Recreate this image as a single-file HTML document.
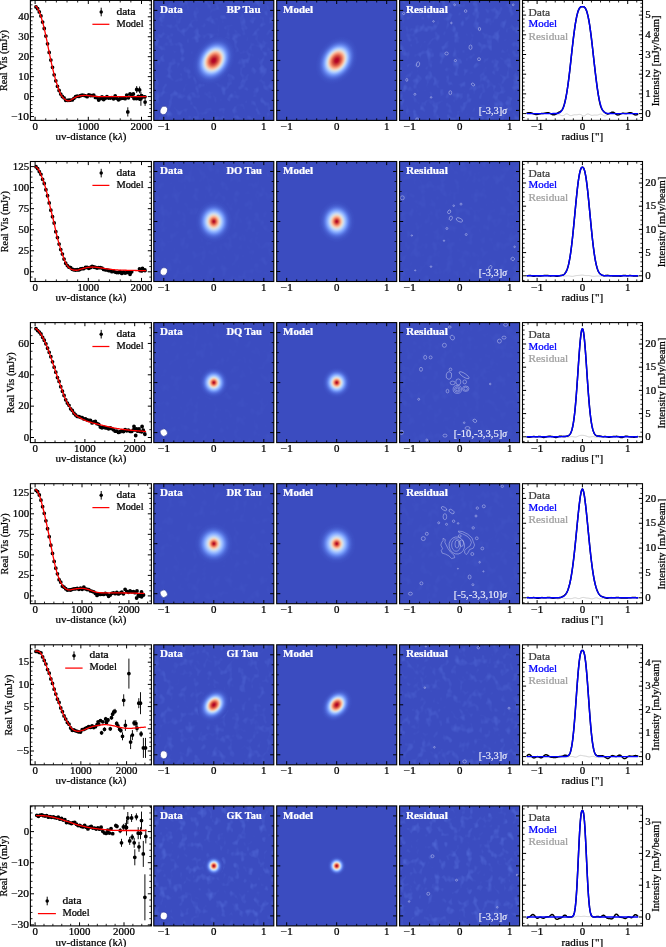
<!DOCTYPE html>
<html><head><meta charset="utf-8"><title>fig</title>
<style>html,body{margin:0;padding:0;background:#fff;overflow:hidden}svg{display:block;will-change:transform}text{font-family:"Liberation Serif",serif}</style>
</head><body>
<svg width="666" height="947" viewBox="0 0 666 947">
<defs><clipPath id="cl0"><rect x="30.4" y="0.4" width="121" height="120"/></clipPath><clipPath id="cl1"><rect x="30.4" y="161.5" width="121" height="120"/></clipPath><clipPath id="cl2"><rect x="30.4" y="322.6" width="121" height="120"/></clipPath><clipPath id="cl3"><rect x="30.4" y="483.7" width="121" height="120"/></clipPath><clipPath id="cl4"><rect x="30.4" y="644.8" width="121" height="120"/></clipPath><clipPath id="cl5"><rect x="30.4" y="805.9" width="121" height="120"/></clipPath><clipPath id="ci00"><rect x="153.8" y="0.4" width="120.0" height="120.0"/></clipPath><filter id="nz00" x="0" y="0" width="1" height="1" color-interpolation-filters="sRGB"><feTurbulence type="fractalNoise" baseFrequency="0.15 0.12" numOctaves="2" seed="7"/><feColorMatrix type="matrix" values="0 0 0 0 0.36  0 0 0 0 0.47  0 0 0 0 0.89  1.15 0 0 0 -0.62"/></filter><radialGradient id="g00" gradientUnits="userSpaceOnUse" cx="0" cy="0" r="25.75"><stop offset="0.0000" stop-color="#b40426"/><stop offset="0.0250" stop-color="#b40426"/><stop offset="0.0500" stop-color="#b40426"/><stop offset="0.0750" stop-color="#b70d28"/><stop offset="0.1000" stop-color="#ba162b"/><stop offset="0.1250" stop-color="#c0282f"/><stop offset="0.1500" stop-color="#c73635"/><stop offset="0.1750" stop-color="#cf453c"/><stop offset="0.2000" stop-color="#d75445"/><stop offset="0.2250" stop-color="#e0654f"/><stop offset="0.2500" stop-color="#e9785d"/><stop offset="0.2750" stop-color="#f08a6c"/><stop offset="0.3000" stop-color="#f59d7e"/><stop offset="0.3250" stop-color="#f7af91"/><stop offset="0.3500" stop-color="#f6bfa6"/><stop offset="0.3750" stop-color="#f1cdba"/><stop offset="0.4000" stop-color="#e7d7ce"/><stop offset="0.4250" stop-color="#d9dce1"/><stop offset="0.4500" stop-color="#cbd8ee"/><stop offset="0.4750" stop-color="#bcd2f7"/><stop offset="0.5000" stop-color="#adc9fd"/><stop offset="0.5250" stop-color="#9dbdff"/><stop offset="0.5500" stop-color="#8fb1fe"/><stop offset="0.5750" stop-color="#81a4fb"/><stop offset="0.6000" stop-color="#7597f6"/><stop offset="0.6250" stop-color="#6b8df0"/><stop offset="0.6500" stop-color="#6282ea"/><stop offset="0.6750" stop-color="#5a78e4"/><stop offset="0.7000" stop-color="#5470de"/><stop offset="0.7250" stop-color="#4e68d8"/><stop offset="0.7500" stop-color="#4a63d3"/><stop offset="0.7750" stop-color="#465ecf"/><stop offset="0.8000" stop-color="#4358cb"/><stop offset="0.8250" stop-color="#4055c8"/><stop offset="0.8500" stop-color="#3f53c6"/><stop offset="0.8750" stop-color="#3e51c5"/><stop offset="0.9000" stop-color="#3d50c3"/><stop offset="0.9250" stop-color="#3c4ec2"/><stop offset="0.9500" stop-color="#3c4ec2"/><stop offset="0.9750" stop-color="#3b4cc0"/><stop offset="1.0000" stop-color="#3b4cc0"/><stop offset="1" stop-color="#3b4cc0"/></radialGradient><clipPath id="ci01"><rect x="276.7" y="0.4" width="120.0" height="120.0"/></clipPath><radialGradient id="g01" gradientUnits="userSpaceOnUse" cx="0" cy="0" r="25.75"><stop offset="0.0000" stop-color="#b40426"/><stop offset="0.0250" stop-color="#b40426"/><stop offset="0.0500" stop-color="#b40426"/><stop offset="0.0750" stop-color="#b70d28"/><stop offset="0.1000" stop-color="#ba162b"/><stop offset="0.1250" stop-color="#c0282f"/><stop offset="0.1500" stop-color="#c73635"/><stop offset="0.1750" stop-color="#cf453c"/><stop offset="0.2000" stop-color="#d75445"/><stop offset="0.2250" stop-color="#e0654f"/><stop offset="0.2500" stop-color="#e9785d"/><stop offset="0.2750" stop-color="#f08a6c"/><stop offset="0.3000" stop-color="#f59d7e"/><stop offset="0.3250" stop-color="#f7af91"/><stop offset="0.3500" stop-color="#f6bfa6"/><stop offset="0.3750" stop-color="#f1cdba"/><stop offset="0.4000" stop-color="#e7d7ce"/><stop offset="0.4250" stop-color="#d9dce1"/><stop offset="0.4500" stop-color="#cbd8ee"/><stop offset="0.4750" stop-color="#bcd2f7"/><stop offset="0.5000" stop-color="#adc9fd"/><stop offset="0.5250" stop-color="#9dbdff"/><stop offset="0.5500" stop-color="#8fb1fe"/><stop offset="0.5750" stop-color="#81a4fb"/><stop offset="0.6000" stop-color="#7597f6"/><stop offset="0.6250" stop-color="#6b8df0"/><stop offset="0.6500" stop-color="#6282ea"/><stop offset="0.6750" stop-color="#5a78e4"/><stop offset="0.7000" stop-color="#5470de"/><stop offset="0.7250" stop-color="#4e68d8"/><stop offset="0.7500" stop-color="#4a63d3"/><stop offset="0.7750" stop-color="#465ecf"/><stop offset="0.8000" stop-color="#4358cb"/><stop offset="0.8250" stop-color="#4055c8"/><stop offset="0.8500" stop-color="#3f53c6"/><stop offset="0.8750" stop-color="#3e51c5"/><stop offset="0.9000" stop-color="#3d50c3"/><stop offset="0.9250" stop-color="#3c4ec2"/><stop offset="0.9500" stop-color="#3c4ec2"/><stop offset="0.9750" stop-color="#3b4cc0"/><stop offset="1.0000" stop-color="#3b4cc0"/><stop offset="1" stop-color="#3b4cc0"/></radialGradient><clipPath id="ci02"><rect x="399.6" y="0.4" width="120.0" height="120.0"/></clipPath><filter id="nz02" x="0" y="0" width="1" height="1" color-interpolation-filters="sRGB"><feTurbulence type="fractalNoise" baseFrequency="0.15 0.12" numOctaves="2" seed="9"/><feColorMatrix type="matrix" values="0 0 0 0 0.36  0 0 0 0 0.47  0 0 0 0 0.89  1.27 0 0 0 -0.68"/></filter><clipPath id="ci10"><rect x="153.8" y="161.5" width="120.0" height="120.0"/></clipPath><filter id="nz10" x="0" y="0" width="1" height="1" color-interpolation-filters="sRGB"><feTurbulence type="fractalNoise" baseFrequency="0.15 0.12" numOctaves="2" seed="10"/><feColorMatrix type="matrix" values="0 0 0 0 0.36  0 0 0 0 0.47  0 0 0 0 0.89  0.36 0 0 0 -0.19"/></filter><radialGradient id="g10" gradientUnits="userSpaceOnUse" cx="0" cy="0" r="21.1"><stop offset="0.0000" stop-color="#b40426"/><stop offset="0.0250" stop-color="#b50927"/><stop offset="0.0500" stop-color="#bb1b2c"/><stop offset="0.0750" stop-color="#c43032"/><stop offset="0.1000" stop-color="#d0473d"/><stop offset="0.1250" stop-color="#dc5d4a"/><stop offset="0.1500" stop-color="#e67259"/><stop offset="0.1750" stop-color="#ef886b"/><stop offset="0.2000" stop-color="#f59d7e"/><stop offset="0.2250" stop-color="#f7af91"/><stop offset="0.2500" stop-color="#f6bfa6"/><stop offset="0.2750" stop-color="#f2cbb7"/><stop offset="0.3000" stop-color="#ead5c9"/><stop offset="0.3250" stop-color="#dfdbd9"/><stop offset="0.3500" stop-color="#d5dbe5"/><stop offset="0.3750" stop-color="#cad8ef"/><stop offset="0.4000" stop-color="#bed2f6"/><stop offset="0.4250" stop-color="#b1cbfc"/><stop offset="0.4500" stop-color="#a5c3fe"/><stop offset="0.4750" stop-color="#98b9ff"/><stop offset="0.5000" stop-color="#8db0fe"/><stop offset="0.5250" stop-color="#82a6fb"/><stop offset="0.5500" stop-color="#799cf8"/><stop offset="0.5750" stop-color="#6f92f3"/><stop offset="0.6000" stop-color="#6788ee"/><stop offset="0.6250" stop-color="#5f7fe8"/><stop offset="0.6500" stop-color="#5977e3"/><stop offset="0.6750" stop-color="#536edd"/><stop offset="0.7000" stop-color="#4e68d8"/><stop offset="0.7250" stop-color="#4a63d3"/><stop offset="0.7500" stop-color="#465ecf"/><stop offset="0.7750" stop-color="#445acc"/><stop offset="0.8000" stop-color="#4257c9"/><stop offset="0.8250" stop-color="#4055c8"/><stop offset="0.8500" stop-color="#3e51c5"/><stop offset="0.8750" stop-color="#3d50c3"/><stop offset="0.9000" stop-color="#3d50c3"/><stop offset="0.9250" stop-color="#3c4ec2"/><stop offset="0.9500" stop-color="#3c4ec2"/><stop offset="0.9750" stop-color="#3b4cc0"/><stop offset="1.0000" stop-color="#3b4cc0"/><stop offset="1" stop-color="#3b4cc0"/></radialGradient><clipPath id="ci11"><rect x="276.7" y="161.5" width="120.0" height="120.0"/></clipPath><radialGradient id="g11" gradientUnits="userSpaceOnUse" cx="0" cy="0" r="21.1"><stop offset="0.0000" stop-color="#b40426"/><stop offset="0.0250" stop-color="#b50927"/><stop offset="0.0500" stop-color="#bb1b2c"/><stop offset="0.0750" stop-color="#c43032"/><stop offset="0.1000" stop-color="#d0473d"/><stop offset="0.1250" stop-color="#dc5d4a"/><stop offset="0.1500" stop-color="#e67259"/><stop offset="0.1750" stop-color="#ef886b"/><stop offset="0.2000" stop-color="#f59d7e"/><stop offset="0.2250" stop-color="#f7af91"/><stop offset="0.2500" stop-color="#f6bfa6"/><stop offset="0.2750" stop-color="#f2cbb7"/><stop offset="0.3000" stop-color="#ead5c9"/><stop offset="0.3250" stop-color="#dfdbd9"/><stop offset="0.3500" stop-color="#d5dbe5"/><stop offset="0.3750" stop-color="#cad8ef"/><stop offset="0.4000" stop-color="#bed2f6"/><stop offset="0.4250" stop-color="#b1cbfc"/><stop offset="0.4500" stop-color="#a5c3fe"/><stop offset="0.4750" stop-color="#98b9ff"/><stop offset="0.5000" stop-color="#8db0fe"/><stop offset="0.5250" stop-color="#82a6fb"/><stop offset="0.5500" stop-color="#799cf8"/><stop offset="0.5750" stop-color="#6f92f3"/><stop offset="0.6000" stop-color="#6788ee"/><stop offset="0.6250" stop-color="#5f7fe8"/><stop offset="0.6500" stop-color="#5977e3"/><stop offset="0.6750" stop-color="#536edd"/><stop offset="0.7000" stop-color="#4e68d8"/><stop offset="0.7250" stop-color="#4a63d3"/><stop offset="0.7500" stop-color="#465ecf"/><stop offset="0.7750" stop-color="#445acc"/><stop offset="0.8000" stop-color="#4257c9"/><stop offset="0.8250" stop-color="#4055c8"/><stop offset="0.8500" stop-color="#3e51c5"/><stop offset="0.8750" stop-color="#3d50c3"/><stop offset="0.9000" stop-color="#3d50c3"/><stop offset="0.9250" stop-color="#3c4ec2"/><stop offset="0.9500" stop-color="#3c4ec2"/><stop offset="0.9750" stop-color="#3b4cc0"/><stop offset="1.0000" stop-color="#3b4cc0"/><stop offset="1" stop-color="#3b4cc0"/></radialGradient><clipPath id="ci12"><rect x="399.6" y="161.5" width="120.0" height="120.0"/></clipPath><filter id="nz12" x="0" y="0" width="1" height="1" color-interpolation-filters="sRGB"><feTurbulence type="fractalNoise" baseFrequency="0.15 0.12" numOctaves="2" seed="12"/><feColorMatrix type="matrix" values="0 0 0 0 0.36  0 0 0 0 0.47  0 0 0 0 0.89  0.4 0 0 0 -0.21"/></filter><clipPath id="ci20"><rect x="153.8" y="322.6" width="120.0" height="120.0"/></clipPath><filter id="nz20" x="0" y="0" width="1" height="1" color-interpolation-filters="sRGB"><feTurbulence type="fractalNoise" baseFrequency="0.15 0.12" numOctaves="2" seed="13"/><feColorMatrix type="matrix" values="0 0 0 0 0.36  0 0 0 0 0.47  0 0 0 0 0.89  0.29 0 0 0 -0.16"/></filter><radialGradient id="g20" gradientUnits="userSpaceOnUse" cx="0" cy="0" r="15.85"><stop offset="0.0000" stop-color="#b40426"/><stop offset="0.0250" stop-color="#b50927"/><stop offset="0.0500" stop-color="#bb1b2c"/><stop offset="0.0750" stop-color="#c53334"/><stop offset="0.1000" stop-color="#d1493f"/><stop offset="0.1250" stop-color="#de614d"/><stop offset="0.1500" stop-color="#e9785d"/><stop offset="0.1750" stop-color="#f18f71"/><stop offset="0.2000" stop-color="#f6a385"/><stop offset="0.2250" stop-color="#f7b599"/><stop offset="0.2500" stop-color="#f4c5ad"/><stop offset="0.2750" stop-color="#edd1c2"/><stop offset="0.3000" stop-color="#e3d9d3"/><stop offset="0.3250" stop-color="#d8dce2"/><stop offset="0.3500" stop-color="#ccd9ed"/><stop offset="0.3750" stop-color="#c0d4f5"/><stop offset="0.4000" stop-color="#b3cdfb"/><stop offset="0.4250" stop-color="#a7c5fe"/><stop offset="0.4500" stop-color="#9bbcff"/><stop offset="0.4750" stop-color="#90b2fe"/><stop offset="0.5000" stop-color="#85a8fc"/><stop offset="0.5250" stop-color="#7b9ff9"/><stop offset="0.5500" stop-color="#7295f4"/><stop offset="0.5750" stop-color="#688aef"/><stop offset="0.6000" stop-color="#6282ea"/><stop offset="0.6250" stop-color="#5a78e4"/><stop offset="0.6500" stop-color="#5572df"/><stop offset="0.6750" stop-color="#506bda"/><stop offset="0.7000" stop-color="#4b64d5"/><stop offset="0.7250" stop-color="#485fd1"/><stop offset="0.7500" stop-color="#455cce"/><stop offset="0.7750" stop-color="#4358cb"/><stop offset="0.8000" stop-color="#4055c8"/><stop offset="0.8250" stop-color="#3f53c6"/><stop offset="0.8500" stop-color="#3e51c5"/><stop offset="0.8750" stop-color="#3d50c3"/><stop offset="0.9000" stop-color="#3c4ec2"/><stop offset="0.9250" stop-color="#3c4ec2"/><stop offset="0.9500" stop-color="#3b4cc0"/><stop offset="0.9750" stop-color="#3b4cc0"/><stop offset="1.0000" stop-color="#3b4cc0"/><stop offset="1" stop-color="#3b4cc0"/></radialGradient><clipPath id="ci21"><rect x="276.7" y="322.6" width="120.0" height="120.0"/></clipPath><radialGradient id="g21" gradientUnits="userSpaceOnUse" cx="0" cy="0" r="15.85"><stop offset="0.0000" stop-color="#b40426"/><stop offset="0.0250" stop-color="#b50927"/><stop offset="0.0500" stop-color="#bb1b2c"/><stop offset="0.0750" stop-color="#c53334"/><stop offset="0.1000" stop-color="#d1493f"/><stop offset="0.1250" stop-color="#de614d"/><stop offset="0.1500" stop-color="#e9785d"/><stop offset="0.1750" stop-color="#f18f71"/><stop offset="0.2000" stop-color="#f6a385"/><stop offset="0.2250" stop-color="#f7b599"/><stop offset="0.2500" stop-color="#f4c5ad"/><stop offset="0.2750" stop-color="#edd1c2"/><stop offset="0.3000" stop-color="#e3d9d3"/><stop offset="0.3250" stop-color="#d8dce2"/><stop offset="0.3500" stop-color="#ccd9ed"/><stop offset="0.3750" stop-color="#c0d4f5"/><stop offset="0.4000" stop-color="#b3cdfb"/><stop offset="0.4250" stop-color="#a7c5fe"/><stop offset="0.4500" stop-color="#9bbcff"/><stop offset="0.4750" stop-color="#90b2fe"/><stop offset="0.5000" stop-color="#85a8fc"/><stop offset="0.5250" stop-color="#7b9ff9"/><stop offset="0.5500" stop-color="#7295f4"/><stop offset="0.5750" stop-color="#688aef"/><stop offset="0.6000" stop-color="#6282ea"/><stop offset="0.6250" stop-color="#5a78e4"/><stop offset="0.6500" stop-color="#5572df"/><stop offset="0.6750" stop-color="#506bda"/><stop offset="0.7000" stop-color="#4b64d5"/><stop offset="0.7250" stop-color="#485fd1"/><stop offset="0.7500" stop-color="#455cce"/><stop offset="0.7750" stop-color="#4358cb"/><stop offset="0.8000" stop-color="#4055c8"/><stop offset="0.8250" stop-color="#3f53c6"/><stop offset="0.8500" stop-color="#3e51c5"/><stop offset="0.8750" stop-color="#3d50c3"/><stop offset="0.9000" stop-color="#3c4ec2"/><stop offset="0.9250" stop-color="#3c4ec2"/><stop offset="0.9500" stop-color="#3b4cc0"/><stop offset="0.9750" stop-color="#3b4cc0"/><stop offset="1.0000" stop-color="#3b4cc0"/><stop offset="1" stop-color="#3b4cc0"/></radialGradient><clipPath id="ci22"><rect x="399.6" y="322.6" width="120.0" height="120.0"/></clipPath><filter id="nz22" x="0" y="0" width="1" height="1" color-interpolation-filters="sRGB"><feTurbulence type="fractalNoise" baseFrequency="0.15 0.12" numOctaves="2" seed="15"/><feColorMatrix type="matrix" values="0 0 0 0 0.36  0 0 0 0 0.47  0 0 0 0 0.89  0.32 0 0 0 -0.17"/></filter><clipPath id="ci30"><rect x="153.8" y="483.7" width="120.0" height="120.0"/></clipPath><filter id="nz30" x="0" y="0" width="1" height="1" color-interpolation-filters="sRGB"><feTurbulence type="fractalNoise" baseFrequency="0.15 0.12" numOctaves="2" seed="16"/><feColorMatrix type="matrix" values="0 0 0 0 0.36  0 0 0 0 0.47  0 0 0 0 0.89  0.29 0 0 0 -0.16"/></filter><radialGradient id="g30" gradientUnits="userSpaceOnUse" cx="0" cy="0" r="20.35"><stop offset="0.0000" stop-color="#b40426"/><stop offset="0.0250" stop-color="#b50927"/><stop offset="0.0500" stop-color="#bd1f2d"/><stop offset="0.0750" stop-color="#ca3b37"/><stop offset="0.1000" stop-color="#d75445"/><stop offset="0.1250" stop-color="#e36c55"/><stop offset="0.1500" stop-color="#ee8669"/><stop offset="0.1750" stop-color="#f59f80"/><stop offset="0.2000" stop-color="#f7b396"/><stop offset="0.2250" stop-color="#f5c4ac"/><stop offset="0.2500" stop-color="#eed0c0"/><stop offset="0.2750" stop-color="#e4d9d2"/><stop offset="0.3000" stop-color="#d9dce1"/><stop offset="0.3250" stop-color="#cdd9ec"/><stop offset="0.3500" stop-color="#c3d5f4"/><stop offset="0.3750" stop-color="#b7cff9"/><stop offset="0.4000" stop-color="#abc8fd"/><stop offset="0.4250" stop-color="#a1c0ff"/><stop offset="0.4500" stop-color="#96b7ff"/><stop offset="0.4750" stop-color="#8caffe"/><stop offset="0.5000" stop-color="#82a6fb"/><stop offset="0.5250" stop-color="#799cf8"/><stop offset="0.5500" stop-color="#7093f3"/><stop offset="0.5750" stop-color="#688aef"/><stop offset="0.6000" stop-color="#6282ea"/><stop offset="0.6250" stop-color="#5b7ae5"/><stop offset="0.6500" stop-color="#5572df"/><stop offset="0.6750" stop-color="#506bda"/><stop offset="0.7000" stop-color="#4c66d6"/><stop offset="0.7250" stop-color="#4961d2"/><stop offset="0.7500" stop-color="#465ecf"/><stop offset="0.7750" stop-color="#4358cb"/><stop offset="0.8000" stop-color="#4257c9"/><stop offset="0.8250" stop-color="#3f53c6"/><stop offset="0.8500" stop-color="#3e51c5"/><stop offset="0.8750" stop-color="#3d50c3"/><stop offset="0.9000" stop-color="#3d50c3"/><stop offset="0.9250" stop-color="#3c4ec2"/><stop offset="0.9500" stop-color="#3c4ec2"/><stop offset="0.9750" stop-color="#3b4cc0"/><stop offset="1.0000" stop-color="#3b4cc0"/><stop offset="1" stop-color="#3b4cc0"/></radialGradient><clipPath id="ci31"><rect x="276.7" y="483.7" width="120.0" height="120.0"/></clipPath><radialGradient id="g31" gradientUnits="userSpaceOnUse" cx="0" cy="0" r="20.35"><stop offset="0.0000" stop-color="#b40426"/><stop offset="0.0250" stop-color="#b50927"/><stop offset="0.0500" stop-color="#bd1f2d"/><stop offset="0.0750" stop-color="#ca3b37"/><stop offset="0.1000" stop-color="#d75445"/><stop offset="0.1250" stop-color="#e36c55"/><stop offset="0.1500" stop-color="#ee8669"/><stop offset="0.1750" stop-color="#f59f80"/><stop offset="0.2000" stop-color="#f7b396"/><stop offset="0.2250" stop-color="#f5c4ac"/><stop offset="0.2500" stop-color="#eed0c0"/><stop offset="0.2750" stop-color="#e4d9d2"/><stop offset="0.3000" stop-color="#d9dce1"/><stop offset="0.3250" stop-color="#cdd9ec"/><stop offset="0.3500" stop-color="#c3d5f4"/><stop offset="0.3750" stop-color="#b7cff9"/><stop offset="0.4000" stop-color="#abc8fd"/><stop offset="0.4250" stop-color="#a1c0ff"/><stop offset="0.4500" stop-color="#96b7ff"/><stop offset="0.4750" stop-color="#8caffe"/><stop offset="0.5000" stop-color="#82a6fb"/><stop offset="0.5250" stop-color="#799cf8"/><stop offset="0.5500" stop-color="#7093f3"/><stop offset="0.5750" stop-color="#688aef"/><stop offset="0.6000" stop-color="#6282ea"/><stop offset="0.6250" stop-color="#5b7ae5"/><stop offset="0.6500" stop-color="#5572df"/><stop offset="0.6750" stop-color="#506bda"/><stop offset="0.7000" stop-color="#4c66d6"/><stop offset="0.7250" stop-color="#4961d2"/><stop offset="0.7500" stop-color="#465ecf"/><stop offset="0.7750" stop-color="#4358cb"/><stop offset="0.8000" stop-color="#4257c9"/><stop offset="0.8250" stop-color="#3f53c6"/><stop offset="0.8500" stop-color="#3e51c5"/><stop offset="0.8750" stop-color="#3d50c3"/><stop offset="0.9000" stop-color="#3d50c3"/><stop offset="0.9250" stop-color="#3c4ec2"/><stop offset="0.9500" stop-color="#3c4ec2"/><stop offset="0.9750" stop-color="#3b4cc0"/><stop offset="1.0000" stop-color="#3b4cc0"/><stop offset="1" stop-color="#3b4cc0"/></radialGradient><clipPath id="ci32"><rect x="399.6" y="483.7" width="120.0" height="120.0"/></clipPath><filter id="nz32" x="0" y="0" width="1" height="1" color-interpolation-filters="sRGB"><feTurbulence type="fractalNoise" baseFrequency="0.15 0.12" numOctaves="2" seed="18"/><feColorMatrix type="matrix" values="0 0 0 0 0.36  0 0 0 0 0.47  0 0 0 0 0.89  0.32 0 0 0 -0.17"/></filter><clipPath id="ci40"><rect x="153.8" y="644.8" width="120.0" height="120.0"/></clipPath><filter id="nz40" x="0" y="0" width="1" height="1" color-interpolation-filters="sRGB"><feTurbulence type="fractalNoise" baseFrequency="0.15 0.12" numOctaves="2" seed="19"/><feColorMatrix type="matrix" values="0 0 0 0 0.36  0 0 0 0 0.47  0 0 0 0 0.89  1.08 0 0 0 -0.58"/></filter><radialGradient id="g40" gradientUnits="userSpaceOnUse" cx="0" cy="0" r="18.65"><stop offset="0.0000" stop-color="#b40426"/><stop offset="0.0250" stop-color="#b40426"/><stop offset="0.0500" stop-color="#b50927"/><stop offset="0.0750" stop-color="#ba162b"/><stop offset="0.1000" stop-color="#be242e"/><stop offset="0.1250" stop-color="#c73635"/><stop offset="0.1500" stop-color="#cf453c"/><stop offset="0.1750" stop-color="#d85646"/><stop offset="0.2000" stop-color="#e26952"/><stop offset="0.2250" stop-color="#ea7b60"/><stop offset="0.2500" stop-color="#f29072"/><stop offset="0.2750" stop-color="#f6a385"/><stop offset="0.3000" stop-color="#f7b599"/><stop offset="0.3250" stop-color="#f4c5ad"/><stop offset="0.3500" stop-color="#edd1c2"/><stop offset="0.3750" stop-color="#e1dad6"/><stop offset="0.4000" stop-color="#d4dbe6"/><stop offset="0.4250" stop-color="#c5d6f2"/><stop offset="0.4500" stop-color="#b6cefa"/><stop offset="0.4750" stop-color="#a6c4fe"/><stop offset="0.5000" stop-color="#97b8ff"/><stop offset="0.5250" stop-color="#89acfd"/><stop offset="0.5500" stop-color="#7da0f9"/><stop offset="0.5750" stop-color="#7295f4"/><stop offset="0.6000" stop-color="#688aef"/><stop offset="0.6250" stop-color="#5f7fe8"/><stop offset="0.6500" stop-color="#5977e3"/><stop offset="0.6750" stop-color="#536edd"/><stop offset="0.7000" stop-color="#4e68d8"/><stop offset="0.7250" stop-color="#4961d2"/><stop offset="0.7500" stop-color="#465ecf"/><stop offset="0.7750" stop-color="#4358cb"/><stop offset="0.8000" stop-color="#4257c9"/><stop offset="0.8250" stop-color="#3f53c6"/><stop offset="0.8500" stop-color="#3e51c5"/><stop offset="0.8750" stop-color="#3d50c3"/><stop offset="0.9000" stop-color="#3c4ec2"/><stop offset="0.9250" stop-color="#3c4ec2"/><stop offset="0.9500" stop-color="#3b4cc0"/><stop offset="0.9750" stop-color="#3b4cc0"/><stop offset="1.0000" stop-color="#3b4cc0"/><stop offset="1" stop-color="#3b4cc0"/></radialGradient><clipPath id="ci41"><rect x="276.7" y="644.8" width="120.0" height="120.0"/></clipPath><radialGradient id="g41" gradientUnits="userSpaceOnUse" cx="0" cy="0" r="18.65"><stop offset="0.0000" stop-color="#b40426"/><stop offset="0.0250" stop-color="#b40426"/><stop offset="0.0500" stop-color="#b50927"/><stop offset="0.0750" stop-color="#ba162b"/><stop offset="0.1000" stop-color="#be242e"/><stop offset="0.1250" stop-color="#c73635"/><stop offset="0.1500" stop-color="#cf453c"/><stop offset="0.1750" stop-color="#d85646"/><stop offset="0.2000" stop-color="#e26952"/><stop offset="0.2250" stop-color="#ea7b60"/><stop offset="0.2500" stop-color="#f29072"/><stop offset="0.2750" stop-color="#f6a385"/><stop offset="0.3000" stop-color="#f7b599"/><stop offset="0.3250" stop-color="#f4c5ad"/><stop offset="0.3500" stop-color="#edd1c2"/><stop offset="0.3750" stop-color="#e1dad6"/><stop offset="0.4000" stop-color="#d4dbe6"/><stop offset="0.4250" stop-color="#c5d6f2"/><stop offset="0.4500" stop-color="#b6cefa"/><stop offset="0.4750" stop-color="#a6c4fe"/><stop offset="0.5000" stop-color="#97b8ff"/><stop offset="0.5250" stop-color="#89acfd"/><stop offset="0.5500" stop-color="#7da0f9"/><stop offset="0.5750" stop-color="#7295f4"/><stop offset="0.6000" stop-color="#688aef"/><stop offset="0.6250" stop-color="#5f7fe8"/><stop offset="0.6500" stop-color="#5977e3"/><stop offset="0.6750" stop-color="#536edd"/><stop offset="0.7000" stop-color="#4e68d8"/><stop offset="0.7250" stop-color="#4961d2"/><stop offset="0.7500" stop-color="#465ecf"/><stop offset="0.7750" stop-color="#4358cb"/><stop offset="0.8000" stop-color="#4257c9"/><stop offset="0.8250" stop-color="#3f53c6"/><stop offset="0.8500" stop-color="#3e51c5"/><stop offset="0.8750" stop-color="#3d50c3"/><stop offset="0.9000" stop-color="#3c4ec2"/><stop offset="0.9250" stop-color="#3c4ec2"/><stop offset="0.9500" stop-color="#3b4cc0"/><stop offset="0.9750" stop-color="#3b4cc0"/><stop offset="1.0000" stop-color="#3b4cc0"/><stop offset="1" stop-color="#3b4cc0"/></radialGradient><clipPath id="ci42"><rect x="399.6" y="644.8" width="120.0" height="120.0"/></clipPath><filter id="nz42" x="0" y="0" width="1" height="1" color-interpolation-filters="sRGB"><feTurbulence type="fractalNoise" baseFrequency="0.15 0.12" numOctaves="2" seed="21"/><feColorMatrix type="matrix" values="0 0 0 0 0.36  0 0 0 0 0.47  0 0 0 0 0.89  1.19 0 0 0 -0.64"/></filter><clipPath id="ci50"><rect x="153.8" y="805.9" width="120.0" height="120.0"/></clipPath><filter id="nz50" x="0" y="0" width="1" height="1" color-interpolation-filters="sRGB"><feTurbulence type="fractalNoise" baseFrequency="0.15 0.12" numOctaves="2" seed="22"/><feColorMatrix type="matrix" values="0 0 0 0 0.36  0 0 0 0 0.47  0 0 0 0 0.89  1.44 0 0 0 -0.78"/></filter><radialGradient id="g50" gradientUnits="userSpaceOnUse" cx="0" cy="0" r="10.4"><stop offset="0.0000" stop-color="#b40426"/><stop offset="0.0250" stop-color="#b40426"/><stop offset="0.0500" stop-color="#b8122a"/><stop offset="0.0750" stop-color="#be242e"/><stop offset="0.1000" stop-color="#c73635"/><stop offset="0.1250" stop-color="#d0473d"/><stop offset="0.1500" stop-color="#da5a49"/><stop offset="0.1750" stop-color="#e46e56"/><stop offset="0.2000" stop-color="#ed8366"/><stop offset="0.2250" stop-color="#f39778"/><stop offset="0.2500" stop-color="#f7aa8c"/><stop offset="0.2750" stop-color="#f7bca1"/><stop offset="0.3000" stop-color="#f2cab5"/><stop offset="0.3250" stop-color="#ead5c9"/><stop offset="0.3500" stop-color="#dddcdc"/><stop offset="0.3750" stop-color="#d1dae9"/><stop offset="0.4000" stop-color="#c3d5f4"/><stop offset="0.4250" stop-color="#b3cdfb"/><stop offset="0.4500" stop-color="#a5c3fe"/><stop offset="0.4750" stop-color="#97b8ff"/><stop offset="0.5000" stop-color="#89acfd"/><stop offset="0.5250" stop-color="#7da0f9"/><stop offset="0.5500" stop-color="#7295f4"/><stop offset="0.5750" stop-color="#688aef"/><stop offset="0.6000" stop-color="#5f7fe8"/><stop offset="0.6250" stop-color="#5977e3"/><stop offset="0.6500" stop-color="#536edd"/><stop offset="0.6750" stop-color="#4e68d8"/><stop offset="0.7000" stop-color="#4961d2"/><stop offset="0.7250" stop-color="#455cce"/><stop offset="0.7500" stop-color="#4358cb"/><stop offset="0.7750" stop-color="#4055c8"/><stop offset="0.8000" stop-color="#3f53c6"/><stop offset="0.8250" stop-color="#3e51c5"/><stop offset="0.8500" stop-color="#3d50c3"/><stop offset="0.8750" stop-color="#3c4ec2"/><stop offset="0.9000" stop-color="#3c4ec2"/><stop offset="0.9250" stop-color="#3b4cc0"/><stop offset="0.9500" stop-color="#3b4cc0"/><stop offset="0.9750" stop-color="#3b4cc0"/><stop offset="1.0000" stop-color="#3b4cc0"/><stop offset="1" stop-color="#3b4cc0"/></radialGradient><clipPath id="ci51"><rect x="276.7" y="805.9" width="120.0" height="120.0"/></clipPath><radialGradient id="g51" gradientUnits="userSpaceOnUse" cx="0" cy="0" r="10.4"><stop offset="0.0000" stop-color="#b40426"/><stop offset="0.0250" stop-color="#b40426"/><stop offset="0.0500" stop-color="#b8122a"/><stop offset="0.0750" stop-color="#be242e"/><stop offset="0.1000" stop-color="#c73635"/><stop offset="0.1250" stop-color="#d0473d"/><stop offset="0.1500" stop-color="#da5a49"/><stop offset="0.1750" stop-color="#e46e56"/><stop offset="0.2000" stop-color="#ed8366"/><stop offset="0.2250" stop-color="#f39778"/><stop offset="0.2500" stop-color="#f7aa8c"/><stop offset="0.2750" stop-color="#f7bca1"/><stop offset="0.3000" stop-color="#f2cab5"/><stop offset="0.3250" stop-color="#ead5c9"/><stop offset="0.3500" stop-color="#dddcdc"/><stop offset="0.3750" stop-color="#d1dae9"/><stop offset="0.4000" stop-color="#c3d5f4"/><stop offset="0.4250" stop-color="#b3cdfb"/><stop offset="0.4500" stop-color="#a5c3fe"/><stop offset="0.4750" stop-color="#97b8ff"/><stop offset="0.5000" stop-color="#89acfd"/><stop offset="0.5250" stop-color="#7da0f9"/><stop offset="0.5500" stop-color="#7295f4"/><stop offset="0.5750" stop-color="#688aef"/><stop offset="0.6000" stop-color="#5f7fe8"/><stop offset="0.6250" stop-color="#5977e3"/><stop offset="0.6500" stop-color="#536edd"/><stop offset="0.6750" stop-color="#4e68d8"/><stop offset="0.7000" stop-color="#4961d2"/><stop offset="0.7250" stop-color="#455cce"/><stop offset="0.7500" stop-color="#4358cb"/><stop offset="0.7750" stop-color="#4055c8"/><stop offset="0.8000" stop-color="#3f53c6"/><stop offset="0.8250" stop-color="#3e51c5"/><stop offset="0.8500" stop-color="#3d50c3"/><stop offset="0.8750" stop-color="#3c4ec2"/><stop offset="0.9000" stop-color="#3c4ec2"/><stop offset="0.9250" stop-color="#3b4cc0"/><stop offset="0.9500" stop-color="#3b4cc0"/><stop offset="0.9750" stop-color="#3b4cc0"/><stop offset="1.0000" stop-color="#3b4cc0"/><stop offset="1" stop-color="#3b4cc0"/></radialGradient><clipPath id="ci52"><rect x="399.6" y="805.9" width="120.0" height="120.0"/></clipPath><filter id="nz52" x="0" y="0" width="1" height="1" color-interpolation-filters="sRGB"><feTurbulence type="fractalNoise" baseFrequency="0.15 0.12" numOctaves="2" seed="24"/><feColorMatrix type="matrix" values="0 0 0 0 0.36  0 0 0 0 0.47  0 0 0 0 0.89  1.58 0 0 0 -0.86"/></filter><clipPath id="cp0"><rect x="522.5" y="0.4" width="120.0" height="120.0"/></clipPath><clipPath id="cp1"><rect x="522.5" y="161.5" width="120.0" height="120.0"/></clipPath><clipPath id="cp2"><rect x="522.5" y="322.6" width="120.0" height="120.0"/></clipPath><clipPath id="cp3"><rect x="522.5" y="483.7" width="120.0" height="120.0"/></clipPath><clipPath id="cp4"><rect x="522.5" y="644.8" width="120.0" height="120.0"/></clipPath><clipPath id="cp5"><rect x="522.5" y="805.9" width="120.0" height="120.0"/></clipPath></defs>
<rect width="666" height="947" fill="#fff"/>
<rect x="30.4" y="0.4" width="121" height="120" fill="#fff" stroke="#000" stroke-width="1.1"/>
<g clip-path="url(#cl0)">
<path d="M136.7 86.1V92.9M139.6 86.5V93.3M127.8 107.3V116.5M145.1 98.3V105.9M140.9 91.8V105.8" stroke="#111" stroke-width="1.0" fill="none"/>
<path d="M34.1 6.9a1.9 1.9 0 1 0 3.8 0a1.9 1.9 0 1 0 -3.8 0M35.75 8.68a1.9 1.9 0 1 0 3.8 0a1.9 1.9 0 1 0 -3.8 0M37.4 11.93a1.9 1.9 0 1 0 3.8 0a1.9 1.9 0 1 0 -3.8 0M39.05 15.92a1.9 1.9 0 1 0 3.8 0a1.9 1.9 0 1 0 -3.8 0M40.7 22.09a1.9 1.9 0 1 0 3.8 0a1.9 1.9 0 1 0 -3.8 0M42.35 28.48a1.9 1.9 0 1 0 3.8 0a1.9 1.9 0 1 0 -3.8 0M44 36.04a1.9 1.9 0 1 0 3.8 0a1.9 1.9 0 1 0 -3.8 0M45.65 43.78a1.9 1.9 0 1 0 3.8 0a1.9 1.9 0 1 0 -3.8 0M47.3 52.41a1.9 1.9 0 1 0 3.8 0a1.9 1.9 0 1 0 -3.8 0M48.95 60.12a1.9 1.9 0 1 0 3.8 0a1.9 1.9 0 1 0 -3.8 0M50.6 67.35a1.9 1.9 0 1 0 3.8 0a1.9 1.9 0 1 0 -3.8 0M52.25 74.86a1.9 1.9 0 1 0 3.8 0a1.9 1.9 0 1 0 -3.8 0M53.9 80.8a1.9 1.9 0 1 0 3.8 0a1.9 1.9 0 1 0 -3.8 0M55.55 86.36a1.9 1.9 0 1 0 3.8 0a1.9 1.9 0 1 0 -3.8 0M57.2 90.48a1.9 1.9 0 1 0 3.8 0a1.9 1.9 0 1 0 -3.8 0M58.85 94.03a1.9 1.9 0 1 0 3.8 0a1.9 1.9 0 1 0 -3.8 0M60.5 96.51a1.9 1.9 0 1 0 3.8 0a1.9 1.9 0 1 0 -3.8 0M62.15 97.84a1.9 1.9 0 1 0 3.8 0a1.9 1.9 0 1 0 -3.8 0M63.8 100.36a1.9 1.9 0 1 0 3.8 0a1.9 1.9 0 1 0 -3.8 0M65.45 100.29a1.9 1.9 0 1 0 3.8 0a1.9 1.9 0 1 0 -3.8 0M67.1 100.25a1.9 1.9 0 1 0 3.8 0a1.9 1.9 0 1 0 -3.8 0M68.75 100.06a1.9 1.9 0 1 0 3.8 0a1.9 1.9 0 1 0 -3.8 0M70.4 99.92a1.9 1.9 0 1 0 3.8 0a1.9 1.9 0 1 0 -3.8 0M72.05 98.28a1.9 1.9 0 1 0 3.8 0a1.9 1.9 0 1 0 -3.8 0M73.7 96.71a1.9 1.9 0 1 0 3.8 0a1.9 1.9 0 1 0 -3.8 0M75.35 96.13a1.9 1.9 0 1 0 3.8 0a1.9 1.9 0 1 0 -3.8 0M77 96.39a1.9 1.9 0 1 0 3.8 0a1.9 1.9 0 1 0 -3.8 0M78.65 95.7a1.9 1.9 0 1 0 3.8 0a1.9 1.9 0 1 0 -3.8 0M80.3 95.17a1.9 1.9 0 1 0 3.8 0a1.9 1.9 0 1 0 -3.8 0M81.95 95.34a1.9 1.9 0 1 0 3.8 0a1.9 1.9 0 1 0 -3.8 0M83.6 95.85a1.9 1.9 0 1 0 3.8 0a1.9 1.9 0 1 0 -3.8 0M85.25 96.67a1.9 1.9 0 1 0 3.8 0a1.9 1.9 0 1 0 -3.8 0M86.9 94.96a1.9 1.9 0 1 0 3.8 0a1.9 1.9 0 1 0 -3.8 0M88.55 95.5a1.9 1.9 0 1 0 3.8 0a1.9 1.9 0 1 0 -3.8 0M90.2 95.54a1.9 1.9 0 1 0 3.8 0a1.9 1.9 0 1 0 -3.8 0M91.85 95.21a1.9 1.9 0 1 0 3.8 0a1.9 1.9 0 1 0 -3.8 0M93.5 97.42a1.9 1.9 0 1 0 3.8 0a1.9 1.9 0 1 0 -3.8 0M95.15 97.68a1.9 1.9 0 1 0 3.8 0a1.9 1.9 0 1 0 -3.8 0M96.8 100.05a1.9 1.9 0 1 0 3.8 0a1.9 1.9 0 1 0 -3.8 0M98.45 98.64a1.9 1.9 0 1 0 3.8 0a1.9 1.9 0 1 0 -3.8 0M100.1 96.83a1.9 1.9 0 1 0 3.8 0a1.9 1.9 0 1 0 -3.8 0M101.75 99.59a1.9 1.9 0 1 0 3.8 0a1.9 1.9 0 1 0 -3.8 0M103.4 98.36a1.9 1.9 0 1 0 3.8 0a1.9 1.9 0 1 0 -3.8 0M105.05 96.63a1.9 1.9 0 1 0 3.8 0a1.9 1.9 0 1 0 -3.8 0M106.7 98.05a1.9 1.9 0 1 0 3.8 0a1.9 1.9 0 1 0 -3.8 0M108.35 98.05a1.9 1.9 0 1 0 3.8 0a1.9 1.9 0 1 0 -3.8 0M110 97.68a1.9 1.9 0 1 0 3.8 0a1.9 1.9 0 1 0 -3.8 0M111.65 98.84a1.9 1.9 0 1 0 3.8 0a1.9 1.9 0 1 0 -3.8 0M113.3 95.88a1.9 1.9 0 1 0 3.8 0a1.9 1.9 0 1 0 -3.8 0M114.95 98.45a1.9 1.9 0 1 0 3.8 0a1.9 1.9 0 1 0 -3.8 0M116.6 99.86a1.9 1.9 0 1 0 3.8 0a1.9 1.9 0 1 0 -3.8 0M118.25 98.75a1.9 1.9 0 1 0 3.8 0a1.9 1.9 0 1 0 -3.8 0M119.9 98.2a1.9 1.9 0 1 0 3.8 0a1.9 1.9 0 1 0 -3.8 0M121.55 98.11a1.9 1.9 0 1 0 3.8 0a1.9 1.9 0 1 0 -3.8 0M123.2 98.63a1.9 1.9 0 1 0 3.8 0a1.9 1.9 0 1 0 -3.8 0M124.85 95.06a1.9 1.9 0 1 0 3.8 0a1.9 1.9 0 1 0 -3.8 0M126.5 97.77a1.9 1.9 0 1 0 3.8 0a1.9 1.9 0 1 0 -3.8 0M128.15 94a1.9 1.9 0 1 0 3.8 0a1.9 1.9 0 1 0 -3.8 0M129.8 95.75a1.9 1.9 0 1 0 3.8 0a1.9 1.9 0 1 0 -3.8 0M131.45 93.89a1.9 1.9 0 1 0 3.8 0a1.9 1.9 0 1 0 -3.8 0M133.1 98.1a1.9 1.9 0 1 0 3.8 0a1.9 1.9 0 1 0 -3.8 0M134.75 98.52a1.9 1.9 0 1 0 3.8 0a1.9 1.9 0 1 0 -3.8 0M136.4 96.31a1.9 1.9 0 1 0 3.8 0a1.9 1.9 0 1 0 -3.8 0M138.05 99.19a1.9 1.9 0 1 0 3.8 0a1.9 1.9 0 1 0 -3.8 0M139.7 95.61a1.9 1.9 0 1 0 3.8 0a1.9 1.9 0 1 0 -3.8 0M141.35 96.82a1.9 1.9 0 1 0 3.8 0a1.9 1.9 0 1 0 -3.8 0M143 96.83a1.9 1.9 0 1 0 3.8 0a1.9 1.9 0 1 0 -3.8 0M134.8 89.5a1.9 1.9 0 1 0 3.8 0a1.9 1.9 0 1 0 -3.8 0M137.7 89.9a1.9 1.9 0 1 0 3.8 0a1.9 1.9 0 1 0 -3.8 0M125.9 111.9a1.9 1.9 0 1 0 3.8 0a1.9 1.9 0 1 0 -3.8 0M143.2 102.1a1.9 1.9 0 1 0 3.8 0a1.9 1.9 0 1 0 -3.8 0M139 98.8a1.9 1.9 0 1 0 3.8 0a1.9 1.9 0 1 0 -3.8 0M129.9 96a1.9 1.9 0 1 0 3.8 0a1.9 1.9 0 1 0 -3.8 0M132.1 98.5a1.9 1.9 0 1 0 3.8 0a1.9 1.9 0 1 0 -3.8 0" fill="#000"/>
<path d="M35.7 6.14L36.39 6.74L37.09 7.64L37.78 8.77L38.47 10.09L39.17 11.59L39.86 13.32L40.56 15.3L41.25 17.51L41.94 19.87L42.64 22.32L43.33 24.88L44.02 27.65L44.72 30.66L45.41 33.82L46.11 37.02L46.8 40.28L47.49 43.72L48.19 47.31L48.88 50.85L49.57 54.23L50.27 57.52L50.96 60.84L51.66 64.12L52.35 67.22L53.04 70.11L53.74 72.89L54.43 75.58L55.12 78.14L55.82 80.5L56.51 82.72L57.21 84.89L57.9 87.02L58.59 89.06L59.29 90.94L59.98 92.61L60.67 94.06L61.37 95.28L62.06 96.31L62.75 97.19L63.45 97.96L64.14 98.63L64.84 99.24L65.53 99.78L66.22 100.26L66.92 100.64L67.61 100.88L68.3 100.93L69 100.83L69.69 100.6L70.39 100.3L71.08 99.93L71.77 99.51L72.47 99.06L73.16 98.63L73.85 98.21L74.55 97.81L75.24 97.43L75.94 97.07L76.63 96.75L77.32 96.48L78.02 96.26L78.71 96.09L79.4 95.96L80.1 95.85L80.79 95.76L81.48 95.68L82.18 95.6L82.87 95.54L83.57 95.49L84.26 95.45L84.95 95.43L85.65 95.43L86.34 95.45L87.03 95.5L87.73 95.57L88.42 95.66L89.12 95.74L89.81 95.82L90.5 95.9L91.2 95.97L91.89 96.04L92.58 96.12L93.28 96.19L93.97 96.27L94.67 96.34L95.36 96.4L96.05 96.46L96.75 96.51L97.44 96.55L98.13 96.58L98.83 96.59L99.52 96.6L100.22 96.6L100.91 96.6L101.6 96.6L102.3 96.6L102.99 96.6L103.68 96.6L104.38 96.6L105.07 96.6L105.76 96.6L106.46 96.6L107.15 96.6L107.85 96.6L108.54 96.6L109.23 96.6L109.93 96.6L110.62 96.6L111.31 96.6L112.01 96.6L112.7 96.6L113.4 96.6L114.09 96.6L114.78 96.6L115.48 96.6L116.17 96.6L116.86 96.6L117.56 96.6L118.25 96.6L118.95 96.6L119.64 96.6L120.33 96.6L121.03 96.6L121.72 96.6L122.41 96.6L123.11 96.6L123.8 96.6L124.49 96.6L125.19 96.6L125.88 96.6L126.58 96.6L127.27 96.6L127.96 96.6L128.66 96.6L129.35 96.6L130.04 96.6L130.74 96.6L131.43 96.6L132.13 96.6L132.82 96.6L133.51 96.6L134.21 96.6L134.9 96.6L135.59 96.6L136.29 96.6L136.98 96.6L137.68 96.6L138.37 96.6L139.06 96.6L139.76 96.6L140.45 96.6L141.14 96.6L141.84 96.6L142.53 96.6L143.23 96.6L143.92 96.6L144.61 96.6L145.31 96.6L146 96.6" stroke="#ff0000" stroke-width="1.3" fill="none" stroke-linejoin="round" stroke-linecap="round" />
</g>
<path d="M35.1 120.4v-3.6M35.1 0.4v3.6M88.3 120.4v-3.6M88.3 0.4v3.6M141.5 120.4v-3.6M141.5 0.4v3.6M30.4 116.55h3.6M151.4 116.55h-3.6M30.4 96.6h3.6M151.4 96.6h-3.6M30.4 76.65h3.6M151.4 76.65h-3.6M30.4 56.7h3.6M151.4 56.7h-3.6M30.4 36.75h3.6M151.4 36.75h-3.6M30.4 16.8h3.6M151.4 16.8h-3.6" stroke="#000" stroke-width="1.0" fill="none"/>
<path d="M45.74 120.4v-2.1M45.74 0.4v2.1M56.38 120.4v-2.1M56.38 0.4v2.1M67.02 120.4v-2.1M67.02 0.4v2.1M77.66 120.4v-2.1M77.66 0.4v2.1M98.94 120.4v-2.1M98.94 0.4v2.1M109.58 120.4v-2.1M109.58 0.4v2.1M120.22 120.4v-2.1M120.22 0.4v2.1M130.86 120.4v-2.1M130.86 0.4v2.1M30.4 112.56h2.1M151.4 112.56h-2.1M30.4 108.57h2.1M151.4 108.57h-2.1M30.4 104.58h2.1M151.4 104.58h-2.1M30.4 100.59h2.1M151.4 100.59h-2.1M30.4 92.61h2.1M151.4 92.61h-2.1M30.4 88.62h2.1M151.4 88.62h-2.1M30.4 84.63h2.1M151.4 84.63h-2.1M30.4 80.64h2.1M151.4 80.64h-2.1M30.4 72.66h2.1M151.4 72.66h-2.1M30.4 68.67h2.1M151.4 68.67h-2.1M30.4 64.68h2.1M151.4 64.68h-2.1M30.4 60.69h2.1M151.4 60.69h-2.1M30.4 52.71h2.1M151.4 52.71h-2.1M30.4 48.72h2.1M151.4 48.72h-2.1M30.4 44.73h2.1M151.4 44.73h-2.1M30.4 40.74h2.1M151.4 40.74h-2.1M30.4 32.76h2.1M151.4 32.76h-2.1M30.4 28.77h2.1M151.4 28.77h-2.1M30.4 24.78h2.1M151.4 24.78h-2.1M30.4 20.79h2.1M151.4 20.79h-2.1M30.4 12.81h2.1M151.4 12.81h-2.1M30.4 8.82h2.1M151.4 8.82h-2.1M30.4 4.83h2.1M151.4 4.83h-2.1M30.4 0.84h2.1M151.4 0.84h-2.1" stroke="#000" stroke-width="0.85" fill="none"/>
<text x="35.1" y="129.6" font-size="9.3" stroke="#000" stroke-width="0.22" text-anchor="middle" textLength="5.45" lengthAdjust="spacingAndGlyphs" >0</text>
<text x="88.3" y="129.6" font-size="9.3" stroke="#000" stroke-width="0.22" text-anchor="middle" textLength="21.78" lengthAdjust="spacingAndGlyphs" >1000</text>
<text x="141.5" y="129.6" font-size="9.3" stroke="#000" stroke-width="0.22" text-anchor="middle" textLength="21.78" lengthAdjust="spacingAndGlyphs" >2000</text>
<text x="29.1" y="119.65" font-size="9.3" stroke="#000" stroke-width="0.22" text-anchor="end" textLength="18.06" lengthAdjust="spacingAndGlyphs" >−10</text>
<text x="29.1" y="99.7" font-size="9.3" stroke="#000" stroke-width="0.22" text-anchor="end" textLength="5.45" lengthAdjust="spacingAndGlyphs" >0</text>
<text x="29.1" y="79.75" font-size="9.3" stroke="#000" stroke-width="0.22" text-anchor="end" textLength="10.89" lengthAdjust="spacingAndGlyphs" >10</text>
<text x="29.1" y="59.8" font-size="9.3" stroke="#000" stroke-width="0.22" text-anchor="end" textLength="10.89" lengthAdjust="spacingAndGlyphs" >20</text>
<text x="29.1" y="39.85" font-size="9.3" stroke="#000" stroke-width="0.22" text-anchor="end" textLength="10.89" lengthAdjust="spacingAndGlyphs" >30</text>
<text x="29.1" y="19.9" font-size="9.3" stroke="#000" stroke-width="0.22" text-anchor="end" textLength="10.89" lengthAdjust="spacingAndGlyphs" >40</text>
<text x="0" y="0" font-size="9.3" stroke="#000" stroke-width="0.22" text-anchor="middle" textLength="61.01" lengthAdjust="spacingAndGlyphs" transform="translate(6.54 60.6) rotate(-90)">Real Vis (mJy)</text>
<text x="91" y="140" font-size="9.3" stroke="#000" stroke-width="0.22" text-anchor="middle" textLength="70.77" lengthAdjust="spacingAndGlyphs" >uv-distance (k<tspan font-style="italic">λ</tspan>)</text>
<path d="M101.2 7.7V16.3" stroke="#000" stroke-width="1.0"/>
<circle cx="101.2" cy="12" r="1.75"/>
<text x="116.4" y="14.6" font-size="9.3" stroke="#000" stroke-width="0.22" textLength="19.12" lengthAdjust="spacingAndGlyphs" >data</text>
<path d="M92.4 24.3H109.4" stroke="#ff0000" stroke-width="1.25"/>
<text x="116.4" y="26.6" font-size="9.3" stroke="#000" stroke-width="0.22" textLength="27.2" lengthAdjust="spacingAndGlyphs" >Model</text>
<rect x="30.4" y="161.5" width="121" height="120" fill="#fff" stroke="#000" stroke-width="1.1"/>
<g clip-path="url(#cl1)">
<path d="" stroke="#111" stroke-width="1.0" fill="none"/>
<path d="M34.1 166.73a1.9 1.9 0 1 0 3.8 0a1.9 1.9 0 1 0 -3.8 0M35.75 168.61a1.9 1.9 0 1 0 3.8 0a1.9 1.9 0 1 0 -3.8 0M37.4 171.56a1.9 1.9 0 1 0 3.8 0a1.9 1.9 0 1 0 -3.8 0M39.05 174.33a1.9 1.9 0 1 0 3.8 0a1.9 1.9 0 1 0 -3.8 0M40.7 179.3a1.9 1.9 0 1 0 3.8 0a1.9 1.9 0 1 0 -3.8 0M42.35 183.51a1.9 1.9 0 1 0 3.8 0a1.9 1.9 0 1 0 -3.8 0M44 189.75a1.9 1.9 0 1 0 3.8 0a1.9 1.9 0 1 0 -3.8 0M45.65 195.76a1.9 1.9 0 1 0 3.8 0a1.9 1.9 0 1 0 -3.8 0M47.3 202.95a1.9 1.9 0 1 0 3.8 0a1.9 1.9 0 1 0 -3.8 0M48.95 210.17a1.9 1.9 0 1 0 3.8 0a1.9 1.9 0 1 0 -3.8 0M50.6 216.67a1.9 1.9 0 1 0 3.8 0a1.9 1.9 0 1 0 -3.8 0M52.25 223.01a1.9 1.9 0 1 0 3.8 0a1.9 1.9 0 1 0 -3.8 0M53.9 231.69a1.9 1.9 0 1 0 3.8 0a1.9 1.9 0 1 0 -3.8 0M55.55 237.56a1.9 1.9 0 1 0 3.8 0a1.9 1.9 0 1 0 -3.8 0M57.2 244.07a1.9 1.9 0 1 0 3.8 0a1.9 1.9 0 1 0 -3.8 0M58.85 249.61a1.9 1.9 0 1 0 3.8 0a1.9 1.9 0 1 0 -3.8 0M60.5 254.08a1.9 1.9 0 1 0 3.8 0a1.9 1.9 0 1 0 -3.8 0M62.15 259.03a1.9 1.9 0 1 0 3.8 0a1.9 1.9 0 1 0 -3.8 0M63.8 263.22a1.9 1.9 0 1 0 3.8 0a1.9 1.9 0 1 0 -3.8 0M65.45 265.62a1.9 1.9 0 1 0 3.8 0a1.9 1.9 0 1 0 -3.8 0M67.1 267.21a1.9 1.9 0 1 0 3.8 0a1.9 1.9 0 1 0 -3.8 0M68.75 267.64a1.9 1.9 0 1 0 3.8 0a1.9 1.9 0 1 0 -3.8 0M70.4 269.24a1.9 1.9 0 1 0 3.8 0a1.9 1.9 0 1 0 -3.8 0M72.05 269.8a1.9 1.9 0 1 0 3.8 0a1.9 1.9 0 1 0 -3.8 0M73.7 270.01a1.9 1.9 0 1 0 3.8 0a1.9 1.9 0 1 0 -3.8 0M75.35 269.76a1.9 1.9 0 1 0 3.8 0a1.9 1.9 0 1 0 -3.8 0M77 269.92a1.9 1.9 0 1 0 3.8 0a1.9 1.9 0 1 0 -3.8 0M78.65 268.98a1.9 1.9 0 1 0 3.8 0a1.9 1.9 0 1 0 -3.8 0M80.3 268.68a1.9 1.9 0 1 0 3.8 0a1.9 1.9 0 1 0 -3.8 0M81.95 268.56a1.9 1.9 0 1 0 3.8 0a1.9 1.9 0 1 0 -3.8 0M83.6 267.45a1.9 1.9 0 1 0 3.8 0a1.9 1.9 0 1 0 -3.8 0M85.25 267.36a1.9 1.9 0 1 0 3.8 0a1.9 1.9 0 1 0 -3.8 0M86.9 268.27a1.9 1.9 0 1 0 3.8 0a1.9 1.9 0 1 0 -3.8 0M88.55 267.52a1.9 1.9 0 1 0 3.8 0a1.9 1.9 0 1 0 -3.8 0M90.2 266.41a1.9 1.9 0 1 0 3.8 0a1.9 1.9 0 1 0 -3.8 0M91.85 267.02a1.9 1.9 0 1 0 3.8 0a1.9 1.9 0 1 0 -3.8 0M93.5 267.47a1.9 1.9 0 1 0 3.8 0a1.9 1.9 0 1 0 -3.8 0M95.15 268a1.9 1.9 0 1 0 3.8 0a1.9 1.9 0 1 0 -3.8 0M96.8 267.68a1.9 1.9 0 1 0 3.8 0a1.9 1.9 0 1 0 -3.8 0M98.45 267.63a1.9 1.9 0 1 0 3.8 0a1.9 1.9 0 1 0 -3.8 0M100.1 268.09a1.9 1.9 0 1 0 3.8 0a1.9 1.9 0 1 0 -3.8 0M101.75 269.41a1.9 1.9 0 1 0 3.8 0a1.9 1.9 0 1 0 -3.8 0M103.4 269.82a1.9 1.9 0 1 0 3.8 0a1.9 1.9 0 1 0 -3.8 0M105.05 269.89a1.9 1.9 0 1 0 3.8 0a1.9 1.9 0 1 0 -3.8 0M106.7 270.52a1.9 1.9 0 1 0 3.8 0a1.9 1.9 0 1 0 -3.8 0M108.35 270.68a1.9 1.9 0 1 0 3.8 0a1.9 1.9 0 1 0 -3.8 0M110 271.67a1.9 1.9 0 1 0 3.8 0a1.9 1.9 0 1 0 -3.8 0M111.65 271.04a1.9 1.9 0 1 0 3.8 0a1.9 1.9 0 1 0 -3.8 0M113.3 272.06a1.9 1.9 0 1 0 3.8 0a1.9 1.9 0 1 0 -3.8 0M114.95 272.53a1.9 1.9 0 1 0 3.8 0a1.9 1.9 0 1 0 -3.8 0M116.6 272.48a1.9 1.9 0 1 0 3.8 0a1.9 1.9 0 1 0 -3.8 0M118.25 271.7a1.9 1.9 0 1 0 3.8 0a1.9 1.9 0 1 0 -3.8 0M119.9 273.45a1.9 1.9 0 1 0 3.8 0a1.9 1.9 0 1 0 -3.8 0M121.55 272.09a1.9 1.9 0 1 0 3.8 0a1.9 1.9 0 1 0 -3.8 0M123.2 273.1a1.9 1.9 0 1 0 3.8 0a1.9 1.9 0 1 0 -3.8 0M124.85 272.62a1.9 1.9 0 1 0 3.8 0a1.9 1.9 0 1 0 -3.8 0M126.5 272.26a1.9 1.9 0 1 0 3.8 0a1.9 1.9 0 1 0 -3.8 0M128.15 274.31a1.9 1.9 0 1 0 3.8 0a1.9 1.9 0 1 0 -3.8 0M129.8 271.84a1.9 1.9 0 1 0 3.8 0a1.9 1.9 0 1 0 -3.8 0M138.05 270.52a1.9 1.9 0 1 0 3.8 0a1.9 1.9 0 1 0 -3.8 0M139.7 270.89a1.9 1.9 0 1 0 3.8 0a1.9 1.9 0 1 0 -3.8 0M141.35 270.03a1.9 1.9 0 1 0 3.8 0a1.9 1.9 0 1 0 -3.8 0M143 269.96a1.9 1.9 0 1 0 3.8 0a1.9 1.9 0 1 0 -3.8 0M128.3 273.5a1.9 1.9 0 1 0 3.8 0a1.9 1.9 0 1 0 -3.8 0M137.6 269a1.9 1.9 0 1 0 3.8 0a1.9 1.9 0 1 0 -3.8 0M140.6 268.5a1.9 1.9 0 1 0 3.8 0a1.9 1.9 0 1 0 -3.8 0M143.1 270.5a1.9 1.9 0 1 0 3.8 0a1.9 1.9 0 1 0 -3.8 0" fill="#000"/>
<path d="M35.7 166.93L36.39 167.28L37.08 167.85L37.77 168.63L38.46 169.58L39.16 170.7L39.85 172.04L40.54 173.62L41.23 175.38L41.92 177.22L42.61 179.04L43.3 180.87L43.99 182.8L44.69 184.92L45.38 187.26L46.07 189.79L46.76 192.44L47.45 195.19L48.14 198.07L48.83 201.08L49.52 204.18L50.22 207.24L50.91 210.18L51.6 212.99L52.29 215.75L52.98 218.51L53.67 221.4L54.36 224.47L55.05 227.71L55.74 230.93L56.44 233.98L57.13 236.81L57.82 239.45L58.51 241.94L59.2 244.32L59.89 246.62L60.58 248.84L61.27 251.01L61.97 253.12L62.66 255.15L63.35 257.09L64.04 258.94L64.73 260.65L65.42 262.19L66.11 263.56L66.8 264.78L67.49 265.84L68.19 266.72L68.88 267.45L69.57 268.05L70.26 268.57L70.95 269.01L71.64 269.37L72.33 269.65L73.02 269.86L73.72 270L74.41 270.11L75.1 270.19L75.79 270.24L76.48 270.24L77.17 270.18L77.86 270.05L78.55 269.86L79.25 269.65L79.94 269.43L80.63 269.21L81.32 269L82.01 268.78L82.7 268.57L83.39 268.37L84.08 268.19L84.77 268.01L85.47 267.85L86.16 267.7L86.85 267.56L87.54 267.44L88.23 267.34L88.92 267.25L89.61 267.18L90.3 267.12L91 267.07L91.69 267.03L92.38 267.02L93.07 267.03L93.76 267.06L94.45 267.1L95.14 267.17L95.83 267.24L96.53 267.33L97.22 267.41L97.91 267.5L98.6 267.59L99.29 267.68L99.98 267.78L100.67 267.88L101.36 267.99L102.05 268.11L102.75 268.23L103.44 268.35L104.13 268.46L104.82 268.58L105.51 268.69L106.2 268.79L106.89 268.88L107.58 268.97L108.28 269.06L108.97 269.14L109.66 269.23L110.35 269.31L111.04 269.39L111.73 269.47L112.42 269.55L113.11 269.62L113.81 269.69L114.5 269.75L115.19 269.81L115.88 269.87L116.57 269.91L117.26 269.96L117.95 269.99L118.64 270.03L119.33 270.06L120.03 270.08L120.72 270.11L121.41 270.13L122.1 270.16L122.79 270.18L123.48 270.2L124.17 270.22L124.86 270.23L125.56 270.25L126.25 270.27L126.94 270.29L127.63 270.3L128.32 270.32L129.01 270.33L129.7 270.35L130.39 270.37L131.08 270.38L131.78 270.4L132.47 270.42L133.16 270.43L133.85 270.45L134.54 270.47L135.23 270.48L135.92 270.5L136.61 270.51L137.31 270.53L138 270.55L138.69 270.56L139.38 270.58L140.07 270.59L140.76 270.61L141.45 270.62L142.14 270.63L142.84 270.65L143.53 270.66L144.22 270.67L144.91 270.69L145.6 270.69" stroke="#ff0000" stroke-width="1.3" fill="none" stroke-linejoin="round" stroke-linecap="round" />
</g>
<path d="M35.1 281.5v-3.6M35.1 161.5v3.6M88.3 281.5v-3.6M88.3 161.5v3.6M141.5 281.5v-3.6M141.5 161.5v3.6M30.4 271.8h3.6M151.4 271.8h-3.6M30.4 250.76h3.6M151.4 250.76h-3.6M30.4 229.72h3.6M151.4 229.72h-3.6M30.4 208.68h3.6M151.4 208.68h-3.6M30.4 187.64h3.6M151.4 187.64h-3.6M30.4 166.6h3.6M151.4 166.6h-3.6" stroke="#000" stroke-width="1.0" fill="none"/>
<path d="M45.74 281.5v-2.1M45.74 161.5v2.1M56.38 281.5v-2.1M56.38 161.5v2.1M67.02 281.5v-2.1M67.02 161.5v2.1M77.66 281.5v-2.1M77.66 161.5v2.1M98.94 281.5v-2.1M98.94 161.5v2.1M109.58 281.5v-2.1M109.58 161.5v2.1M120.22 281.5v-2.1M120.22 161.5v2.1M130.86 281.5v-2.1M130.86 161.5v2.1M30.4 277.06h2.1M151.4 277.06h-2.1M30.4 266.54h2.1M151.4 266.54h-2.1M30.4 261.28h2.1M151.4 261.28h-2.1M30.4 256.02h2.1M151.4 256.02h-2.1M30.4 245.5h2.1M151.4 245.5h-2.1M30.4 240.24h2.1M151.4 240.24h-2.1M30.4 234.98h2.1M151.4 234.98h-2.1M30.4 224.46h2.1M151.4 224.46h-2.1M30.4 219.2h2.1M151.4 219.2h-2.1M30.4 213.94h2.1M151.4 213.94h-2.1M30.4 203.42h2.1M151.4 203.42h-2.1M30.4 198.16h2.1M151.4 198.16h-2.1M30.4 192.9h2.1M151.4 192.9h-2.1M30.4 182.38h2.1M151.4 182.38h-2.1M30.4 177.12h2.1M151.4 177.12h-2.1M30.4 171.86h2.1M151.4 171.86h-2.1" stroke="#000" stroke-width="0.85" fill="none"/>
<text x="35.1" y="290.7" font-size="9.3" stroke="#000" stroke-width="0.22" text-anchor="middle" textLength="5.45" lengthAdjust="spacingAndGlyphs" >0</text>
<text x="88.3" y="290.7" font-size="9.3" stroke="#000" stroke-width="0.22" text-anchor="middle" textLength="21.78" lengthAdjust="spacingAndGlyphs" >1000</text>
<text x="141.5" y="290.7" font-size="9.3" stroke="#000" stroke-width="0.22" text-anchor="middle" textLength="21.78" lengthAdjust="spacingAndGlyphs" >2000</text>
<text x="29.1" y="274.9" font-size="9.3" stroke="#000" stroke-width="0.22" text-anchor="end" textLength="5.45" lengthAdjust="spacingAndGlyphs" >0</text>
<text x="29.1" y="253.86" font-size="9.3" stroke="#000" stroke-width="0.22" text-anchor="end" textLength="10.89" lengthAdjust="spacingAndGlyphs" >25</text>
<text x="29.1" y="232.82" font-size="9.3" stroke="#000" stroke-width="0.22" text-anchor="end" textLength="10.89" lengthAdjust="spacingAndGlyphs" >50</text>
<text x="29.1" y="211.78" font-size="9.3" stroke="#000" stroke-width="0.22" text-anchor="end" textLength="10.89" lengthAdjust="spacingAndGlyphs" >75</text>
<text x="29.1" y="190.74" font-size="9.3" stroke="#000" stroke-width="0.22" text-anchor="end" textLength="16.34" lengthAdjust="spacingAndGlyphs" >100</text>
<text x="29.1" y="169.7" font-size="9.3" stroke="#000" stroke-width="0.22" text-anchor="end" textLength="16.34" lengthAdjust="spacingAndGlyphs" >125</text>
<text x="0" y="0" font-size="9.3" stroke="#000" stroke-width="0.22" text-anchor="middle" textLength="61.01" lengthAdjust="spacingAndGlyphs" transform="translate(8.26 221.7) rotate(-90)">Real Vis (mJy)</text>
<text x="91" y="301.1" font-size="9.3" stroke="#000" stroke-width="0.22" text-anchor="middle" textLength="70.77" lengthAdjust="spacingAndGlyphs" >uv-distance (k<tspan font-style="italic">λ</tspan>)</text>
<path d="M101.2 168.8V177.4" stroke="#000" stroke-width="1.0"/>
<circle cx="101.2" cy="173.1" r="1.75"/>
<text x="116.4" y="175.7" font-size="9.3" stroke="#000" stroke-width="0.22" textLength="19.12" lengthAdjust="spacingAndGlyphs" >data</text>
<path d="M92.4 185.4H109.4" stroke="#ff0000" stroke-width="1.25"/>
<text x="116.4" y="187.7" font-size="9.3" stroke="#000" stroke-width="0.22" textLength="27.2" lengthAdjust="spacingAndGlyphs" >Model</text>
<rect x="30.4" y="322.6" width="121" height="120" fill="#fff" stroke="#000" stroke-width="1.1"/>
<g clip-path="url(#cl2)">
<path d="" stroke="#111" stroke-width="1.0" fill="none"/>
<path d="M34.1 328.64a1.9 1.9 0 1 0 3.8 0a1.9 1.9 0 1 0 -3.8 0M35.75 330.55a1.9 1.9 0 1 0 3.8 0a1.9 1.9 0 1 0 -3.8 0M37.4 332.08a1.9 1.9 0 1 0 3.8 0a1.9 1.9 0 1 0 -3.8 0M39.05 334.01a1.9 1.9 0 1 0 3.8 0a1.9 1.9 0 1 0 -3.8 0M40.7 337.32a1.9 1.9 0 1 0 3.8 0a1.9 1.9 0 1 0 -3.8 0M42.35 340.27a1.9 1.9 0 1 0 3.8 0a1.9 1.9 0 1 0 -3.8 0M44 343.81a1.9 1.9 0 1 0 3.8 0a1.9 1.9 0 1 0 -3.8 0M45.65 348.24a1.9 1.9 0 1 0 3.8 0a1.9 1.9 0 1 0 -3.8 0M47.3 352.29a1.9 1.9 0 1 0 3.8 0a1.9 1.9 0 1 0 -3.8 0M48.95 356.63a1.9 1.9 0 1 0 3.8 0a1.9 1.9 0 1 0 -3.8 0M50.6 361.79a1.9 1.9 0 1 0 3.8 0a1.9 1.9 0 1 0 -3.8 0M52.25 367.16a1.9 1.9 0 1 0 3.8 0a1.9 1.9 0 1 0 -3.8 0M53.9 372.21a1.9 1.9 0 1 0 3.8 0a1.9 1.9 0 1 0 -3.8 0M55.55 377.54a1.9 1.9 0 1 0 3.8 0a1.9 1.9 0 1 0 -3.8 0M57.2 381.43a1.9 1.9 0 1 0 3.8 0a1.9 1.9 0 1 0 -3.8 0M58.85 386.63a1.9 1.9 0 1 0 3.8 0a1.9 1.9 0 1 0 -3.8 0M60.5 391.27a1.9 1.9 0 1 0 3.8 0a1.9 1.9 0 1 0 -3.8 0M62.15 395.48a1.9 1.9 0 1 0 3.8 0a1.9 1.9 0 1 0 -3.8 0M63.8 399.83a1.9 1.9 0 1 0 3.8 0a1.9 1.9 0 1 0 -3.8 0M65.45 403.06a1.9 1.9 0 1 0 3.8 0a1.9 1.9 0 1 0 -3.8 0M67.1 405.35a1.9 1.9 0 1 0 3.8 0a1.9 1.9 0 1 0 -3.8 0M68.75 408.81a1.9 1.9 0 1 0 3.8 0a1.9 1.9 0 1 0 -3.8 0M70.4 410.4a1.9 1.9 0 1 0 3.8 0a1.9 1.9 0 1 0 -3.8 0M72.05 413.27a1.9 1.9 0 1 0 3.8 0a1.9 1.9 0 1 0 -3.8 0M73.7 414.96a1.9 1.9 0 1 0 3.8 0a1.9 1.9 0 1 0 -3.8 0M75.35 416.41a1.9 1.9 0 1 0 3.8 0a1.9 1.9 0 1 0 -3.8 0M77 416.63a1.9 1.9 0 1 0 3.8 0a1.9 1.9 0 1 0 -3.8 0M78.65 417.32a1.9 1.9 0 1 0 3.8 0a1.9 1.9 0 1 0 -3.8 0M80.3 417.64a1.9 1.9 0 1 0 3.8 0a1.9 1.9 0 1 0 -3.8 0M81.95 418.96a1.9 1.9 0 1 0 3.8 0a1.9 1.9 0 1 0 -3.8 0M83.6 418.82a1.9 1.9 0 1 0 3.8 0a1.9 1.9 0 1 0 -3.8 0M85.25 419.9a1.9 1.9 0 1 0 3.8 0a1.9 1.9 0 1 0 -3.8 0M86.9 420.33a1.9 1.9 0 1 0 3.8 0a1.9 1.9 0 1 0 -3.8 0M88.55 420.34a1.9 1.9 0 1 0 3.8 0a1.9 1.9 0 1 0 -3.8 0M90.2 422.89a1.9 1.9 0 1 0 3.8 0a1.9 1.9 0 1 0 -3.8 0M91.85 421.89a1.9 1.9 0 1 0 3.8 0a1.9 1.9 0 1 0 -3.8 0M93.5 421.5a1.9 1.9 0 1 0 3.8 0a1.9 1.9 0 1 0 -3.8 0M95.15 423.64a1.9 1.9 0 1 0 3.8 0a1.9 1.9 0 1 0 -3.8 0M96.8 424.35a1.9 1.9 0 1 0 3.8 0a1.9 1.9 0 1 0 -3.8 0M98.45 427.06a1.9 1.9 0 1 0 3.8 0a1.9 1.9 0 1 0 -3.8 0M100.1 427.79a1.9 1.9 0 1 0 3.8 0a1.9 1.9 0 1 0 -3.8 0M101.75 427.19a1.9 1.9 0 1 0 3.8 0a1.9 1.9 0 1 0 -3.8 0M103.4 427.74a1.9 1.9 0 1 0 3.8 0a1.9 1.9 0 1 0 -3.8 0M105.05 428.06a1.9 1.9 0 1 0 3.8 0a1.9 1.9 0 1 0 -3.8 0M106.7 428.76a1.9 1.9 0 1 0 3.8 0a1.9 1.9 0 1 0 -3.8 0M108.35 428a1.9 1.9 0 1 0 3.8 0a1.9 1.9 0 1 0 -3.8 0M110 428.65a1.9 1.9 0 1 0 3.8 0a1.9 1.9 0 1 0 -3.8 0M111.65 429.87a1.9 1.9 0 1 0 3.8 0a1.9 1.9 0 1 0 -3.8 0M113.3 431.17a1.9 1.9 0 1 0 3.8 0a1.9 1.9 0 1 0 -3.8 0M114.95 431.14a1.9 1.9 0 1 0 3.8 0a1.9 1.9 0 1 0 -3.8 0M116.6 432.39a1.9 1.9 0 1 0 3.8 0a1.9 1.9 0 1 0 -3.8 0M118.25 431.76a1.9 1.9 0 1 0 3.8 0a1.9 1.9 0 1 0 -3.8 0M119.9 430.89a1.9 1.9 0 1 0 3.8 0a1.9 1.9 0 1 0 -3.8 0M121.55 431.48a1.9 1.9 0 1 0 3.8 0a1.9 1.9 0 1 0 -3.8 0M123.2 429.76a1.9 1.9 0 1 0 3.8 0a1.9 1.9 0 1 0 -3.8 0M124.85 430.75a1.9 1.9 0 1 0 3.8 0a1.9 1.9 0 1 0 -3.8 0M126.5 430.27a1.9 1.9 0 1 0 3.8 0a1.9 1.9 0 1 0 -3.8 0M128.15 431.3a1.9 1.9 0 1 0 3.8 0a1.9 1.9 0 1 0 -3.8 0M129.8 431.42a1.9 1.9 0 1 0 3.8 0a1.9 1.9 0 1 0 -3.8 0M131.45 429.81a1.9 1.9 0 1 0 3.8 0a1.9 1.9 0 1 0 -3.8 0M133.1 429.91a1.9 1.9 0 1 0 3.8 0a1.9 1.9 0 1 0 -3.8 0M134.75 428.8a1.9 1.9 0 1 0 3.8 0a1.9 1.9 0 1 0 -3.8 0M136.4 430.75a1.9 1.9 0 1 0 3.8 0a1.9 1.9 0 1 0 -3.8 0M138.05 431.38a1.9 1.9 0 1 0 3.8 0a1.9 1.9 0 1 0 -3.8 0M139.7 431.79a1.9 1.9 0 1 0 3.8 0a1.9 1.9 0 1 0 -3.8 0M141.35 430.14a1.9 1.9 0 1 0 3.8 0a1.9 1.9 0 1 0 -3.8 0M143 434.29a1.9 1.9 0 1 0 3.8 0a1.9 1.9 0 1 0 -3.8 0M132.1 426.5a1.9 1.9 0 1 0 3.8 0a1.9 1.9 0 1 0 -3.8 0M133.8 435.5a1.9 1.9 0 1 0 3.8 0a1.9 1.9 0 1 0 -3.8 0M140.2 426.5a1.9 1.9 0 1 0 3.8 0a1.9 1.9 0 1 0 -3.8 0M142.9 433.9a1.9 1.9 0 1 0 3.8 0a1.9 1.9 0 1 0 -3.8 0M137.1 429a1.9 1.9 0 1 0 3.8 0a1.9 1.9 0 1 0 -3.8 0M135.6 431a1.9 1.9 0 1 0 3.8 0a1.9 1.9 0 1 0 -3.8 0" fill="#000"/>
<path d="M35.7 328.56L36.39 328.92L37.08 329.44L37.77 330.09L38.46 330.83L39.15 331.65L39.84 332.54L40.53 333.53L41.22 334.63L41.92 335.85L42.61 337.15L43.3 338.5L43.99 339.89L44.68 341.32L45.37 342.79L46.06 344.32L46.75 345.94L47.44 347.66L48.13 349.49L48.82 351.4L49.51 353.36L50.2 355.34L50.89 357.35L51.58 359.39L52.27 361.44L52.96 363.52L53.65 365.61L54.35 367.72L55.04 369.83L55.73 371.94L56.42 374.03L57.11 376.07L57.8 378.06L58.49 380.01L59.18 381.93L59.87 383.85L60.56 385.8L61.25 387.79L61.94 389.79L62.63 391.75L63.32 393.65L64.01 395.45L64.7 397.17L65.39 398.8L66.08 400.33L66.78 401.75L67.47 403.07L68.16 404.3L68.85 405.46L69.54 406.58L70.23 407.68L70.92 408.77L71.61 409.86L72.3 410.93L72.99 411.96L73.68 412.91L74.37 413.74L75.06 414.46L75.75 415.09L76.44 415.64L77.13 416.14L77.82 416.6L78.52 417.03L79.21 417.43L79.9 417.81L80.59 418.18L81.28 418.54L81.97 418.89L82.66 419.23L83.35 419.56L84.04 419.87L84.73 420.18L85.42 420.47L86.11 420.76L86.8 421.03L87.49 421.29L88.18 421.54L88.87 421.78L89.56 422.01L90.25 422.23L90.95 422.44L91.64 422.65L92.33 422.85L93.02 423.04L93.71 423.22L94.4 423.4L95.09 423.58L95.78 423.75L96.47 423.91L97.16 424.08L97.85 424.24L98.54 424.4L99.23 424.56L99.92 424.72L100.61 424.88L101.3 425.04L101.99 425.21L102.68 425.37L103.38 425.53L104.07 425.7L104.76 425.87L105.45 426.03L106.14 426.2L106.83 426.37L107.52 426.53L108.21 426.7L108.9 426.86L109.59 427.02L110.28 427.18L110.97 427.33L111.66 427.49L112.35 427.63L113.04 427.78L113.73 427.91L114.42 428.05L115.12 428.17L115.81 428.3L116.5 428.41L117.19 428.52L117.88 428.63L118.57 428.74L119.26 428.84L119.95 428.95L120.64 429.04L121.33 429.14L122.02 429.24L122.71 429.33L123.4 429.42L124.09 429.51L124.78 429.59L125.47 429.67L126.16 429.76L126.85 429.83L127.55 429.91L128.24 429.99L128.93 430.06L129.62 430.13L130.31 430.2L131 430.27L131.69 430.33L132.38 430.4L133.07 430.46L133.76 430.53L134.45 430.59L135.14 430.65L135.83 430.71L136.52 430.77L137.21 430.83L137.9 430.89L138.59 430.94L139.28 430.99L139.98 431.05L140.67 431.1L141.36 431.15L142.05 431.19L142.74 431.24L143.43 431.28L144.12 431.32L144.81 431.36L145.5 431.38" stroke="#ff0000" stroke-width="1.3" fill="none" stroke-linejoin="round" stroke-linecap="round" />
</g>
<path d="M35.1 442.6v-3.6M35.1 322.6v3.6M84.9 442.6v-3.6M84.9 322.6v3.6M134.7 442.6v-3.6M134.7 322.6v3.6M30.4 437.5h3.6M151.4 437.5h-3.6M30.4 406.15h3.6M151.4 406.15h-3.6M30.4 374.8h3.6M151.4 374.8h-3.6M30.4 343.45h3.6M151.4 343.45h-3.6" stroke="#000" stroke-width="1.0" fill="none"/>
<path d="M45.06 442.6v-2.1M45.06 322.6v2.1M55.02 442.6v-2.1M55.02 322.6v2.1M64.98 442.6v-2.1M64.98 322.6v2.1M74.94 442.6v-2.1M74.94 322.6v2.1M94.86 442.6v-2.1M94.86 322.6v2.1M104.82 442.6v-2.1M104.82 322.6v2.1M114.78 442.6v-2.1M114.78 322.6v2.1M124.74 442.6v-2.1M124.74 322.6v2.1M144.66 442.6v-2.1M144.66 322.6v2.1M30.4 429.66h2.1M151.4 429.66h-2.1M30.4 421.82h2.1M151.4 421.82h-2.1M30.4 413.99h2.1M151.4 413.99h-2.1M30.4 398.31h2.1M151.4 398.31h-2.1M30.4 390.48h2.1M151.4 390.48h-2.1M30.4 382.64h2.1M151.4 382.64h-2.1M30.4 366.96h2.1M151.4 366.96h-2.1M30.4 359.12h2.1M151.4 359.12h-2.1M30.4 351.29h2.1M151.4 351.29h-2.1M30.4 335.61h2.1M151.4 335.61h-2.1M30.4 327.77h2.1M151.4 327.77h-2.1" stroke="#000" stroke-width="0.85" fill="none"/>
<text x="35.1" y="451.8" font-size="9.3" stroke="#000" stroke-width="0.22" text-anchor="middle" textLength="5.45" lengthAdjust="spacingAndGlyphs" >0</text>
<text x="84.9" y="451.8" font-size="9.3" stroke="#000" stroke-width="0.22" text-anchor="middle" textLength="21.78" lengthAdjust="spacingAndGlyphs" >1000</text>
<text x="134.7" y="451.8" font-size="9.3" stroke="#000" stroke-width="0.22" text-anchor="middle" textLength="21.78" lengthAdjust="spacingAndGlyphs" >2000</text>
<text x="29.1" y="440.6" font-size="9.3" stroke="#000" stroke-width="0.22" text-anchor="end" textLength="5.45" lengthAdjust="spacingAndGlyphs" >0</text>
<text x="29.1" y="409.25" font-size="9.3" stroke="#000" stroke-width="0.22" text-anchor="end" textLength="10.89" lengthAdjust="spacingAndGlyphs" >20</text>
<text x="29.1" y="377.9" font-size="9.3" stroke="#000" stroke-width="0.22" text-anchor="end" textLength="10.89" lengthAdjust="spacingAndGlyphs" >40</text>
<text x="29.1" y="346.55" font-size="9.3" stroke="#000" stroke-width="0.22" text-anchor="end" textLength="10.89" lengthAdjust="spacingAndGlyphs" >60</text>
<text x="0" y="0" font-size="9.3" stroke="#000" stroke-width="0.22" text-anchor="middle" textLength="61.01" lengthAdjust="spacingAndGlyphs" transform="translate(13.71 382.8) rotate(-90)">Real Vis (mJy)</text>
<text x="91" y="462.2" font-size="9.3" stroke="#000" stroke-width="0.22" text-anchor="middle" textLength="70.77" lengthAdjust="spacingAndGlyphs" >uv-distance (k<tspan font-style="italic">λ</tspan>)</text>
<path d="M101.2 329.9V338.5" stroke="#000" stroke-width="1.0"/>
<circle cx="101.2" cy="334.2" r="1.75"/>
<text x="116.4" y="336.8" font-size="9.3" stroke="#000" stroke-width="0.22" textLength="19.12" lengthAdjust="spacingAndGlyphs" >data</text>
<path d="M92.4 346.5H109.4" stroke="#ff0000" stroke-width="1.25"/>
<text x="116.4" y="348.8" font-size="9.3" stroke="#000" stroke-width="0.22" textLength="27.2" lengthAdjust="spacingAndGlyphs" >Model</text>
<rect x="30.4" y="483.7" width="121" height="120" fill="#fff" stroke="#000" stroke-width="1.1"/>
<g clip-path="url(#cl3)">
<path d="" stroke="#111" stroke-width="1.0" fill="none"/>
<path d="M34.1 490.3a1.9 1.9 0 1 0 3.8 0a1.9 1.9 0 1 0 -3.8 0M35.75 491.72a1.9 1.9 0 1 0 3.8 0a1.9 1.9 0 1 0 -3.8 0M37.4 495a1.9 1.9 0 1 0 3.8 0a1.9 1.9 0 1 0 -3.8 0M39.05 500.15a1.9 1.9 0 1 0 3.8 0a1.9 1.9 0 1 0 -3.8 0M40.7 506.69a1.9 1.9 0 1 0 3.8 0a1.9 1.9 0 1 0 -3.8 0M42.35 513.3a1.9 1.9 0 1 0 3.8 0a1.9 1.9 0 1 0 -3.8 0M44 520.87a1.9 1.9 0 1 0 3.8 0a1.9 1.9 0 1 0 -3.8 0M45.65 528.74a1.9 1.9 0 1 0 3.8 0a1.9 1.9 0 1 0 -3.8 0M47.3 536.69a1.9 1.9 0 1 0 3.8 0a1.9 1.9 0 1 0 -3.8 0M48.95 545.24a1.9 1.9 0 1 0 3.8 0a1.9 1.9 0 1 0 -3.8 0M50.6 553.44a1.9 1.9 0 1 0 3.8 0a1.9 1.9 0 1 0 -3.8 0M52.25 561.4a1.9 1.9 0 1 0 3.8 0a1.9 1.9 0 1 0 -3.8 0M53.9 568.13a1.9 1.9 0 1 0 3.8 0a1.9 1.9 0 1 0 -3.8 0M55.55 573.87a1.9 1.9 0 1 0 3.8 0a1.9 1.9 0 1 0 -3.8 0M57.2 579.68a1.9 1.9 0 1 0 3.8 0a1.9 1.9 0 1 0 -3.8 0M58.85 582.2a1.9 1.9 0 1 0 3.8 0a1.9 1.9 0 1 0 -3.8 0M60.5 586.18a1.9 1.9 0 1 0 3.8 0a1.9 1.9 0 1 0 -3.8 0M62.15 587.15a1.9 1.9 0 1 0 3.8 0a1.9 1.9 0 1 0 -3.8 0M63.8 588.76a1.9 1.9 0 1 0 3.8 0a1.9 1.9 0 1 0 -3.8 0M65.45 590.05a1.9 1.9 0 1 0 3.8 0a1.9 1.9 0 1 0 -3.8 0M67.1 589.92a1.9 1.9 0 1 0 3.8 0a1.9 1.9 0 1 0 -3.8 0M68.75 590a1.9 1.9 0 1 0 3.8 0a1.9 1.9 0 1 0 -3.8 0M70.4 589.33a1.9 1.9 0 1 0 3.8 0a1.9 1.9 0 1 0 -3.8 0M72.05 588.9a1.9 1.9 0 1 0 3.8 0a1.9 1.9 0 1 0 -3.8 0M73.7 588.8a1.9 1.9 0 1 0 3.8 0a1.9 1.9 0 1 0 -3.8 0M75.35 588.33a1.9 1.9 0 1 0 3.8 0a1.9 1.9 0 1 0 -3.8 0M77 589.35a1.9 1.9 0 1 0 3.8 0a1.9 1.9 0 1 0 -3.8 0M78.65 588.26a1.9 1.9 0 1 0 3.8 0a1.9 1.9 0 1 0 -3.8 0M80.3 589.28a1.9 1.9 0 1 0 3.8 0a1.9 1.9 0 1 0 -3.8 0M81.95 587.04a1.9 1.9 0 1 0 3.8 0a1.9 1.9 0 1 0 -3.8 0M83.6 588.83a1.9 1.9 0 1 0 3.8 0a1.9 1.9 0 1 0 -3.8 0M85.25 589.52a1.9 1.9 0 1 0 3.8 0a1.9 1.9 0 1 0 -3.8 0M86.9 589.55a1.9 1.9 0 1 0 3.8 0a1.9 1.9 0 1 0 -3.8 0M88.55 590.97a1.9 1.9 0 1 0 3.8 0a1.9 1.9 0 1 0 -3.8 0M90.2 591.36a1.9 1.9 0 1 0 3.8 0a1.9 1.9 0 1 0 -3.8 0M91.85 591.97a1.9 1.9 0 1 0 3.8 0a1.9 1.9 0 1 0 -3.8 0M93.5 593.46a1.9 1.9 0 1 0 3.8 0a1.9 1.9 0 1 0 -3.8 0M95.15 595.44a1.9 1.9 0 1 0 3.8 0a1.9 1.9 0 1 0 -3.8 0M96.8 594.17a1.9 1.9 0 1 0 3.8 0a1.9 1.9 0 1 0 -3.8 0M98.45 594.38a1.9 1.9 0 1 0 3.8 0a1.9 1.9 0 1 0 -3.8 0M100.1 594.01a1.9 1.9 0 1 0 3.8 0a1.9 1.9 0 1 0 -3.8 0M101.75 594.42a1.9 1.9 0 1 0 3.8 0a1.9 1.9 0 1 0 -3.8 0M103.4 593.43a1.9 1.9 0 1 0 3.8 0a1.9 1.9 0 1 0 -3.8 0M105.05 594.21a1.9 1.9 0 1 0 3.8 0a1.9 1.9 0 1 0 -3.8 0M106.7 596.28a1.9 1.9 0 1 0 3.8 0a1.9 1.9 0 1 0 -3.8 0M108.35 595.04a1.9 1.9 0 1 0 3.8 0a1.9 1.9 0 1 0 -3.8 0M110 593.35a1.9 1.9 0 1 0 3.8 0a1.9 1.9 0 1 0 -3.8 0M111.65 592.87a1.9 1.9 0 1 0 3.8 0a1.9 1.9 0 1 0 -3.8 0M113.3 593.63a1.9 1.9 0 1 0 3.8 0a1.9 1.9 0 1 0 -3.8 0M114.95 592.49a1.9 1.9 0 1 0 3.8 0a1.9 1.9 0 1 0 -3.8 0M116.6 593.97a1.9 1.9 0 1 0 3.8 0a1.9 1.9 0 1 0 -3.8 0M118.25 593.03a1.9 1.9 0 1 0 3.8 0a1.9 1.9 0 1 0 -3.8 0M119.9 592.14a1.9 1.9 0 1 0 3.8 0a1.9 1.9 0 1 0 -3.8 0M121.55 593.84a1.9 1.9 0 1 0 3.8 0a1.9 1.9 0 1 0 -3.8 0M123.2 589.37a1.9 1.9 0 1 0 3.8 0a1.9 1.9 0 1 0 -3.8 0M124.85 591.36a1.9 1.9 0 1 0 3.8 0a1.9 1.9 0 1 0 -3.8 0M126.5 592.36a1.9 1.9 0 1 0 3.8 0a1.9 1.9 0 1 0 -3.8 0M128.15 590.97a1.9 1.9 0 1 0 3.8 0a1.9 1.9 0 1 0 -3.8 0M129.8 591.92a1.9 1.9 0 1 0 3.8 0a1.9 1.9 0 1 0 -3.8 0M131.45 591.57a1.9 1.9 0 1 0 3.8 0a1.9 1.9 0 1 0 -3.8 0M133.1 592.67a1.9 1.9 0 1 0 3.8 0a1.9 1.9 0 1 0 -3.8 0M134.75 597.99a1.9 1.9 0 1 0 3.8 0a1.9 1.9 0 1 0 -3.8 0M136.4 595.46a1.9 1.9 0 1 0 3.8 0a1.9 1.9 0 1 0 -3.8 0M138.05 594.77a1.9 1.9 0 1 0 3.8 0a1.9 1.9 0 1 0 -3.8 0M139.7 596.82a1.9 1.9 0 1 0 3.8 0a1.9 1.9 0 1 0 -3.8 0M141.35 594.62a1.9 1.9 0 1 0 3.8 0a1.9 1.9 0 1 0 -3.8 0M135.1 591a1.9 1.9 0 1 0 3.8 0a1.9 1.9 0 1 0 -3.8 0M137.6 596a1.9 1.9 0 1 0 3.8 0a1.9 1.9 0 1 0 -3.8 0M139.6 592a1.9 1.9 0 1 0 3.8 0a1.9 1.9 0 1 0 -3.8 0M141.6 595a1.9 1.9 0 1 0 3.8 0a1.9 1.9 0 1 0 -3.8 0" fill="#000"/>
<path d="M35.7 489.64L36.38 490.13L37.06 490.89L37.74 491.91L38.42 493.18L39.1 494.72L39.78 496.54L40.46 498.63L41.14 500.98L41.82 503.55L42.51 506.25L43.19 508.97L43.87 511.72L44.55 514.57L45.23 517.57L45.91 520.7L46.59 523.89L47.27 527.09L47.95 530.26L48.63 533.41L49.31 536.62L49.99 540.03L50.67 543.73L51.35 547.52L52.03 551.15L52.71 554.52L53.39 557.72L54.07 560.87L54.75 563.94L55.43 566.84L56.12 569.52L56.8 571.99L57.48 574.23L58.16 576.26L58.84 578.11L59.52 579.79L60.2 581.31L60.88 582.66L61.56 583.88L62.24 584.98L62.92 585.97L63.6 586.83L64.28 587.55L64.96 588.13L65.64 588.6L66.32 589.01L67 589.35L67.68 589.63L68.36 589.81L69.04 589.91L69.73 589.91L70.41 589.84L71.09 589.71L71.77 589.57L72.45 589.43L73.13 589.29L73.81 589.17L74.49 589.05L75.17 588.95L75.85 588.85L76.53 588.76L77.21 588.68L77.89 588.6L78.57 588.52L79.25 588.45L79.93 588.39L80.61 588.35L81.29 588.33L81.97 588.33L82.65 588.37L83.34 588.44L84.02 588.54L84.7 588.66L85.38 588.79L86.06 588.94L86.74 589.1L87.42 589.28L88.1 589.48L88.78 589.71L89.46 589.96L90.14 590.23L90.82 590.49L91.5 590.74L92.18 590.98L92.86 591.2L93.54 591.41L94.22 591.61L94.9 591.8L95.58 591.98L96.26 592.13L96.95 592.26L97.63 592.37L98.31 592.47L98.99 592.55L99.67 592.63L100.35 592.7L101.03 592.74L101.71 592.78L102.39 592.8L103.07 592.82L103.75 592.83L104.43 592.84L105.11 592.84L105.79 592.85L106.47 592.86L107.15 592.86L107.83 592.87L108.51 592.87L109.19 592.87L109.87 592.88L110.56 592.88L111.24 592.89L111.92 592.89L112.6 592.9L113.28 592.9L113.96 592.91L114.64 592.91L115.32 592.92L116 592.92L116.68 592.93L117.36 592.93L118.04 592.94L118.72 592.94L119.4 592.95L120.08 592.95L120.76 592.96L121.44 592.96L122.12 592.97L122.8 592.97L123.48 592.98L124.17 592.99L124.85 592.99L125.53 593L126.21 593.01L126.89 593.02L127.57 593.03L128.25 593.04L128.93 593.06L129.61 593.07L130.29 593.08L130.97 593.1L131.65 593.11L132.33 593.13L133.01 593.15L133.69 593.16L134.37 593.18L135.05 593.2L135.73 593.22L136.41 593.24L137.09 593.26L137.78 593.28L138.46 593.31L139.14 593.33L139.82 593.35L140.5 593.38L141.18 593.4L141.86 593.42L142.54 593.45L143.22 593.47L143.9 593.49" stroke="#ff0000" stroke-width="1.3" fill="none" stroke-linejoin="round" stroke-linecap="round" />
</g>
<path d="M35.1 603.7v-3.6M35.1 483.7v3.6M82 603.7v-3.6M82 483.7v3.6M128.9 603.7v-3.6M128.9 483.7v3.6M30.4 595.9h3.6M151.4 595.9h-3.6M30.4 575.38h3.6M151.4 575.38h-3.6M30.4 554.86h3.6M151.4 554.86h-3.6M30.4 534.34h3.6M151.4 534.34h-3.6M30.4 513.82h3.6M151.4 513.82h-3.6M30.4 493.3h3.6M151.4 493.3h-3.6" stroke="#000" stroke-width="1.0" fill="none"/>
<path d="M44.48 603.7v-2.1M44.48 483.7v2.1M53.86 603.7v-2.1M53.86 483.7v2.1M63.24 603.7v-2.1M63.24 483.7v2.1M72.62 603.7v-2.1M72.62 483.7v2.1M91.38 603.7v-2.1M91.38 483.7v2.1M100.76 603.7v-2.1M100.76 483.7v2.1M110.14 603.7v-2.1M110.14 483.7v2.1M119.52 603.7v-2.1M119.52 483.7v2.1M138.28 603.7v-2.1M138.28 483.7v2.1M147.66 603.7v-2.1M147.66 483.7v2.1M30.4 601.03h2.1M151.4 601.03h-2.1M30.4 590.77h2.1M151.4 590.77h-2.1M30.4 585.64h2.1M151.4 585.64h-2.1M30.4 580.51h2.1M151.4 580.51h-2.1M30.4 570.25h2.1M151.4 570.25h-2.1M30.4 565.12h2.1M151.4 565.12h-2.1M30.4 559.99h2.1M151.4 559.99h-2.1M30.4 549.73h2.1M151.4 549.73h-2.1M30.4 544.6h2.1M151.4 544.6h-2.1M30.4 539.47h2.1M151.4 539.47h-2.1M30.4 529.21h2.1M151.4 529.21h-2.1M30.4 524.08h2.1M151.4 524.08h-2.1M30.4 518.95h2.1M151.4 518.95h-2.1M30.4 508.69h2.1M151.4 508.69h-2.1M30.4 503.56h2.1M151.4 503.56h-2.1M30.4 498.43h2.1M151.4 498.43h-2.1M30.4 488.17h2.1M151.4 488.17h-2.1" stroke="#000" stroke-width="0.85" fill="none"/>
<text x="35.1" y="612.9" font-size="9.3" stroke="#000" stroke-width="0.22" text-anchor="middle" textLength="5.45" lengthAdjust="spacingAndGlyphs" >0</text>
<text x="82" y="612.9" font-size="9.3" stroke="#000" stroke-width="0.22" text-anchor="middle" textLength="21.78" lengthAdjust="spacingAndGlyphs" >1000</text>
<text x="128.9" y="612.9" font-size="9.3" stroke="#000" stroke-width="0.22" text-anchor="middle" textLength="21.78" lengthAdjust="spacingAndGlyphs" >2000</text>
<text x="29.1" y="599" font-size="9.3" stroke="#000" stroke-width="0.22" text-anchor="end" textLength="5.45" lengthAdjust="spacingAndGlyphs" >0</text>
<text x="29.1" y="578.48" font-size="9.3" stroke="#000" stroke-width="0.22" text-anchor="end" textLength="10.89" lengthAdjust="spacingAndGlyphs" >25</text>
<text x="29.1" y="557.96" font-size="9.3" stroke="#000" stroke-width="0.22" text-anchor="end" textLength="10.89" lengthAdjust="spacingAndGlyphs" >50</text>
<text x="29.1" y="537.44" font-size="9.3" stroke="#000" stroke-width="0.22" text-anchor="end" textLength="10.89" lengthAdjust="spacingAndGlyphs" >75</text>
<text x="29.1" y="516.92" font-size="9.3" stroke="#000" stroke-width="0.22" text-anchor="end" textLength="16.34" lengthAdjust="spacingAndGlyphs" >100</text>
<text x="29.1" y="496.4" font-size="9.3" stroke="#000" stroke-width="0.22" text-anchor="end" textLength="16.34" lengthAdjust="spacingAndGlyphs" >125</text>
<text x="0" y="0" font-size="9.3" stroke="#000" stroke-width="0.22" text-anchor="middle" textLength="61.01" lengthAdjust="spacingAndGlyphs" transform="translate(8.26 543.9) rotate(-90)">Real Vis (mJy)</text>
<text x="91" y="623.3" font-size="9.3" stroke="#000" stroke-width="0.22" text-anchor="middle" textLength="70.77" lengthAdjust="spacingAndGlyphs" >uv-distance (k<tspan font-style="italic">λ</tspan>)</text>
<path d="M101.2 491V499.6" stroke="#000" stroke-width="1.0"/>
<circle cx="101.2" cy="495.3" r="1.75"/>
<text x="116.4" y="497.9" font-size="9.3" stroke="#000" stroke-width="0.22" textLength="19.12" lengthAdjust="spacingAndGlyphs" >data</text>
<path d="M92.4 507.6H109.4" stroke="#ff0000" stroke-width="1.25"/>
<text x="116.4" y="509.9" font-size="9.3" stroke="#000" stroke-width="0.22" textLength="27.2" lengthAdjust="spacingAndGlyphs" >Model</text>
<rect x="30.4" y="644.8" width="121" height="120" fill="#fff" stroke="#000" stroke-width="1.1"/>
<g clip-path="url(#cl4)">
<path d="M101.6 730.8V734.8M104.5 727.3V731.3M110.3 726.8V730.8M105.7 716.9V720.9M108 718V722M111.5 715.7V719.7M112.6 712.2V716.2M113.8 709.4V714.4M115 708.8V713.8M116.7 721.5V725.5M117.9 723.8V727.8M119.6 727.3V731.3M120.8 728.5V732.5M122.5 732.3V740.3M123.7 694.3V706.3M125.4 719.8V730.8M128.9 658.6V688.6M130.6 735.1V749.1M132.4 730.1V740.1M134.1 720V726M135.9 720V727M137 724.7V731.7M138.8 698.2V708.2M140.5 692.2V714.2M141.1 731V737M143.4 737.9V757.9M145.5 737.9V757.9" stroke="#111" stroke-width="1.0" fill="none"/>
<path d="M34.1 651.38a1.9 1.9 0 1 0 3.8 0a1.9 1.9 0 1 0 -3.8 0M35.75 651.34a1.9 1.9 0 1 0 3.8 0a1.9 1.9 0 1 0 -3.8 0M37.4 652.4a1.9 1.9 0 1 0 3.8 0a1.9 1.9 0 1 0 -3.8 0M39.05 652.86a1.9 1.9 0 1 0 3.8 0a1.9 1.9 0 1 0 -3.8 0M40.7 656.89a1.9 1.9 0 1 0 3.8 0a1.9 1.9 0 1 0 -3.8 0M42.35 660.38a1.9 1.9 0 1 0 3.8 0a1.9 1.9 0 1 0 -3.8 0M44 664.07a1.9 1.9 0 1 0 3.8 0a1.9 1.9 0 1 0 -3.8 0M45.65 669.55a1.9 1.9 0 1 0 3.8 0a1.9 1.9 0 1 0 -3.8 0M47.3 673.22a1.9 1.9 0 1 0 3.8 0a1.9 1.9 0 1 0 -3.8 0M48.95 678.91a1.9 1.9 0 1 0 3.8 0a1.9 1.9 0 1 0 -3.8 0M50.6 683.4a1.9 1.9 0 1 0 3.8 0a1.9 1.9 0 1 0 -3.8 0M52.25 689.14a1.9 1.9 0 1 0 3.8 0a1.9 1.9 0 1 0 -3.8 0M53.9 694.07a1.9 1.9 0 1 0 3.8 0a1.9 1.9 0 1 0 -3.8 0M55.55 699.18a1.9 1.9 0 1 0 3.8 0a1.9 1.9 0 1 0 -3.8 0M57.2 702.45a1.9 1.9 0 1 0 3.8 0a1.9 1.9 0 1 0 -3.8 0M58.85 707.93a1.9 1.9 0 1 0 3.8 0a1.9 1.9 0 1 0 -3.8 0M60.5 711.69a1.9 1.9 0 1 0 3.8 0a1.9 1.9 0 1 0 -3.8 0M62.15 715.92a1.9 1.9 0 1 0 3.8 0a1.9 1.9 0 1 0 -3.8 0M63.8 719.08a1.9 1.9 0 1 0 3.8 0a1.9 1.9 0 1 0 -3.8 0M65.45 722.42a1.9 1.9 0 1 0 3.8 0a1.9 1.9 0 1 0 -3.8 0M67.1 724.22a1.9 1.9 0 1 0 3.8 0a1.9 1.9 0 1 0 -3.8 0M68.75 728a1.9 1.9 0 1 0 3.8 0a1.9 1.9 0 1 0 -3.8 0M70.4 730.23a1.9 1.9 0 1 0 3.8 0a1.9 1.9 0 1 0 -3.8 0M72.05 730.02a1.9 1.9 0 1 0 3.8 0a1.9 1.9 0 1 0 -3.8 0M73.7 730.8a1.9 1.9 0 1 0 3.8 0a1.9 1.9 0 1 0 -3.8 0M75.35 731.35a1.9 1.9 0 1 0 3.8 0a1.9 1.9 0 1 0 -3.8 0M77 731.95a1.9 1.9 0 1 0 3.8 0a1.9 1.9 0 1 0 -3.8 0M78.65 732.05a1.9 1.9 0 1 0 3.8 0a1.9 1.9 0 1 0 -3.8 0M80.3 729.65a1.9 1.9 0 1 0 3.8 0a1.9 1.9 0 1 0 -3.8 0M81.95 729.46a1.9 1.9 0 1 0 3.8 0a1.9 1.9 0 1 0 -3.8 0M83.6 728.48a1.9 1.9 0 1 0 3.8 0a1.9 1.9 0 1 0 -3.8 0M85.25 727.68a1.9 1.9 0 1 0 3.8 0a1.9 1.9 0 1 0 -3.8 0M86.9 726.58a1.9 1.9 0 1 0 3.8 0a1.9 1.9 0 1 0 -3.8 0M88.55 727.47a1.9 1.9 0 1 0 3.8 0a1.9 1.9 0 1 0 -3.8 0M90.2 725.79a1.9 1.9 0 1 0 3.8 0a1.9 1.9 0 1 0 -3.8 0M91.85 727.48a1.9 1.9 0 1 0 3.8 0a1.9 1.9 0 1 0 -3.8 0M93.5 726.66a1.9 1.9 0 1 0 3.8 0a1.9 1.9 0 1 0 -3.8 0M95.15 724.7a1.9 1.9 0 1 0 3.8 0a1.9 1.9 0 1 0 -3.8 0M96.8 724.4a1.9 1.9 0 1 0 3.8 0a1.9 1.9 0 1 0 -3.8 0M99.7 732.8a1.9 1.9 0 1 0 3.8 0a1.9 1.9 0 1 0 -3.8 0M102.6 729.3a1.9 1.9 0 1 0 3.8 0a1.9 1.9 0 1 0 -3.8 0M108.4 728.8a1.9 1.9 0 1 0 3.8 0a1.9 1.9 0 1 0 -3.8 0M103.8 718.9a1.9 1.9 0 1 0 3.8 0a1.9 1.9 0 1 0 -3.8 0M106.1 720a1.9 1.9 0 1 0 3.8 0a1.9 1.9 0 1 0 -3.8 0M109.6 717.7a1.9 1.9 0 1 0 3.8 0a1.9 1.9 0 1 0 -3.8 0M110.7 714.2a1.9 1.9 0 1 0 3.8 0a1.9 1.9 0 1 0 -3.8 0M111.9 711.9a1.9 1.9 0 1 0 3.8 0a1.9 1.9 0 1 0 -3.8 0M113.1 711.3a1.9 1.9 0 1 0 3.8 0a1.9 1.9 0 1 0 -3.8 0M96.2 721.8a1.9 1.9 0 1 0 3.8 0a1.9 1.9 0 1 0 -3.8 0M98.6 720.6a1.9 1.9 0 1 0 3.8 0a1.9 1.9 0 1 0 -3.8 0M100.9 721.8a1.9 1.9 0 1 0 3.8 0a1.9 1.9 0 1 0 -3.8 0M104.6 722.5a1.9 1.9 0 1 0 3.8 0a1.9 1.9 0 1 0 -3.8 0M114.8 723.5a1.9 1.9 0 1 0 3.8 0a1.9 1.9 0 1 0 -3.8 0M116 725.8a1.9 1.9 0 1 0 3.8 0a1.9 1.9 0 1 0 -3.8 0M117.7 729.3a1.9 1.9 0 1 0 3.8 0a1.9 1.9 0 1 0 -3.8 0M118.9 730.5a1.9 1.9 0 1 0 3.8 0a1.9 1.9 0 1 0 -3.8 0M120.6 736.3a1.9 1.9 0 1 0 3.8 0a1.9 1.9 0 1 0 -3.8 0M121.8 700.3a1.9 1.9 0 1 0 3.8 0a1.9 1.9 0 1 0 -3.8 0M123.5 725.3a1.9 1.9 0 1 0 3.8 0a1.9 1.9 0 1 0 -3.8 0M127 673.6a1.9 1.9 0 1 0 3.8 0a1.9 1.9 0 1 0 -3.8 0M128.7 742.1a1.9 1.9 0 1 0 3.8 0a1.9 1.9 0 1 0 -3.8 0M130.5 735.1a1.9 1.9 0 1 0 3.8 0a1.9 1.9 0 1 0 -3.8 0M132.2 723a1.9 1.9 0 1 0 3.8 0a1.9 1.9 0 1 0 -3.8 0M134 723.5a1.9 1.9 0 1 0 3.8 0a1.9 1.9 0 1 0 -3.8 0M135.1 728.2a1.9 1.9 0 1 0 3.8 0a1.9 1.9 0 1 0 -3.8 0M136.9 703.2a1.9 1.9 0 1 0 3.8 0a1.9 1.9 0 1 0 -3.8 0M138.6 703.2a1.9 1.9 0 1 0 3.8 0a1.9 1.9 0 1 0 -3.8 0M139.2 734a1.9 1.9 0 1 0 3.8 0a1.9 1.9 0 1 0 -3.8 0M141.5 747.9a1.9 1.9 0 1 0 3.8 0a1.9 1.9 0 1 0 -3.8 0M143.6 747.9a1.9 1.9 0 1 0 3.8 0a1.9 1.9 0 1 0 -3.8 0" fill="#000"/>
<path d="M35.7 651.02L36.39 651.05L37.08 651.12L37.77 651.22L38.46 651.38L39.15 651.64L39.84 652.11L40.53 652.86L41.22 653.91L41.92 655.17L42.61 656.57L43.3 658.07L43.99 659.69L44.68 661.4L45.37 663.18L46.06 665.01L46.75 666.87L47.44 668.76L48.13 670.67L48.82 672.58L49.51 674.47L50.2 676.36L50.89 678.27L51.58 680.27L52.27 682.42L52.96 684.72L53.65 687.1L54.35 689.47L55.04 691.71L55.73 693.81L56.42 695.82L57.11 697.77L57.8 699.72L58.49 701.67L59.18 703.61L59.87 705.53L60.56 707.39L61.25 709.18L61.94 710.91L62.63 712.57L63.32 714.17L64.01 715.7L64.7 717.14L65.39 718.52L66.08 719.83L66.78 721.09L67.47 722.28L68.16 723.4L68.85 724.45L69.54 725.45L70.23 726.41L70.92 727.33L71.61 728.18L72.3 728.92L72.99 729.52L73.68 729.99L74.37 730.34L75.06 730.63L75.75 730.86L76.44 731.04L77.13 731.17L77.82 731.23L78.52 731.23L79.21 731.16L79.9 731.04L80.59 730.88L81.28 730.69L81.97 730.48L82.66 730.26L83.35 730.04L84.04 729.79L84.73 729.53L85.42 729.24L86.11 728.94L86.8 728.63L87.49 728.32L88.18 728.02L88.87 727.75L89.56 727.49L90.25 727.26L90.95 727.04L91.64 726.83L92.33 726.63L93.02 726.45L93.71 726.28L94.4 726.12L95.09 725.97L95.78 725.83L96.47 725.69L97.16 725.56L97.85 725.44L98.54 725.33L99.23 725.23L99.92 725.13L100.61 725.03L101.3 724.94L101.99 724.85L102.68 724.77L103.38 724.7L104.07 724.65L104.76 724.63L105.45 724.63L106.14 724.66L106.83 724.71L107.52 724.79L108.21 724.88L108.9 724.98L109.59 725.08L110.28 725.19L110.97 725.3L111.66 725.41L112.35 725.54L113.04 725.67L113.73 725.81L114.42 725.96L115.12 726.11L115.81 726.27L116.5 726.43L117.19 726.61L117.88 726.8L118.57 726.99L119.26 727.18L119.95 727.36L120.64 727.51L121.33 727.64L122.02 727.76L122.71 727.86L123.4 727.96L124.09 728.04L124.78 728.11L125.47 728.18L126.16 728.23L126.85 728.27L127.55 728.31L128.24 728.35L128.93 728.37L129.62 728.38L130.31 728.38L131 728.35L131.69 728.31L132.38 728.26L133.07 728.19L133.76 728.12L134.45 728.05L135.14 727.99L135.83 727.93L136.52 727.87L137.21 727.82L137.9 727.76L138.59 727.7L139.28 727.64L139.98 727.58L140.67 727.52L141.36 727.46L142.05 727.4L142.74 727.34L143.43 727.28L144.12 727.22L144.81 727.17L145.5 727.13" stroke="#ff0000" stroke-width="1.3" fill="none" stroke-linejoin="round" stroke-linecap="round" />
</g>
<path d="M35.1 764.8v-3.6M35.1 644.8v3.6M80.85 764.8v-3.6M80.85 644.8v3.6M126.6 764.8v-3.6M126.6 644.8v3.6M30.4 751h3.6M151.4 751h-3.6M30.4 728.8h3.6M151.4 728.8h-3.6M30.4 706.6h3.6M151.4 706.6h-3.6M30.4 684.4h3.6M151.4 684.4h-3.6M30.4 662.2h3.6M151.4 662.2h-3.6" stroke="#000" stroke-width="1.0" fill="none"/>
<path d="M44.25 764.8v-2.1M44.25 644.8v2.1M53.4 764.8v-2.1M53.4 644.8v2.1M62.55 764.8v-2.1M62.55 644.8v2.1M71.7 764.8v-2.1M71.7 644.8v2.1M90 764.8v-2.1M90 644.8v2.1M99.15 764.8v-2.1M99.15 644.8v2.1M108.3 764.8v-2.1M108.3 644.8v2.1M117.45 764.8v-2.1M117.45 644.8v2.1M135.75 764.8v-2.1M135.75 644.8v2.1M144.9 764.8v-2.1M144.9 644.8v2.1M30.4 764.32h2.1M151.4 764.32h-2.1M30.4 759.88h2.1M151.4 759.88h-2.1M30.4 755.44h2.1M151.4 755.44h-2.1M30.4 746.56h2.1M151.4 746.56h-2.1M30.4 742.12h2.1M151.4 742.12h-2.1M30.4 737.68h2.1M151.4 737.68h-2.1M30.4 733.24h2.1M151.4 733.24h-2.1M30.4 724.36h2.1M151.4 724.36h-2.1M30.4 719.92h2.1M151.4 719.92h-2.1M30.4 715.48h2.1M151.4 715.48h-2.1M30.4 711.04h2.1M151.4 711.04h-2.1M30.4 702.16h2.1M151.4 702.16h-2.1M30.4 697.72h2.1M151.4 697.72h-2.1M30.4 693.28h2.1M151.4 693.28h-2.1M30.4 688.84h2.1M151.4 688.84h-2.1M30.4 679.96h2.1M151.4 679.96h-2.1M30.4 675.52h2.1M151.4 675.52h-2.1M30.4 671.08h2.1M151.4 671.08h-2.1M30.4 666.64h2.1M151.4 666.64h-2.1M30.4 657.76h2.1M151.4 657.76h-2.1M30.4 653.32h2.1M151.4 653.32h-2.1M30.4 648.88h2.1M151.4 648.88h-2.1" stroke="#000" stroke-width="0.85" fill="none"/>
<text x="35.1" y="774" font-size="9.3" stroke="#000" stroke-width="0.22" text-anchor="middle" textLength="5.45" lengthAdjust="spacingAndGlyphs" >0</text>
<text x="80.85" y="774" font-size="9.3" stroke="#000" stroke-width="0.22" text-anchor="middle" textLength="21.78" lengthAdjust="spacingAndGlyphs" >1000</text>
<text x="126.6" y="774" font-size="9.3" stroke="#000" stroke-width="0.22" text-anchor="middle" textLength="21.78" lengthAdjust="spacingAndGlyphs" >2000</text>
<text x="29.1" y="754.1" font-size="9.3" stroke="#000" stroke-width="0.22" text-anchor="end" textLength="12.62" lengthAdjust="spacingAndGlyphs" >−5</text>
<text x="29.1" y="731.9" font-size="9.3" stroke="#000" stroke-width="0.22" text-anchor="end" textLength="5.45" lengthAdjust="spacingAndGlyphs" >0</text>
<text x="29.1" y="709.7" font-size="9.3" stroke="#000" stroke-width="0.22" text-anchor="end" textLength="5.45" lengthAdjust="spacingAndGlyphs" >5</text>
<text x="29.1" y="687.5" font-size="9.3" stroke="#000" stroke-width="0.22" text-anchor="end" textLength="10.89" lengthAdjust="spacingAndGlyphs" >10</text>
<text x="29.1" y="665.3" font-size="9.3" stroke="#000" stroke-width="0.22" text-anchor="end" textLength="10.89" lengthAdjust="spacingAndGlyphs" >15</text>
<text x="0" y="0" font-size="9.3" stroke="#000" stroke-width="0.22" text-anchor="middle" textLength="61.01" lengthAdjust="spacingAndGlyphs" transform="translate(11.98 705) rotate(-90)">Real Vis (mJy)</text>
<text x="91" y="784.4" font-size="9.3" stroke="#000" stroke-width="0.22" text-anchor="middle" textLength="70.77" lengthAdjust="spacingAndGlyphs" >uv-distance (k<tspan font-style="italic">λ</tspan>)</text>
<path d="M74 651.4V660" stroke="#000" stroke-width="1.0"/>
<circle cx="74" cy="655.7" r="1.75"/>
<text x="89.6" y="658.3" font-size="9.3" stroke="#000" stroke-width="0.22" textLength="19.12" lengthAdjust="spacingAndGlyphs" >data</text>
<path d="M65.2 668.1H82.6" stroke="#ff0000" stroke-width="1.25"/>
<text x="89.6" y="670.4" font-size="9.3" stroke="#000" stroke-width="0.22" textLength="27.2" lengthAdjust="spacingAndGlyphs" >Model</text>
<rect x="30.4" y="805.9" width="121" height="120" fill="#fff" stroke="#000" stroke-width="1.1"/>
<g clip-path="url(#cl5)">
<path d="M115.8 823.6V827.6M117 824.3V828.3M120.2 828.2V833.2M121.5 838.8V846.8M123.4 823.9V829.9M125.3 822.9V830.9M126.5 819.5V835.5M127.8 812V824M129.7 836.9V844.9M131.6 814V822M132.2 834.1V840.1M134.2 837.8V847.8M134.8 849.3V865.3M136.4 813.3V820.3M138.2 827.2V839.2M139 841.8V851.8M140.5 827.2V839.2M141.5 811.6V829.6M143.3 840.9V866.9M144.9 874.3V920.3M145.8 829.4V843.4" stroke="#111" stroke-width="1.0" fill="none"/>
<path d="M34.9 815.29a1.9 1.9 0 1 0 3.8 0a1.9 1.9 0 1 0 -3.8 0M36.55 816.33a1.9 1.9 0 1 0 3.8 0a1.9 1.9 0 1 0 -3.8 0M38.2 815.2a1.9 1.9 0 1 0 3.8 0a1.9 1.9 0 1 0 -3.8 0M39.85 814.89a1.9 1.9 0 1 0 3.8 0a1.9 1.9 0 1 0 -3.8 0M41.5 815.72a1.9 1.9 0 1 0 3.8 0a1.9 1.9 0 1 0 -3.8 0M43.15 816.03a1.9 1.9 0 1 0 3.8 0a1.9 1.9 0 1 0 -3.8 0M44.8 815.62a1.9 1.9 0 1 0 3.8 0a1.9 1.9 0 1 0 -3.8 0M46.45 817.18a1.9 1.9 0 1 0 3.8 0a1.9 1.9 0 1 0 -3.8 0M48.1 816.74a1.9 1.9 0 1 0 3.8 0a1.9 1.9 0 1 0 -3.8 0M49.75 817.23a1.9 1.9 0 1 0 3.8 0a1.9 1.9 0 1 0 -3.8 0M51.4 816.81a1.9 1.9 0 1 0 3.8 0a1.9 1.9 0 1 0 -3.8 0M53.05 817.68a1.9 1.9 0 1 0 3.8 0a1.9 1.9 0 1 0 -3.8 0M54.7 818.03a1.9 1.9 0 1 0 3.8 0a1.9 1.9 0 1 0 -3.8 0M56.35 817.15a1.9 1.9 0 1 0 3.8 0a1.9 1.9 0 1 0 -3.8 0M58 819.22a1.9 1.9 0 1 0 3.8 0a1.9 1.9 0 1 0 -3.8 0M59.65 818.38a1.9 1.9 0 1 0 3.8 0a1.9 1.9 0 1 0 -3.8 0M61.3 820.04a1.9 1.9 0 1 0 3.8 0a1.9 1.9 0 1 0 -3.8 0M62.95 819.63a1.9 1.9 0 1 0 3.8 0a1.9 1.9 0 1 0 -3.8 0M64.6 822.52a1.9 1.9 0 1 0 3.8 0a1.9 1.9 0 1 0 -3.8 0M66.25 821.95a1.9 1.9 0 1 0 3.8 0a1.9 1.9 0 1 0 -3.8 0M67.9 822.91a1.9 1.9 0 1 0 3.8 0a1.9 1.9 0 1 0 -3.8 0M69.55 823.55a1.9 1.9 0 1 0 3.8 0a1.9 1.9 0 1 0 -3.8 0M71.2 822.54a1.9 1.9 0 1 0 3.8 0a1.9 1.9 0 1 0 -3.8 0M72.85 822.38a1.9 1.9 0 1 0 3.8 0a1.9 1.9 0 1 0 -3.8 0M74.5 824.26a1.9 1.9 0 1 0 3.8 0a1.9 1.9 0 1 0 -3.8 0M76.15 825.61a1.9 1.9 0 1 0 3.8 0a1.9 1.9 0 1 0 -3.8 0M77.8 825.46a1.9 1.9 0 1 0 3.8 0a1.9 1.9 0 1 0 -3.8 0M79.45 826.4a1.9 1.9 0 1 0 3.8 0a1.9 1.9 0 1 0 -3.8 0M81.1 826.93a1.9 1.9 0 1 0 3.8 0a1.9 1.9 0 1 0 -3.8 0M82.75 825.48a1.9 1.9 0 1 0 3.8 0a1.9 1.9 0 1 0 -3.8 0M84.4 827.24a1.9 1.9 0 1 0 3.8 0a1.9 1.9 0 1 0 -3.8 0M86.05 828.92a1.9 1.9 0 1 0 3.8 0a1.9 1.9 0 1 0 -3.8 0M87.7 827.24a1.9 1.9 0 1 0 3.8 0a1.9 1.9 0 1 0 -3.8 0M89.35 826.29a1.9 1.9 0 1 0 3.8 0a1.9 1.9 0 1 0 -3.8 0M91 828.04a1.9 1.9 0 1 0 3.8 0a1.9 1.9 0 1 0 -3.8 0M92.65 828.05a1.9 1.9 0 1 0 3.8 0a1.9 1.9 0 1 0 -3.8 0M94.3 829.1a1.9 1.9 0 1 0 3.8 0a1.9 1.9 0 1 0 -3.8 0M95.95 828a1.9 1.9 0 1 0 3.8 0a1.9 1.9 0 1 0 -3.8 0M97.6 829.18a1.9 1.9 0 1 0 3.8 0a1.9 1.9 0 1 0 -3.8 0M99.25 827.21a1.9 1.9 0 1 0 3.8 0a1.9 1.9 0 1 0 -3.8 0M100.9 831.34a1.9 1.9 0 1 0 3.8 0a1.9 1.9 0 1 0 -3.8 0M102.55 832.96a1.9 1.9 0 1 0 3.8 0a1.9 1.9 0 1 0 -3.8 0M104.2 833.4a1.9 1.9 0 1 0 3.8 0a1.9 1.9 0 1 0 -3.8 0M105.85 830.24a1.9 1.9 0 1 0 3.8 0a1.9 1.9 0 1 0 -3.8 0M107.5 833.05a1.9 1.9 0 1 0 3.8 0a1.9 1.9 0 1 0 -3.8 0M109.15 828.72a1.9 1.9 0 1 0 3.8 0a1.9 1.9 0 1 0 -3.8 0M110.8 833.7a1.9 1.9 0 1 0 3.8 0a1.9 1.9 0 1 0 -3.8 0M113.9 825.6a1.9 1.9 0 1 0 3.8 0a1.9 1.9 0 1 0 -3.8 0M115.1 826.3a1.9 1.9 0 1 0 3.8 0a1.9 1.9 0 1 0 -3.8 0M118.3 830.7a1.9 1.9 0 1 0 3.8 0a1.9 1.9 0 1 0 -3.8 0M119.6 842.8a1.9 1.9 0 1 0 3.8 0a1.9 1.9 0 1 0 -3.8 0M121.5 826.9a1.9 1.9 0 1 0 3.8 0a1.9 1.9 0 1 0 -3.8 0M123.4 826.9a1.9 1.9 0 1 0 3.8 0a1.9 1.9 0 1 0 -3.8 0M124.6 827.5a1.9 1.9 0 1 0 3.8 0a1.9 1.9 0 1 0 -3.8 0M125.9 818a1.9 1.9 0 1 0 3.8 0a1.9 1.9 0 1 0 -3.8 0M127.8 840.9a1.9 1.9 0 1 0 3.8 0a1.9 1.9 0 1 0 -3.8 0M129.7 818a1.9 1.9 0 1 0 3.8 0a1.9 1.9 0 1 0 -3.8 0M130.3 837.1a1.9 1.9 0 1 0 3.8 0a1.9 1.9 0 1 0 -3.8 0M132.3 842.8a1.9 1.9 0 1 0 3.8 0a1.9 1.9 0 1 0 -3.8 0M132.9 857.3a1.9 1.9 0 1 0 3.8 0a1.9 1.9 0 1 0 -3.8 0M134.5 816.8a1.9 1.9 0 1 0 3.8 0a1.9 1.9 0 1 0 -3.8 0M136.3 833.2a1.9 1.9 0 1 0 3.8 0a1.9 1.9 0 1 0 -3.8 0M137.1 846.8a1.9 1.9 0 1 0 3.8 0a1.9 1.9 0 1 0 -3.8 0M138.6 833.2a1.9 1.9 0 1 0 3.8 0a1.9 1.9 0 1 0 -3.8 0M139.6 820.6a1.9 1.9 0 1 0 3.8 0a1.9 1.9 0 1 0 -3.8 0M141.4 853.9a1.9 1.9 0 1 0 3.8 0a1.9 1.9 0 1 0 -3.8 0M143 897.3a1.9 1.9 0 1 0 3.8 0a1.9 1.9 0 1 0 -3.8 0M143.9 836.4a1.9 1.9 0 1 0 3.8 0a1.9 1.9 0 1 0 -3.8 0" fill="#000"/>
<path d="M36.5 815.6L37.19 815.6L37.88 815.61L38.57 815.62L39.25 815.63L39.94 815.64L40.63 815.66L41.32 815.67L42.01 815.69L42.7 815.72L43.39 815.74L44.08 815.77L44.76 815.8L45.45 815.85L46.14 815.92L46.83 816L47.52 816.11L48.21 816.23L48.9 816.37L49.58 816.51L50.27 816.66L50.96 816.81L51.65 816.96L52.34 817.11L53.03 817.26L53.72 817.41L54.41 817.58L55.09 817.74L55.78 817.91L56.47 818.09L57.16 818.27L57.85 818.46L58.54 818.65L59.23 818.84L59.92 819.04L60.6 819.24L61.29 819.45L61.98 819.66L62.67 819.88L63.36 820.11L64.05 820.34L64.74 820.57L65.42 820.8L66.11 821.03L66.8 821.27L67.49 821.5L68.18 821.74L68.87 821.98L69.56 822.23L70.25 822.47L70.93 822.72L71.62 822.97L72.31 823.21L73 823.44L73.69 823.67L74.38 823.89L75.07 824.1L75.75 824.31L76.44 824.51L77.13 824.7L77.82 824.89L78.51 825.08L79.2 825.26L79.89 825.44L80.58 825.62L81.26 825.79L81.95 825.96L82.64 826.13L83.33 826.3L84.02 826.47L84.71 826.64L85.4 826.8L86.08 826.96L86.77 827.12L87.46 827.27L88.15 827.41L88.84 827.55L89.53 827.68L90.22 827.8L90.91 827.92L91.59 828.04L92.28 828.14L92.97 828.25L93.66 828.35L94.35 828.45L95.04 828.54L95.73 828.64L96.42 828.72L97.1 828.81L97.79 828.89L98.48 828.97L99.17 829.05L99.86 829.13L100.55 829.2L101.24 829.27L101.92 829.34L102.61 829.41L103.3 829.48L103.99 829.55L104.68 829.62L105.37 829.69L106.06 829.77L106.75 829.85L107.43 829.93L108.12 830L108.81 830.07L109.5 830.14L110.19 830.19L110.88 830.24L111.57 830.28L112.25 830.31L112.94 830.33L113.63 830.35L114.32 830.37L115.01 830.39L115.7 830.4L116.39 830.42L117.08 830.43L117.76 830.45L118.45 830.46L119.14 830.47L119.83 830.48L120.52 830.49L121.21 830.49L121.9 830.5L122.58 830.5L123.27 830.5L123.96 830.5L124.65 830.5L125.34 830.5L126.03 830.5L126.72 830.5L127.41 830.5L128.09 830.5L128.78 830.5L129.47 830.5L130.16 830.5L130.85 830.5L131.54 830.5L132.23 830.5L132.92 830.5L133.6 830.5L134.29 830.5L134.98 830.5L135.67 830.5L136.36 830.5L137.05 830.5L137.74 830.5L138.42 830.5L139.11 830.5L139.8 830.5L140.49 830.5L141.18 830.5L141.87 830.5L142.56 830.5L143.25 830.5L143.93 830.5L144.62 830.5L145.31 830.5L146 830.5" stroke="#ff0000" stroke-width="1.3" fill="none" stroke-linejoin="round" stroke-linecap="round" />
</g>
<path d="M35.1 925.9v-3.6M35.1 805.9v3.6M79.55 925.9v-3.6M79.55 805.9v3.6M124 925.9v-3.6M124 805.9v3.6M30.4 924.9h3.6M151.4 924.9h-3.6M30.4 893.8h3.6M151.4 893.8h-3.6M30.4 862.7h3.6M151.4 862.7h-3.6M30.4 831.6h3.6M151.4 831.6h-3.6" stroke="#000" stroke-width="1.0" fill="none"/>
<path d="M43.99 925.9v-2.1M43.99 805.9v2.1M52.88 925.9v-2.1M52.88 805.9v2.1M61.77 925.9v-2.1M61.77 805.9v2.1M70.66 925.9v-2.1M70.66 805.9v2.1M88.44 925.9v-2.1M88.44 805.9v2.1M97.33 925.9v-2.1M97.33 805.9v2.1M106.22 925.9v-2.1M106.22 805.9v2.1M115.11 925.9v-2.1M115.11 805.9v2.1M132.89 925.9v-2.1M132.89 805.9v2.1M141.78 925.9v-2.1M141.78 805.9v2.1M150.67 925.9v-2.1M150.67 805.9v2.1M30.4 918.68h2.1M151.4 918.68h-2.1M30.4 912.46h2.1M151.4 912.46h-2.1M30.4 906.24h2.1M151.4 906.24h-2.1M30.4 900.02h2.1M151.4 900.02h-2.1M30.4 887.58h2.1M151.4 887.58h-2.1M30.4 881.36h2.1M151.4 881.36h-2.1M30.4 875.14h2.1M151.4 875.14h-2.1M30.4 868.92h2.1M151.4 868.92h-2.1M30.4 856.48h2.1M151.4 856.48h-2.1M30.4 850.26h2.1M151.4 850.26h-2.1M30.4 844.04h2.1M151.4 844.04h-2.1M30.4 837.82h2.1M151.4 837.82h-2.1M30.4 825.38h2.1M151.4 825.38h-2.1M30.4 819.16h2.1M151.4 819.16h-2.1M30.4 812.94h2.1M151.4 812.94h-2.1M30.4 806.72h2.1M151.4 806.72h-2.1" stroke="#000" stroke-width="0.85" fill="none"/>
<text x="35.1" y="935.1" font-size="9.3" stroke="#000" stroke-width="0.22" text-anchor="middle" textLength="5.45" lengthAdjust="spacingAndGlyphs" >0</text>
<text x="79.55" y="935.1" font-size="9.3" stroke="#000" stroke-width="0.22" text-anchor="middle" textLength="21.78" lengthAdjust="spacingAndGlyphs" >1000</text>
<text x="124" y="935.1" font-size="9.3" stroke="#000" stroke-width="0.22" text-anchor="middle" textLength="21.78" lengthAdjust="spacingAndGlyphs" >2000</text>
<text x="29.1" y="928" font-size="9.3" stroke="#000" stroke-width="0.22" text-anchor="end" textLength="18.06" lengthAdjust="spacingAndGlyphs" >−30</text>
<text x="29.1" y="896.9" font-size="9.3" stroke="#000" stroke-width="0.22" text-anchor="end" textLength="18.06" lengthAdjust="spacingAndGlyphs" >−20</text>
<text x="29.1" y="865.8" font-size="9.3" stroke="#000" stroke-width="0.22" text-anchor="end" textLength="18.06" lengthAdjust="spacingAndGlyphs" >−10</text>
<text x="29.1" y="834.7" font-size="9.3" stroke="#000" stroke-width="0.22" text-anchor="end" textLength="5.45" lengthAdjust="spacingAndGlyphs" >0</text>
<text x="0" y="0" font-size="9.3" stroke="#000" stroke-width="0.22" text-anchor="middle" textLength="61.01" lengthAdjust="spacingAndGlyphs" transform="translate(6.54 866.1) rotate(-90)">Real Vis (mJy)</text>
<text x="91" y="945.5" font-size="9.3" stroke="#000" stroke-width="0.22" text-anchor="middle" textLength="70.77" lengthAdjust="spacingAndGlyphs" >uv-distance (k<tspan font-style="italic">λ</tspan>)</text>
<path d="M47.2 896.7V905.3" stroke="#000" stroke-width="1.0"/>
<circle cx="47.2" cy="901" r="1.75"/>
<text x="62.4" y="903.6" font-size="9.3" stroke="#000" stroke-width="0.22" textLength="19.12" lengthAdjust="spacingAndGlyphs" >data</text>
<path d="M37.9 913.6H55.9" stroke="#ff0000" stroke-width="1.25"/>
<text x="62.4" y="915.9" font-size="9.3" stroke="#000" stroke-width="0.22" textLength="27.2" lengthAdjust="spacingAndGlyphs" >Model</text>
<rect x="153.8" y="0.4" width="120.0" height="120.0" fill="#3b4cc0"/>
<g clip-path="url(#ci00)">
<rect x="153.8" y="0.4" width="120.0" height="120.0" filter="url(#nz00)"/>
<ellipse cx="0" cy="0" rx="25.75" ry="25.75" fill="url(#g00)" transform="translate(213.8 60.4) rotate(32) scale(0.76 1)"/>
</g>
<ellipse cx="0" cy="0" rx="3.55" ry="4.35" fill="#fff" stroke="#25339a" stroke-width="0.6" transform="translate(163.8 110.4) rotate(22)"/>
<rect x="153.8" y="0.4" width="120" height="120" fill="none" stroke="#000" stroke-width="1.1"/>
<path d="M163.8 120.4v-3.6M163.8 0.4v3.6M213.8 120.4v-3.6M213.8 0.4v3.6M263.8 120.4v-3.6M263.8 0.4v3.6M153.8 10.4h3.6M273.8 10.4h-3.6M153.8 60.4h3.6M273.8 60.4h-3.6M153.8 110.4h3.6M273.8 110.4h-3.6" stroke="#000" stroke-width="1.0" fill="none"/>
<path d="M173.8 120.4v-2.1M173.8 0.4v2.1M183.8 120.4v-2.1M183.8 0.4v2.1M193.8 120.4v-2.1M193.8 0.4v2.1M203.8 120.4v-2.1M203.8 0.4v2.1M223.8 120.4v-2.1M223.8 0.4v2.1M233.8 120.4v-2.1M233.8 0.4v2.1M243.8 120.4v-2.1M243.8 0.4v2.1M253.8 120.4v-2.1M253.8 0.4v2.1M153.8 20.4h2.1M273.8 20.4h-2.1M153.8 30.4h2.1M273.8 30.4h-2.1M153.8 40.4h2.1M273.8 40.4h-2.1M153.8 50.4h2.1M273.8 50.4h-2.1M153.8 70.4h2.1M273.8 70.4h-2.1M153.8 80.4h2.1M273.8 80.4h-2.1M153.8 90.4h2.1M273.8 90.4h-2.1M153.8 100.4h2.1M273.8 100.4h-2.1" stroke="#000" stroke-width="0.85" fill="none"/>
<text x="163.8" y="129.6" font-size="9.3" stroke="#000" stroke-width="0.22" text-anchor="middle" textLength="12.62" lengthAdjust="spacingAndGlyphs" >−1</text>
<text x="213.8" y="129.6" font-size="9.3" stroke="#000" stroke-width="0.22" text-anchor="middle" textLength="5.45" lengthAdjust="spacingAndGlyphs" >0</text>
<text x="263.8" y="129.6" font-size="9.3" stroke="#000" stroke-width="0.22" text-anchor="middle" textLength="5.45" lengthAdjust="spacingAndGlyphs" >1</text>
<text x="160.1" y="13" font-size="9.3" fill="#fff" stroke="#fff" stroke-width="0.22" font-weight="bold" textLength="22.6" lengthAdjust="spacingAndGlyphs" >Data</text>
<text x="226.4" y="13" font-size="9.3" fill="#fff" stroke="#fff" stroke-width="0.22" font-weight="bold" textLength="34.17" lengthAdjust="spacingAndGlyphs" >BP Tau</text>
<rect x="276.7" y="0.4" width="120.0" height="120.0" fill="#3b4cc0"/>
<g clip-path="url(#ci01)">
<ellipse cx="0" cy="0" rx="25.75" ry="25.75" fill="url(#g01)" transform="translate(336.7 60.4) rotate(32) scale(0.76 1)"/>
</g>
<rect x="276.7" y="0.4" width="120" height="120" fill="none" stroke="#000" stroke-width="1.1"/>
<path d="M286.7 120.4v-3.6M286.7 0.4v3.6M336.7 120.4v-3.6M336.7 0.4v3.6M386.7 120.4v-3.6M386.7 0.4v3.6M276.7 10.4h3.6M396.7 10.4h-3.6M276.7 60.4h3.6M396.7 60.4h-3.6M276.7 110.4h3.6M396.7 110.4h-3.6" stroke="#000" stroke-width="1.0" fill="none"/>
<path d="M296.7 120.4v-2.1M296.7 0.4v2.1M306.7 120.4v-2.1M306.7 0.4v2.1M316.7 120.4v-2.1M316.7 0.4v2.1M326.7 120.4v-2.1M326.7 0.4v2.1M346.7 120.4v-2.1M346.7 0.4v2.1M356.7 120.4v-2.1M356.7 0.4v2.1M366.7 120.4v-2.1M366.7 0.4v2.1M376.7 120.4v-2.1M376.7 0.4v2.1M276.7 20.4h2.1M396.7 20.4h-2.1M276.7 30.4h2.1M396.7 30.4h-2.1M276.7 40.4h2.1M396.7 40.4h-2.1M276.7 50.4h2.1M396.7 50.4h-2.1M276.7 70.4h2.1M396.7 70.4h-2.1M276.7 80.4h2.1M396.7 80.4h-2.1M276.7 90.4h2.1M396.7 90.4h-2.1M276.7 100.4h2.1M396.7 100.4h-2.1" stroke="#000" stroke-width="0.85" fill="none"/>
<text x="286.7" y="129.6" font-size="9.3" stroke="#000" stroke-width="0.22" text-anchor="middle" textLength="12.62" lengthAdjust="spacingAndGlyphs" >−1</text>
<text x="336.7" y="129.6" font-size="9.3" stroke="#000" stroke-width="0.22" text-anchor="middle" textLength="5.45" lengthAdjust="spacingAndGlyphs" >0</text>
<text x="386.7" y="129.6" font-size="9.3" stroke="#000" stroke-width="0.22" text-anchor="middle" textLength="5.45" lengthAdjust="spacingAndGlyphs" >1</text>
<text x="283" y="13" font-size="9.3" fill="#fff" stroke="#fff" stroke-width="0.22" font-weight="bold" textLength="30.04" lengthAdjust="spacingAndGlyphs" >Model</text>
<rect x="399.6" y="0.4" width="120.0" height="120.0" fill="#3b4cc0"/>
<g clip-path="url(#ci02)">
<rect x="399.6" y="0.4" width="120.0" height="120.0" filter="url(#nz02)"/>
<g fill="none" stroke="#cfd4f4" stroke-opacity="0.85" stroke-width="0.55" stroke-linejoin="round"><ellipse cx="470.5" cy="47.3" rx="1.5" ry="2.3"/><ellipse cx="446.6" cy="53.5" rx="1.7" ry="1.5"/><ellipse cx="418" cy="64.3" rx="1.6" ry="2.5" transform="rotate(15 418 64.3)"/><ellipse cx="455.4" cy="60.5" rx="1.1" ry="1.1"/><ellipse cx="479" cy="59.2" rx="1.5" ry="1.5"/><ellipse cx="479.5" cy="29" rx="1.2" ry="1.6"/><ellipse cx="451.4" cy="23" rx="0.8" ry="0.8"/><ellipse cx="433.5" cy="21.4" rx="0.8" ry="0.8"/><ellipse cx="406.8" cy="79.9" rx="1.0" ry="1.5"/><ellipse cx="473" cy="84.5" rx="1.8" ry="1.2" transform="rotate(30 473 84.5)"/><ellipse cx="450.3" cy="92.7" rx="1.4" ry="2.0"/><ellipse cx="414.9" cy="94.3" rx="1.0" ry="1.0"/><ellipse cx="431.1" cy="97.4" rx="0.8" ry="0.8"/><ellipse cx="465.6" cy="11.1" rx="1.3" ry="1.3"/><ellipse cx="454.6" cy="4.8" rx="0.9" ry="0.9"/><ellipse cx="513.2" cy="4.8" rx="0.9" ry="0.9"/><ellipse cx="417.1" cy="119.2" rx="1.5" ry="1.2"/><ellipse cx="403.7" cy="13.5" rx="1.1" ry="1.1"/></g>
</g>
<rect x="399.6" y="0.4" width="120" height="120" fill="none" stroke="#000" stroke-width="1.1"/>
<path d="M409.6 120.4v-3.6M409.6 0.4v3.6M459.6 120.4v-3.6M459.6 0.4v3.6M509.6 120.4v-3.6M509.6 0.4v3.6M399.6 10.4h3.6M519.6 10.4h-3.6M399.6 60.4h3.6M519.6 60.4h-3.6M399.6 110.4h3.6M519.6 110.4h-3.6" stroke="#000" stroke-width="1.0" fill="none"/>
<path d="M419.6 120.4v-2.1M419.6 0.4v2.1M429.6 120.4v-2.1M429.6 0.4v2.1M439.6 120.4v-2.1M439.6 0.4v2.1M449.6 120.4v-2.1M449.6 0.4v2.1M469.6 120.4v-2.1M469.6 0.4v2.1M479.6 120.4v-2.1M479.6 0.4v2.1M489.6 120.4v-2.1M489.6 0.4v2.1M499.6 120.4v-2.1M499.6 0.4v2.1M399.6 20.4h2.1M519.6 20.4h-2.1M399.6 30.4h2.1M519.6 30.4h-2.1M399.6 40.4h2.1M519.6 40.4h-2.1M399.6 50.4h2.1M519.6 50.4h-2.1M399.6 70.4h2.1M519.6 70.4h-2.1M399.6 80.4h2.1M519.6 80.4h-2.1M399.6 90.4h2.1M519.6 90.4h-2.1M399.6 100.4h2.1M519.6 100.4h-2.1" stroke="#000" stroke-width="0.85" fill="none"/>
<text x="409.6" y="129.6" font-size="9.3" stroke="#000" stroke-width="0.22" text-anchor="middle" textLength="12.62" lengthAdjust="spacingAndGlyphs" >−1</text>
<text x="459.6" y="129.6" font-size="9.3" stroke="#000" stroke-width="0.22" text-anchor="middle" textLength="5.45" lengthAdjust="spacingAndGlyphs" >0</text>
<text x="509.6" y="129.6" font-size="9.3" stroke="#000" stroke-width="0.22" text-anchor="middle" textLength="5.45" lengthAdjust="spacingAndGlyphs" >1</text>
<text x="405.9" y="13" font-size="9.3" fill="#fff" stroke="#fff" stroke-width="0.22" font-weight="bold" textLength="41.88" lengthAdjust="spacingAndGlyphs" >Residual</text>
<text x="478.76" y="114.4" font-size="9.5" font-family="Liberation Sans" fill="#eceefa" stroke="#eceefa" stroke-width="0.15" textLength="23.52" lengthAdjust="spacingAndGlyphs">[-3,3]</text>
<text x="502.27" y="114.4" font-size="9.5" font-family="Liberation Sans" font-style="italic" fill="#eceefa" stroke="#eceefa" stroke-width="0.15">σ</text>
<rect x="153.8" y="161.5" width="120.0" height="120.0" fill="#3b4cc0"/>
<g clip-path="url(#ci10)">
<rect x="153.8" y="161.5" width="120.0" height="120.0" filter="url(#nz10)"/>
<ellipse cx="0" cy="0" rx="21.1" ry="21.1" fill="url(#g10)" transform="translate(213.8 221.5) rotate(0) scale(0.88 1)"/>
</g>
<ellipse cx="0" cy="0" rx="3.5" ry="4.0" fill="#fff" stroke="#25339a" stroke-width="0.6" transform="translate(163.8 271.5) rotate(20)"/>
<rect x="153.8" y="161.5" width="120" height="120" fill="none" stroke="#000" stroke-width="1.1"/>
<path d="M163.8 281.5v-3.6M163.8 161.5v3.6M213.8 281.5v-3.6M213.8 161.5v3.6M263.8 281.5v-3.6M263.8 161.5v3.6M153.8 171.5h3.6M273.8 171.5h-3.6M153.8 221.5h3.6M273.8 221.5h-3.6M153.8 271.5h3.6M273.8 271.5h-3.6" stroke="#000" stroke-width="1.0" fill="none"/>
<path d="M173.8 281.5v-2.1M173.8 161.5v2.1M183.8 281.5v-2.1M183.8 161.5v2.1M193.8 281.5v-2.1M193.8 161.5v2.1M203.8 281.5v-2.1M203.8 161.5v2.1M223.8 281.5v-2.1M223.8 161.5v2.1M233.8 281.5v-2.1M233.8 161.5v2.1M243.8 281.5v-2.1M243.8 161.5v2.1M253.8 281.5v-2.1M253.8 161.5v2.1M153.8 181.5h2.1M273.8 181.5h-2.1M153.8 191.5h2.1M273.8 191.5h-2.1M153.8 201.5h2.1M273.8 201.5h-2.1M153.8 211.5h2.1M273.8 211.5h-2.1M153.8 231.5h2.1M273.8 231.5h-2.1M153.8 241.5h2.1M273.8 241.5h-2.1M153.8 251.5h2.1M273.8 251.5h-2.1M153.8 261.5h2.1M273.8 261.5h-2.1" stroke="#000" stroke-width="0.85" fill="none"/>
<text x="163.8" y="290.7" font-size="9.3" stroke="#000" stroke-width="0.22" text-anchor="middle" textLength="12.62" lengthAdjust="spacingAndGlyphs" >−1</text>
<text x="213.8" y="290.7" font-size="9.3" stroke="#000" stroke-width="0.22" text-anchor="middle" textLength="5.45" lengthAdjust="spacingAndGlyphs" >0</text>
<text x="263.8" y="290.7" font-size="9.3" stroke="#000" stroke-width="0.22" text-anchor="middle" textLength="5.45" lengthAdjust="spacingAndGlyphs" >1</text>
<text x="160.1" y="174.1" font-size="9.3" fill="#fff" stroke="#fff" stroke-width="0.22" font-weight="bold" textLength="22.6" lengthAdjust="spacingAndGlyphs" >Data</text>
<text x="226.4" y="174.1" font-size="9.3" fill="#fff" stroke="#fff" stroke-width="0.22" font-weight="bold" textLength="35.39" lengthAdjust="spacingAndGlyphs" >DO Tau</text>
<rect x="276.7" y="161.5" width="120.0" height="120.0" fill="#3b4cc0"/>
<g clip-path="url(#ci11)">
<ellipse cx="0" cy="0" rx="21.1" ry="21.1" fill="url(#g11)" transform="translate(336.7 221.5) rotate(0) scale(0.88 1)"/>
</g>
<rect x="276.7" y="161.5" width="120" height="120" fill="none" stroke="#000" stroke-width="1.1"/>
<path d="M286.7 281.5v-3.6M286.7 161.5v3.6M336.7 281.5v-3.6M336.7 161.5v3.6M386.7 281.5v-3.6M386.7 161.5v3.6M276.7 171.5h3.6M396.7 171.5h-3.6M276.7 221.5h3.6M396.7 221.5h-3.6M276.7 271.5h3.6M396.7 271.5h-3.6" stroke="#000" stroke-width="1.0" fill="none"/>
<path d="M296.7 281.5v-2.1M296.7 161.5v2.1M306.7 281.5v-2.1M306.7 161.5v2.1M316.7 281.5v-2.1M316.7 161.5v2.1M326.7 281.5v-2.1M326.7 161.5v2.1M346.7 281.5v-2.1M346.7 161.5v2.1M356.7 281.5v-2.1M356.7 161.5v2.1M366.7 281.5v-2.1M366.7 161.5v2.1M376.7 281.5v-2.1M376.7 161.5v2.1M276.7 181.5h2.1M396.7 181.5h-2.1M276.7 191.5h2.1M396.7 191.5h-2.1M276.7 201.5h2.1M396.7 201.5h-2.1M276.7 211.5h2.1M396.7 211.5h-2.1M276.7 231.5h2.1M396.7 231.5h-2.1M276.7 241.5h2.1M396.7 241.5h-2.1M276.7 251.5h2.1M396.7 251.5h-2.1M276.7 261.5h2.1M396.7 261.5h-2.1" stroke="#000" stroke-width="0.85" fill="none"/>
<text x="286.7" y="290.7" font-size="9.3" stroke="#000" stroke-width="0.22" text-anchor="middle" textLength="12.62" lengthAdjust="spacingAndGlyphs" >−1</text>
<text x="336.7" y="290.7" font-size="9.3" stroke="#000" stroke-width="0.22" text-anchor="middle" textLength="5.45" lengthAdjust="spacingAndGlyphs" >0</text>
<text x="386.7" y="290.7" font-size="9.3" stroke="#000" stroke-width="0.22" text-anchor="middle" textLength="5.45" lengthAdjust="spacingAndGlyphs" >1</text>
<text x="283" y="174.1" font-size="9.3" fill="#fff" stroke="#fff" stroke-width="0.22" font-weight="bold" textLength="30.04" lengthAdjust="spacingAndGlyphs" >Model</text>
<rect x="399.6" y="161.5" width="120.0" height="120.0" fill="#3b4cc0"/>
<g clip-path="url(#ci12)">
<rect x="399.6" y="161.5" width="120.0" height="120.0" filter="url(#nz12)"/>
<g fill="none" stroke="#cfd4f4" stroke-opacity="0.85" stroke-width="0.55" stroke-linejoin="round"><ellipse cx="402.3" cy="197.8" rx="2" ry="2"/><ellipse cx="453.7" cy="205.7" rx="0.8" ry="0.8"/><ellipse cx="461" cy="204.1" rx="1" ry="1"/><ellipse cx="449.2" cy="211.8" rx="1.4" ry="2" transform="rotate(30 449.2 211.8)"/><ellipse cx="450.8" cy="218.2" rx="1.5" ry="2.2" transform="rotate(20 450.8 218.2)"/><ellipse cx="459.4" cy="219.9" rx="3.4" ry="1.8" transform="rotate(25 459.4 219.9)"/><ellipse cx="446.9" cy="228.5" rx="1" ry="1"/><ellipse cx="466.2" cy="234.5" rx="1" ry="1"/><ellipse cx="411.8" cy="235.5" rx="0.7" ry="0.7"/><ellipse cx="444" cy="240.7" rx="0.7" ry="0.7"/><ellipse cx="514.6" cy="246.8" rx="0.8" ry="0.8"/><ellipse cx="512.7" cy="258.9" rx="1.8" ry="1.6" transform="rotate(30 512.7 258.9)"/><ellipse cx="490.2" cy="267.5" rx="1.4" ry="2.2" transform="rotate(30 490.2 267.5)"/><ellipse cx="431" cy="266.6" rx="0.8" ry="0.8"/><ellipse cx="415.2" cy="270.4" rx="0.6" ry="0.6"/></g>
</g>
<rect x="399.6" y="161.5" width="120" height="120" fill="none" stroke="#000" stroke-width="1.1"/>
<path d="M409.6 281.5v-3.6M409.6 161.5v3.6M459.6 281.5v-3.6M459.6 161.5v3.6M509.6 281.5v-3.6M509.6 161.5v3.6M399.6 171.5h3.6M519.6 171.5h-3.6M399.6 221.5h3.6M519.6 221.5h-3.6M399.6 271.5h3.6M519.6 271.5h-3.6" stroke="#000" stroke-width="1.0" fill="none"/>
<path d="M419.6 281.5v-2.1M419.6 161.5v2.1M429.6 281.5v-2.1M429.6 161.5v2.1M439.6 281.5v-2.1M439.6 161.5v2.1M449.6 281.5v-2.1M449.6 161.5v2.1M469.6 281.5v-2.1M469.6 161.5v2.1M479.6 281.5v-2.1M479.6 161.5v2.1M489.6 281.5v-2.1M489.6 161.5v2.1M499.6 281.5v-2.1M499.6 161.5v2.1M399.6 181.5h2.1M519.6 181.5h-2.1M399.6 191.5h2.1M519.6 191.5h-2.1M399.6 201.5h2.1M519.6 201.5h-2.1M399.6 211.5h2.1M519.6 211.5h-2.1M399.6 231.5h2.1M519.6 231.5h-2.1M399.6 241.5h2.1M519.6 241.5h-2.1M399.6 251.5h2.1M519.6 251.5h-2.1M399.6 261.5h2.1M519.6 261.5h-2.1" stroke="#000" stroke-width="0.85" fill="none"/>
<text x="409.6" y="290.7" font-size="9.3" stroke="#000" stroke-width="0.22" text-anchor="middle" textLength="12.62" lengthAdjust="spacingAndGlyphs" >−1</text>
<text x="459.6" y="290.7" font-size="9.3" stroke="#000" stroke-width="0.22" text-anchor="middle" textLength="5.45" lengthAdjust="spacingAndGlyphs" >0</text>
<text x="509.6" y="290.7" font-size="9.3" stroke="#000" stroke-width="0.22" text-anchor="middle" textLength="5.45" lengthAdjust="spacingAndGlyphs" >1</text>
<text x="405.9" y="174.1" font-size="9.3" fill="#fff" stroke="#fff" stroke-width="0.22" font-weight="bold" textLength="41.88" lengthAdjust="spacingAndGlyphs" >Residual</text>
<text x="478.76" y="275.5" font-size="9.5" font-family="Liberation Sans" fill="#eceefa" stroke="#eceefa" stroke-width="0.15" textLength="23.52" lengthAdjust="spacingAndGlyphs">[-3,3]</text>
<text x="502.27" y="275.5" font-size="9.5" font-family="Liberation Sans" font-style="italic" fill="#eceefa" stroke="#eceefa" stroke-width="0.15">σ</text>
<rect x="153.8" y="322.6" width="120.0" height="120.0" fill="#3b4cc0"/>
<g clip-path="url(#ci20)">
<rect x="153.8" y="322.6" width="120.0" height="120.0" filter="url(#nz20)"/>
<ellipse cx="0" cy="0" rx="15.85" ry="15.85" fill="url(#g20)" transform="translate(213.8 382.6) rotate(0) scale(0.95 1)"/>
</g>
<ellipse cx="0" cy="0" rx="3.5" ry="3.8" fill="#fff" stroke="#25339a" stroke-width="0.6" transform="translate(163.8 432.6) rotate(-35)"/>
<rect x="153.8" y="322.6" width="120" height="120" fill="none" stroke="#000" stroke-width="1.1"/>
<path d="M163.8 442.6v-3.6M163.8 322.6v3.6M213.8 442.6v-3.6M213.8 322.6v3.6M263.8 442.6v-3.6M263.8 322.6v3.6M153.8 332.6h3.6M273.8 332.6h-3.6M153.8 382.6h3.6M273.8 382.6h-3.6M153.8 432.6h3.6M273.8 432.6h-3.6" stroke="#000" stroke-width="1.0" fill="none"/>
<path d="M173.8 442.6v-2.1M173.8 322.6v2.1M183.8 442.6v-2.1M183.8 322.6v2.1M193.8 442.6v-2.1M193.8 322.6v2.1M203.8 442.6v-2.1M203.8 322.6v2.1M223.8 442.6v-2.1M223.8 322.6v2.1M233.8 442.6v-2.1M233.8 322.6v2.1M243.8 442.6v-2.1M243.8 322.6v2.1M253.8 442.6v-2.1M253.8 322.6v2.1M153.8 342.6h2.1M273.8 342.6h-2.1M153.8 352.6h2.1M273.8 352.6h-2.1M153.8 362.6h2.1M273.8 362.6h-2.1M153.8 372.6h2.1M273.8 372.6h-2.1M153.8 392.6h2.1M273.8 392.6h-2.1M153.8 402.6h2.1M273.8 402.6h-2.1M153.8 412.6h2.1M273.8 412.6h-2.1M153.8 422.6h2.1M273.8 422.6h-2.1" stroke="#000" stroke-width="0.85" fill="none"/>
<text x="163.8" y="451.8" font-size="9.3" stroke="#000" stroke-width="0.22" text-anchor="middle" textLength="12.62" lengthAdjust="spacingAndGlyphs" >−1</text>
<text x="213.8" y="451.8" font-size="9.3" stroke="#000" stroke-width="0.22" text-anchor="middle" textLength="5.45" lengthAdjust="spacingAndGlyphs" >0</text>
<text x="263.8" y="451.8" font-size="9.3" stroke="#000" stroke-width="0.22" text-anchor="middle" textLength="5.45" lengthAdjust="spacingAndGlyphs" >1</text>
<text x="160.1" y="335.2" font-size="9.3" fill="#fff" stroke="#fff" stroke-width="0.22" font-weight="bold" textLength="22.6" lengthAdjust="spacingAndGlyphs" >Data</text>
<text x="226.4" y="335.2" font-size="9.3" fill="#fff" stroke="#fff" stroke-width="0.22" font-weight="bold" textLength="35.39" lengthAdjust="spacingAndGlyphs" >DQ Tau</text>
<rect x="276.7" y="322.6" width="120.0" height="120.0" fill="#3b4cc0"/>
<g clip-path="url(#ci21)">
<ellipse cx="0" cy="0" rx="15.85" ry="15.85" fill="url(#g21)" transform="translate(336.7 382.6) rotate(0) scale(0.95 1)"/>
</g>
<rect x="276.7" y="322.6" width="120" height="120" fill="none" stroke="#000" stroke-width="1.1"/>
<path d="M286.7 442.6v-3.6M286.7 322.6v3.6M336.7 442.6v-3.6M336.7 322.6v3.6M386.7 442.6v-3.6M386.7 322.6v3.6M276.7 332.6h3.6M396.7 332.6h-3.6M276.7 382.6h3.6M396.7 382.6h-3.6M276.7 432.6h3.6M396.7 432.6h-3.6" stroke="#000" stroke-width="1.0" fill="none"/>
<path d="M296.7 442.6v-2.1M296.7 322.6v2.1M306.7 442.6v-2.1M306.7 322.6v2.1M316.7 442.6v-2.1M316.7 322.6v2.1M326.7 442.6v-2.1M326.7 322.6v2.1M346.7 442.6v-2.1M346.7 322.6v2.1M356.7 442.6v-2.1M356.7 322.6v2.1M366.7 442.6v-2.1M366.7 322.6v2.1M376.7 442.6v-2.1M376.7 322.6v2.1M276.7 342.6h2.1M396.7 342.6h-2.1M276.7 352.6h2.1M396.7 352.6h-2.1M276.7 362.6h2.1M396.7 362.6h-2.1M276.7 372.6h2.1M396.7 372.6h-2.1M276.7 392.6h2.1M396.7 392.6h-2.1M276.7 402.6h2.1M396.7 402.6h-2.1M276.7 412.6h2.1M396.7 412.6h-2.1M276.7 422.6h2.1M396.7 422.6h-2.1" stroke="#000" stroke-width="0.85" fill="none"/>
<text x="286.7" y="451.8" font-size="9.3" stroke="#000" stroke-width="0.22" text-anchor="middle" textLength="12.62" lengthAdjust="spacingAndGlyphs" >−1</text>
<text x="336.7" y="451.8" font-size="9.3" stroke="#000" stroke-width="0.22" text-anchor="middle" textLength="5.45" lengthAdjust="spacingAndGlyphs" >0</text>
<text x="386.7" y="451.8" font-size="9.3" stroke="#000" stroke-width="0.22" text-anchor="middle" textLength="5.45" lengthAdjust="spacingAndGlyphs" >1</text>
<text x="283" y="335.2" font-size="9.3" fill="#fff" stroke="#fff" stroke-width="0.22" font-weight="bold" textLength="30.04" lengthAdjust="spacingAndGlyphs" >Model</text>
<rect x="399.6" y="322.6" width="120.0" height="120.0" fill="#3b4cc0"/>
<g clip-path="url(#ci22)">
<rect x="399.6" y="322.6" width="120.0" height="120.0" filter="url(#nz22)"/>
<g fill="none" stroke="#cfd4f4" stroke-opacity="0.85" stroke-width="0.55" stroke-linejoin="round"><ellipse cx="449.8" cy="327.1" rx="1.5" ry="1.0"/><ellipse cx="452.3" cy="337.6" rx="2" ry="2.5" transform="rotate(-30 452.3 337.6)"/><ellipse cx="444.4" cy="345.3" rx="2" ry="2"/><ellipse cx="425.2" cy="357.4" rx="1.5" ry="2"/><ellipse cx="430.6" cy="357.4" rx="1.5" ry="1.5"/><ellipse cx="421" cy="369.3" rx="1.5" ry="2"/><ellipse cx="450.5" cy="369.4" rx="1.35" ry="1.35"/><ellipse cx="448.9" cy="375.5" rx="2.7" ry="3.7" transform="rotate(10 448.9 375.5)"/><ellipse cx="464.1" cy="375.2" rx="5.8" ry="1.8" transform="rotate(33 464.1 375.2)"/><ellipse cx="452.6" cy="382.9" rx="2.5" ry="1.8"/><ellipse cx="458.3" cy="381.9" rx="2.5" ry="3.0"/><ellipse cx="464.7" cy="381.9" rx="1.8" ry="2.0"/><ellipse cx="457.3" cy="389.4" rx="4.2" ry="4.0"/><ellipse cx="457.3" cy="389.4" rx="2.8" ry="2.7"/><ellipse cx="457.3" cy="389.4" rx="1.5" ry="1.4"/><ellipse cx="465.7" cy="388.7" rx="3.2" ry="2.7"/><ellipse cx="465.7" cy="388.7" rx="1.8" ry="1.6"/><ellipse cx="447.5" cy="391.1" rx="1.4" ry="1.8"/><ellipse cx="418.7" cy="399.3" rx="1" ry="1"/><ellipse cx="490.2" cy="384" rx="0.8" ry="0.8"/><ellipse cx="474.8" cy="420.8" rx="2" ry="1.5" transform="rotate(30 474.8 420.8)"/><ellipse cx="464.2" cy="422.7" rx="0.8" ry="0.8"/><ellipse cx="467.5" cy="428.1" rx="2.5" ry="1.5"/><ellipse cx="445" cy="435.6" rx="2" ry="1.5"/><ellipse cx="401.4" cy="432.4" rx="2" ry="2"/><ellipse cx="426.8" cy="440" rx="1" ry="1"/><ellipse cx="499.4" cy="341.1" rx="2" ry="2"/><ellipse cx="504" cy="337.6" rx="2" ry="1.5"/><ellipse cx="505.6" cy="324.8" rx="2" ry="1.5"/></g>
</g>
<rect x="399.6" y="322.6" width="120" height="120" fill="none" stroke="#000" stroke-width="1.1"/>
<path d="M409.6 442.6v-3.6M409.6 322.6v3.6M459.6 442.6v-3.6M459.6 322.6v3.6M509.6 442.6v-3.6M509.6 322.6v3.6M399.6 332.6h3.6M519.6 332.6h-3.6M399.6 382.6h3.6M519.6 382.6h-3.6M399.6 432.6h3.6M519.6 432.6h-3.6" stroke="#000" stroke-width="1.0" fill="none"/>
<path d="M419.6 442.6v-2.1M419.6 322.6v2.1M429.6 442.6v-2.1M429.6 322.6v2.1M439.6 442.6v-2.1M439.6 322.6v2.1M449.6 442.6v-2.1M449.6 322.6v2.1M469.6 442.6v-2.1M469.6 322.6v2.1M479.6 442.6v-2.1M479.6 322.6v2.1M489.6 442.6v-2.1M489.6 322.6v2.1M499.6 442.6v-2.1M499.6 322.6v2.1M399.6 342.6h2.1M519.6 342.6h-2.1M399.6 352.6h2.1M519.6 352.6h-2.1M399.6 362.6h2.1M519.6 362.6h-2.1M399.6 372.6h2.1M519.6 372.6h-2.1M399.6 392.6h2.1M519.6 392.6h-2.1M399.6 402.6h2.1M519.6 402.6h-2.1M399.6 412.6h2.1M519.6 412.6h-2.1M399.6 422.6h2.1M519.6 422.6h-2.1" stroke="#000" stroke-width="0.85" fill="none"/>
<text x="409.6" y="451.8" font-size="9.3" stroke="#000" stroke-width="0.22" text-anchor="middle" textLength="12.62" lengthAdjust="spacingAndGlyphs" >−1</text>
<text x="459.6" y="451.8" font-size="9.3" stroke="#000" stroke-width="0.22" text-anchor="middle" textLength="5.45" lengthAdjust="spacingAndGlyphs" >0</text>
<text x="509.6" y="451.8" font-size="9.3" stroke="#000" stroke-width="0.22" text-anchor="middle" textLength="5.45" lengthAdjust="spacingAndGlyphs" >1</text>
<text x="405.9" y="335.2" font-size="9.3" fill="#fff" stroke="#fff" stroke-width="0.22" font-weight="bold" textLength="41.88" lengthAdjust="spacingAndGlyphs" >Residual</text>
<text x="453.74" y="436.6" font-size="9.5" font-family="Liberation Sans" fill="#eceefa" stroke="#eceefa" stroke-width="0.15" textLength="48.53" lengthAdjust="spacingAndGlyphs">[-10,-3,3,5]</text>
<text x="502.27" y="436.6" font-size="9.5" font-family="Liberation Sans" font-style="italic" fill="#eceefa" stroke="#eceefa" stroke-width="0.15">σ</text>
<rect x="153.8" y="483.7" width="120.0" height="120.0" fill="#3b4cc0"/>
<g clip-path="url(#ci30)">
<rect x="153.8" y="483.7" width="120.0" height="120.0" filter="url(#nz30)"/>
<ellipse cx="0" cy="0" rx="20.35" ry="20.35" fill="url(#g30)" transform="translate(213.8 543.7) rotate(0) scale(0.95 1)"/>
</g>
<ellipse cx="0" cy="0" rx="3.5" ry="3.85" fill="#fff" stroke="#25339a" stroke-width="0.6" transform="translate(163.8 593.7) rotate(-35)"/>
<rect x="153.8" y="483.7" width="120" height="120" fill="none" stroke="#000" stroke-width="1.1"/>
<path d="M163.8 603.7v-3.6M163.8 483.7v3.6M213.8 603.7v-3.6M213.8 483.7v3.6M263.8 603.7v-3.6M263.8 483.7v3.6M153.8 493.7h3.6M273.8 493.7h-3.6M153.8 543.7h3.6M273.8 543.7h-3.6M153.8 593.7h3.6M273.8 593.7h-3.6" stroke="#000" stroke-width="1.0" fill="none"/>
<path d="M173.8 603.7v-2.1M173.8 483.7v2.1M183.8 603.7v-2.1M183.8 483.7v2.1M193.8 603.7v-2.1M193.8 483.7v2.1M203.8 603.7v-2.1M203.8 483.7v2.1M223.8 603.7v-2.1M223.8 483.7v2.1M233.8 603.7v-2.1M233.8 483.7v2.1M243.8 603.7v-2.1M243.8 483.7v2.1M253.8 603.7v-2.1M253.8 483.7v2.1M153.8 503.7h2.1M273.8 503.7h-2.1M153.8 513.7h2.1M273.8 513.7h-2.1M153.8 523.7h2.1M273.8 523.7h-2.1M153.8 533.7h2.1M273.8 533.7h-2.1M153.8 553.7h2.1M273.8 553.7h-2.1M153.8 563.7h2.1M273.8 563.7h-2.1M153.8 573.7h2.1M273.8 573.7h-2.1M153.8 583.7h2.1M273.8 583.7h-2.1" stroke="#000" stroke-width="0.85" fill="none"/>
<text x="163.8" y="612.9" font-size="9.3" stroke="#000" stroke-width="0.22" text-anchor="middle" textLength="12.62" lengthAdjust="spacingAndGlyphs" >−1</text>
<text x="213.8" y="612.9" font-size="9.3" stroke="#000" stroke-width="0.22" text-anchor="middle" textLength="5.45" lengthAdjust="spacingAndGlyphs" >0</text>
<text x="263.8" y="612.9" font-size="9.3" stroke="#000" stroke-width="0.22" text-anchor="middle" textLength="5.45" lengthAdjust="spacingAndGlyphs" >1</text>
<text x="160.1" y="496.3" font-size="9.3" fill="#fff" stroke="#fff" stroke-width="0.22" font-weight="bold" textLength="22.6" lengthAdjust="spacingAndGlyphs" >Data</text>
<text x="226.4" y="496.3" font-size="9.3" fill="#fff" stroke="#fff" stroke-width="0.22" font-weight="bold" textLength="35.04" lengthAdjust="spacingAndGlyphs" >DR Tau</text>
<rect x="276.7" y="483.7" width="120.0" height="120.0" fill="#3b4cc0"/>
<g clip-path="url(#ci31)">
<ellipse cx="0" cy="0" rx="20.35" ry="20.35" fill="url(#g31)" transform="translate(336.7 543.7) rotate(0) scale(0.95 1)"/>
</g>
<rect x="276.7" y="483.7" width="120" height="120" fill="none" stroke="#000" stroke-width="1.1"/>
<path d="M286.7 603.7v-3.6M286.7 483.7v3.6M336.7 603.7v-3.6M336.7 483.7v3.6M386.7 603.7v-3.6M386.7 483.7v3.6M276.7 493.7h3.6M396.7 493.7h-3.6M276.7 543.7h3.6M396.7 543.7h-3.6M276.7 593.7h3.6M396.7 593.7h-3.6" stroke="#000" stroke-width="1.0" fill="none"/>
<path d="M296.7 603.7v-2.1M296.7 483.7v2.1M306.7 603.7v-2.1M306.7 483.7v2.1M316.7 603.7v-2.1M316.7 483.7v2.1M326.7 603.7v-2.1M326.7 483.7v2.1M346.7 603.7v-2.1M346.7 483.7v2.1M356.7 603.7v-2.1M356.7 483.7v2.1M366.7 603.7v-2.1M366.7 483.7v2.1M376.7 603.7v-2.1M376.7 483.7v2.1M276.7 503.7h2.1M396.7 503.7h-2.1M276.7 513.7h2.1M396.7 513.7h-2.1M276.7 523.7h2.1M396.7 523.7h-2.1M276.7 533.7h2.1M396.7 533.7h-2.1M276.7 553.7h2.1M396.7 553.7h-2.1M276.7 563.7h2.1M396.7 563.7h-2.1M276.7 573.7h2.1M396.7 573.7h-2.1M276.7 583.7h2.1M396.7 583.7h-2.1" stroke="#000" stroke-width="0.85" fill="none"/>
<text x="286.7" y="612.9" font-size="9.3" stroke="#000" stroke-width="0.22" text-anchor="middle" textLength="12.62" lengthAdjust="spacingAndGlyphs" >−1</text>
<text x="336.7" y="612.9" font-size="9.3" stroke="#000" stroke-width="0.22" text-anchor="middle" textLength="5.45" lengthAdjust="spacingAndGlyphs" >0</text>
<text x="386.7" y="612.9" font-size="9.3" stroke="#000" stroke-width="0.22" text-anchor="middle" textLength="5.45" lengthAdjust="spacingAndGlyphs" >1</text>
<text x="283" y="496.3" font-size="9.3" fill="#fff" stroke="#fff" stroke-width="0.22" font-weight="bold" textLength="30.04" lengthAdjust="spacingAndGlyphs" >Model</text>
<rect x="399.6" y="483.7" width="120.0" height="120.0" fill="#3b4cc0"/>
<g clip-path="url(#ci32)">
<rect x="399.6" y="483.7" width="120.0" height="120.0" filter="url(#nz32)"/>
<g fill="none" stroke="#cfd4f4" stroke-opacity="0.85" stroke-width="0.55" stroke-linejoin="round"><ellipse cx="444" cy="508.6" rx="3" ry="1.5" transform="rotate(30 444 508.6)"/><ellipse cx="451.6" cy="511.5" rx="3" ry="1.6" transform="rotate(35 451.6 511.5)"/><ellipse cx="444.9" cy="516.7" rx="1.8" ry="3"/><ellipse cx="438.7" cy="522.8" rx="1" ry="1"/><ellipse cx="446.5" cy="524.3" rx="1" ry="1"/><ellipse cx="453.6" cy="521.2" rx="1.2" ry="1.2"/><ellipse cx="458.1" cy="523.4" rx="0.8" ry="0.8"/><ellipse cx="477.3" cy="508.1" rx="1.2" ry="1.2"/><ellipse cx="483.8" cy="506.3" rx="1.5" ry="1.5"/><ellipse cx="476" cy="516" rx="1" ry="1"/><ellipse cx="473.2" cy="527.9" rx="1.2" ry="1.2"/><ellipse cx="476.8" cy="538.3" rx="1.4" ry="1.4"/><ellipse cx="482.3" cy="548.5" rx="1.4" ry="1.4"/><ellipse cx="472.3" cy="554" rx="1.5" ry="1.5"/><ellipse cx="459.7" cy="536" rx="1.5" ry="1.2"/><ellipse cx="456.8" cy="545.5" rx="7.7" ry="8.6" transform="rotate(-10 456.8 545.5)"/><ellipse cx="456.1" cy="545" rx="4.5" ry="6.3"/><ellipse cx="457" cy="544.1" rx="2" ry="4"/><ellipse cx="461.5" cy="543.2" rx="2" ry="3.2"/><ellipse cx="426.8" cy="533.8" rx="1.5" ry="1.5"/><ellipse cx="423.3" cy="538.6" rx="2" ry="2"/><ellipse cx="479.6" cy="562.2" rx="0.8" ry="0.8"/><ellipse cx="483.4" cy="571.4" rx="0.6" ry="0.6"/><ellipse cx="469.6" cy="577" rx="1.5" ry="2"/><ellipse cx="472.9" cy="584.7" rx="1" ry="1"/><ellipse cx="421.4" cy="583.3" rx="1.5" ry="1.5"/><ellipse cx="410.4" cy="593.7" rx="2" ry="1.5"/><ellipse cx="457.9" cy="568.7" rx="0.5" ry="0.5"/><ellipse cx="502.3" cy="486.3" rx="1.2" ry="1.2"/><path d="M458.38 531.08L462.43 531.53L467.84 534.23L471.89 537.84L473.24 541.44L474.59 545.05L473.24 548.2L469.64 549.55L468.29 552.25L466.49 554.5L464.68 553.15L464.68 550.45L466.94 548.2L470.09 545.95L471.44 542.34L470.09 539.19L466.94 536.04L462.43 533.78L458.83 532.43Z"/><path d="M443.06 538.29L445.32 539.64L444.86 542.34L446.22 545.05L448.02 548.65L450.72 552.25L453.87 554.95L454.77 557.66L451.62 558.56L448.92 555.86L445.32 554.05L442.16 553.15L441.26 550.45L442.61 548.65L440.81 545.05L441.71 542.34L443.06 540.54Z"/></g>
</g>
<rect x="399.6" y="483.7" width="120" height="120" fill="none" stroke="#000" stroke-width="1.1"/>
<path d="M409.6 603.7v-3.6M409.6 483.7v3.6M459.6 603.7v-3.6M459.6 483.7v3.6M509.6 603.7v-3.6M509.6 483.7v3.6M399.6 493.7h3.6M519.6 493.7h-3.6M399.6 543.7h3.6M519.6 543.7h-3.6M399.6 593.7h3.6M519.6 593.7h-3.6" stroke="#000" stroke-width="1.0" fill="none"/>
<path d="M419.6 603.7v-2.1M419.6 483.7v2.1M429.6 603.7v-2.1M429.6 483.7v2.1M439.6 603.7v-2.1M439.6 483.7v2.1M449.6 603.7v-2.1M449.6 483.7v2.1M469.6 603.7v-2.1M469.6 483.7v2.1M479.6 603.7v-2.1M479.6 483.7v2.1M489.6 603.7v-2.1M489.6 483.7v2.1M499.6 603.7v-2.1M499.6 483.7v2.1M399.6 503.7h2.1M519.6 503.7h-2.1M399.6 513.7h2.1M519.6 513.7h-2.1M399.6 523.7h2.1M519.6 523.7h-2.1M399.6 533.7h2.1M519.6 533.7h-2.1M399.6 553.7h2.1M519.6 553.7h-2.1M399.6 563.7h2.1M519.6 563.7h-2.1M399.6 573.7h2.1M519.6 573.7h-2.1M399.6 583.7h2.1M519.6 583.7h-2.1" stroke="#000" stroke-width="0.85" fill="none"/>
<text x="409.6" y="612.9" font-size="9.3" stroke="#000" stroke-width="0.22" text-anchor="middle" textLength="12.62" lengthAdjust="spacingAndGlyphs" >−1</text>
<text x="459.6" y="612.9" font-size="9.3" stroke="#000" stroke-width="0.22" text-anchor="middle" textLength="5.45" lengthAdjust="spacingAndGlyphs" >0</text>
<text x="509.6" y="612.9" font-size="9.3" stroke="#000" stroke-width="0.22" text-anchor="middle" textLength="5.45" lengthAdjust="spacingAndGlyphs" >1</text>
<text x="405.9" y="496.3" font-size="9.3" fill="#fff" stroke="#fff" stroke-width="0.22" font-weight="bold" textLength="41.88" lengthAdjust="spacingAndGlyphs" >Residual</text>
<text x="453.74" y="597.7" font-size="9.5" font-family="Liberation Sans" fill="#eceefa" stroke="#eceefa" stroke-width="0.15" textLength="48.53" lengthAdjust="spacingAndGlyphs">[-5,-3,3,10]</text>
<text x="502.27" y="597.7" font-size="9.5" font-family="Liberation Sans" font-style="italic" fill="#eceefa" stroke="#eceefa" stroke-width="0.15">σ</text>
<rect x="153.8" y="644.8" width="120.0" height="120.0" fill="#3b4cc0"/>
<g clip-path="url(#ci40)">
<rect x="153.8" y="644.8" width="120.0" height="120.0" filter="url(#nz40)"/>
<ellipse cx="0" cy="0" rx="18.65" ry="18.65" fill="url(#g40)" transform="translate(213.8 704.8) rotate(38) scale(0.78 1)"/>
</g>
<ellipse cx="0" cy="0" rx="3.5" ry="3.95" fill="#fff" stroke="#25339a" stroke-width="0.6" transform="translate(163.8 754.8) rotate(5)"/>
<rect x="153.8" y="644.8" width="120" height="120" fill="none" stroke="#000" stroke-width="1.1"/>
<path d="M163.8 764.8v-3.6M163.8 644.8v3.6M213.8 764.8v-3.6M213.8 644.8v3.6M263.8 764.8v-3.6M263.8 644.8v3.6M153.8 654.8h3.6M273.8 654.8h-3.6M153.8 704.8h3.6M273.8 704.8h-3.6M153.8 754.8h3.6M273.8 754.8h-3.6" stroke="#000" stroke-width="1.0" fill="none"/>
<path d="M173.8 764.8v-2.1M173.8 644.8v2.1M183.8 764.8v-2.1M183.8 644.8v2.1M193.8 764.8v-2.1M193.8 644.8v2.1M203.8 764.8v-2.1M203.8 644.8v2.1M223.8 764.8v-2.1M223.8 644.8v2.1M233.8 764.8v-2.1M233.8 644.8v2.1M243.8 764.8v-2.1M243.8 644.8v2.1M253.8 764.8v-2.1M253.8 644.8v2.1M153.8 664.8h2.1M273.8 664.8h-2.1M153.8 674.8h2.1M273.8 674.8h-2.1M153.8 684.8h2.1M273.8 684.8h-2.1M153.8 694.8h2.1M273.8 694.8h-2.1M153.8 714.8h2.1M273.8 714.8h-2.1M153.8 724.8h2.1M273.8 724.8h-2.1M153.8 734.8h2.1M273.8 734.8h-2.1M153.8 744.8h2.1M273.8 744.8h-2.1" stroke="#000" stroke-width="0.85" fill="none"/>
<text x="163.8" y="774" font-size="9.3" stroke="#000" stroke-width="0.22" text-anchor="middle" textLength="12.62" lengthAdjust="spacingAndGlyphs" >−1</text>
<text x="213.8" y="774" font-size="9.3" stroke="#000" stroke-width="0.22" text-anchor="middle" textLength="5.45" lengthAdjust="spacingAndGlyphs" >0</text>
<text x="263.8" y="774" font-size="9.3" stroke="#000" stroke-width="0.22" text-anchor="middle" textLength="5.45" lengthAdjust="spacingAndGlyphs" >1</text>
<text x="160.1" y="657.4" font-size="9.3" fill="#fff" stroke="#fff" stroke-width="0.22" font-weight="bold" textLength="22.6" lengthAdjust="spacingAndGlyphs" >Data</text>
<text x="226.4" y="657.4" font-size="9.3" fill="#fff" stroke="#fff" stroke-width="0.22" font-weight="bold" textLength="31.8" lengthAdjust="spacingAndGlyphs" >GI Tau</text>
<rect x="276.7" y="644.8" width="120.0" height="120.0" fill="#3b4cc0"/>
<g clip-path="url(#ci41)">
<ellipse cx="0" cy="0" rx="18.65" ry="18.65" fill="url(#g41)" transform="translate(336.7 704.8) rotate(38) scale(0.78 1)"/>
</g>
<rect x="276.7" y="644.8" width="120" height="120" fill="none" stroke="#000" stroke-width="1.1"/>
<path d="M286.7 764.8v-3.6M286.7 644.8v3.6M336.7 764.8v-3.6M336.7 644.8v3.6M386.7 764.8v-3.6M386.7 644.8v3.6M276.7 654.8h3.6M396.7 654.8h-3.6M276.7 704.8h3.6M396.7 704.8h-3.6M276.7 754.8h3.6M396.7 754.8h-3.6" stroke="#000" stroke-width="1.0" fill="none"/>
<path d="M296.7 764.8v-2.1M296.7 644.8v2.1M306.7 764.8v-2.1M306.7 644.8v2.1M316.7 764.8v-2.1M316.7 644.8v2.1M326.7 764.8v-2.1M326.7 644.8v2.1M346.7 764.8v-2.1M346.7 644.8v2.1M356.7 764.8v-2.1M356.7 644.8v2.1M366.7 764.8v-2.1M366.7 644.8v2.1M376.7 764.8v-2.1M376.7 644.8v2.1M276.7 664.8h2.1M396.7 664.8h-2.1M276.7 674.8h2.1M396.7 674.8h-2.1M276.7 684.8h2.1M396.7 684.8h-2.1M276.7 694.8h2.1M396.7 694.8h-2.1M276.7 714.8h2.1M396.7 714.8h-2.1M276.7 724.8h2.1M396.7 724.8h-2.1M276.7 734.8h2.1M396.7 734.8h-2.1M276.7 744.8h2.1M396.7 744.8h-2.1" stroke="#000" stroke-width="0.85" fill="none"/>
<text x="286.7" y="774" font-size="9.3" stroke="#000" stroke-width="0.22" text-anchor="middle" textLength="12.62" lengthAdjust="spacingAndGlyphs" >−1</text>
<text x="336.7" y="774" font-size="9.3" stroke="#000" stroke-width="0.22" text-anchor="middle" textLength="5.45" lengthAdjust="spacingAndGlyphs" >0</text>
<text x="386.7" y="774" font-size="9.3" stroke="#000" stroke-width="0.22" text-anchor="middle" textLength="5.45" lengthAdjust="spacingAndGlyphs" >1</text>
<text x="283" y="657.4" font-size="9.3" fill="#fff" stroke="#fff" stroke-width="0.22" font-weight="bold" textLength="30.04" lengthAdjust="spacingAndGlyphs" >Model</text>
<rect x="399.6" y="644.8" width="120.0" height="120.0" fill="#3b4cc0"/>
<g clip-path="url(#ci42)">
<rect x="399.6" y="644.8" width="120.0" height="120.0" filter="url(#nz42)"/>
<g fill="none" stroke="#cfd4f4" stroke-opacity="0.85" stroke-width="0.55" stroke-linejoin="round"><ellipse cx="424.8" cy="687.7" rx="0.8" ry="0.8"/><ellipse cx="509" cy="708.2" rx="1" ry="1"/><ellipse cx="434.4" cy="747.3" rx="0.8" ry="0.8"/><ellipse cx="478.3" cy="647.7" rx="1.2" ry="1.2"/><ellipse cx="464.6" cy="761.5" rx="1.8" ry="1.6"/><ellipse cx="425.8" cy="646.4" rx="0.6" ry="0.6"/></g>
</g>
<rect x="399.6" y="644.8" width="120" height="120" fill="none" stroke="#000" stroke-width="1.1"/>
<path d="M409.6 764.8v-3.6M409.6 644.8v3.6M459.6 764.8v-3.6M459.6 644.8v3.6M509.6 764.8v-3.6M509.6 644.8v3.6M399.6 654.8h3.6M519.6 654.8h-3.6M399.6 704.8h3.6M519.6 704.8h-3.6M399.6 754.8h3.6M519.6 754.8h-3.6" stroke="#000" stroke-width="1.0" fill="none"/>
<path d="M419.6 764.8v-2.1M419.6 644.8v2.1M429.6 764.8v-2.1M429.6 644.8v2.1M439.6 764.8v-2.1M439.6 644.8v2.1M449.6 764.8v-2.1M449.6 644.8v2.1M469.6 764.8v-2.1M469.6 644.8v2.1M479.6 764.8v-2.1M479.6 644.8v2.1M489.6 764.8v-2.1M489.6 644.8v2.1M499.6 764.8v-2.1M499.6 644.8v2.1M399.6 664.8h2.1M519.6 664.8h-2.1M399.6 674.8h2.1M519.6 674.8h-2.1M399.6 684.8h2.1M519.6 684.8h-2.1M399.6 694.8h2.1M519.6 694.8h-2.1M399.6 714.8h2.1M519.6 714.8h-2.1M399.6 724.8h2.1M519.6 724.8h-2.1M399.6 734.8h2.1M519.6 734.8h-2.1M399.6 744.8h2.1M519.6 744.8h-2.1" stroke="#000" stroke-width="0.85" fill="none"/>
<text x="409.6" y="774" font-size="9.3" stroke="#000" stroke-width="0.22" text-anchor="middle" textLength="12.62" lengthAdjust="spacingAndGlyphs" >−1</text>
<text x="459.6" y="774" font-size="9.3" stroke="#000" stroke-width="0.22" text-anchor="middle" textLength="5.45" lengthAdjust="spacingAndGlyphs" >0</text>
<text x="509.6" y="774" font-size="9.3" stroke="#000" stroke-width="0.22" text-anchor="middle" textLength="5.45" lengthAdjust="spacingAndGlyphs" >1</text>
<text x="405.9" y="657.4" font-size="9.3" fill="#fff" stroke="#fff" stroke-width="0.22" font-weight="bold" textLength="41.88" lengthAdjust="spacingAndGlyphs" >Residual</text>
<text x="478.76" y="758.8" font-size="9.5" font-family="Liberation Sans" fill="#eceefa" stroke="#eceefa" stroke-width="0.15" textLength="23.52" lengthAdjust="spacingAndGlyphs">[-3,3]</text>
<text x="502.27" y="758.8" font-size="9.5" font-family="Liberation Sans" font-style="italic" fill="#eceefa" stroke="#eceefa" stroke-width="0.15">σ</text>
<rect x="153.8" y="805.9" width="120.0" height="120.0" fill="#3b4cc0"/>
<g clip-path="url(#ci50)">
<rect x="153.8" y="805.9" width="120.0" height="120.0" filter="url(#nz50)"/>
<ellipse cx="0" cy="0" rx="10.4" ry="10.4" fill="url(#g50)" transform="translate(213.8 865.9) rotate(0) scale(0.95 1)"/>
</g>
<ellipse cx="0" cy="0" rx="3.5" ry="3.8" fill="#fff" stroke="#25339a" stroke-width="0.6" transform="translate(163.8 915.9) rotate(10)"/>
<rect x="153.8" y="805.9" width="120" height="120" fill="none" stroke="#000" stroke-width="1.1"/>
<path d="M163.8 925.9v-3.6M163.8 805.9v3.6M213.8 925.9v-3.6M213.8 805.9v3.6M263.8 925.9v-3.6M263.8 805.9v3.6M153.8 815.9h3.6M273.8 815.9h-3.6M153.8 865.9h3.6M273.8 865.9h-3.6M153.8 915.9h3.6M273.8 915.9h-3.6" stroke="#000" stroke-width="1.0" fill="none"/>
<path d="M173.8 925.9v-2.1M173.8 805.9v2.1M183.8 925.9v-2.1M183.8 805.9v2.1M193.8 925.9v-2.1M193.8 805.9v2.1M203.8 925.9v-2.1M203.8 805.9v2.1M223.8 925.9v-2.1M223.8 805.9v2.1M233.8 925.9v-2.1M233.8 805.9v2.1M243.8 925.9v-2.1M243.8 805.9v2.1M253.8 925.9v-2.1M253.8 805.9v2.1M153.8 825.9h2.1M273.8 825.9h-2.1M153.8 835.9h2.1M273.8 835.9h-2.1M153.8 845.9h2.1M273.8 845.9h-2.1M153.8 855.9h2.1M273.8 855.9h-2.1M153.8 875.9h2.1M273.8 875.9h-2.1M153.8 885.9h2.1M273.8 885.9h-2.1M153.8 895.9h2.1M273.8 895.9h-2.1M153.8 905.9h2.1M273.8 905.9h-2.1" stroke="#000" stroke-width="0.85" fill="none"/>
<text x="163.8" y="935.1" font-size="9.3" stroke="#000" stroke-width="0.22" text-anchor="middle" textLength="12.62" lengthAdjust="spacingAndGlyphs" >−1</text>
<text x="213.8" y="935.1" font-size="9.3" stroke="#000" stroke-width="0.22" text-anchor="middle" textLength="5.45" lengthAdjust="spacingAndGlyphs" >0</text>
<text x="263.8" y="935.1" font-size="9.3" stroke="#000" stroke-width="0.22" text-anchor="middle" textLength="5.45" lengthAdjust="spacingAndGlyphs" >1</text>
<text x="160.1" y="818.5" font-size="9.3" fill="#fff" stroke="#fff" stroke-width="0.22" font-weight="bold" textLength="22.6" lengthAdjust="spacingAndGlyphs" >Data</text>
<text x="226.4" y="818.5" font-size="9.3" fill="#fff" stroke="#fff" stroke-width="0.22" font-weight="bold" textLength="35.26" lengthAdjust="spacingAndGlyphs" >GK Tau</text>
<rect x="276.7" y="805.9" width="120.0" height="120.0" fill="#3b4cc0"/>
<g clip-path="url(#ci51)">
<ellipse cx="0" cy="0" rx="10.4" ry="10.4" fill="url(#g51)" transform="translate(336.7 865.9) rotate(0) scale(0.95 1)"/>
</g>
<rect x="276.7" y="805.9" width="120" height="120" fill="none" stroke="#000" stroke-width="1.1"/>
<path d="M286.7 925.9v-3.6M286.7 805.9v3.6M336.7 925.9v-3.6M336.7 805.9v3.6M386.7 925.9v-3.6M386.7 805.9v3.6M276.7 815.9h3.6M396.7 815.9h-3.6M276.7 865.9h3.6M396.7 865.9h-3.6M276.7 915.9h3.6M396.7 915.9h-3.6" stroke="#000" stroke-width="1.0" fill="none"/>
<path d="M296.7 925.9v-2.1M296.7 805.9v2.1M306.7 925.9v-2.1M306.7 805.9v2.1M316.7 925.9v-2.1M316.7 805.9v2.1M326.7 925.9v-2.1M326.7 805.9v2.1M346.7 925.9v-2.1M346.7 805.9v2.1M356.7 925.9v-2.1M356.7 805.9v2.1M366.7 925.9v-2.1M366.7 805.9v2.1M376.7 925.9v-2.1M376.7 805.9v2.1M276.7 825.9h2.1M396.7 825.9h-2.1M276.7 835.9h2.1M396.7 835.9h-2.1M276.7 845.9h2.1M396.7 845.9h-2.1M276.7 855.9h2.1M396.7 855.9h-2.1M276.7 875.9h2.1M396.7 875.9h-2.1M276.7 885.9h2.1M396.7 885.9h-2.1M276.7 895.9h2.1M396.7 895.9h-2.1M276.7 905.9h2.1M396.7 905.9h-2.1" stroke="#000" stroke-width="0.85" fill="none"/>
<text x="286.7" y="935.1" font-size="9.3" stroke="#000" stroke-width="0.22" text-anchor="middle" textLength="12.62" lengthAdjust="spacingAndGlyphs" >−1</text>
<text x="336.7" y="935.1" font-size="9.3" stroke="#000" stroke-width="0.22" text-anchor="middle" textLength="5.45" lengthAdjust="spacingAndGlyphs" >0</text>
<text x="386.7" y="935.1" font-size="9.3" stroke="#000" stroke-width="0.22" text-anchor="middle" textLength="5.45" lengthAdjust="spacingAndGlyphs" >1</text>
<text x="283" y="818.5" font-size="9.3" fill="#fff" stroke="#fff" stroke-width="0.22" font-weight="bold" textLength="30.04" lengthAdjust="spacingAndGlyphs" >Model</text>
<rect x="399.6" y="805.9" width="120.0" height="120.0" fill="#3b4cc0"/>
<g clip-path="url(#ci52)">
<rect x="399.6" y="805.9" width="120.0" height="120.0" filter="url(#nz52)"/>
<g fill="none" stroke="#cfd4f4" stroke-opacity="0.85" stroke-width="0.55" stroke-linejoin="round"><ellipse cx="432.5" cy="856.2" rx="1.5" ry="1.5"/><ellipse cx="456.5" cy="880.2" rx="1" ry="1"/><ellipse cx="428.3" cy="893.8" rx="1.5" ry="1.5"/><ellipse cx="409.1" cy="901.5" rx="0.8" ry="0.8"/><ellipse cx="497.3" cy="907.3" rx="0.8" ry="0.8"/><ellipse cx="517.1" cy="875" rx="0.8" ry="0.8"/></g>
</g>
<rect x="399.6" y="805.9" width="120" height="120" fill="none" stroke="#000" stroke-width="1.1"/>
<path d="M409.6 925.9v-3.6M409.6 805.9v3.6M459.6 925.9v-3.6M459.6 805.9v3.6M509.6 925.9v-3.6M509.6 805.9v3.6M399.6 815.9h3.6M519.6 815.9h-3.6M399.6 865.9h3.6M519.6 865.9h-3.6M399.6 915.9h3.6M519.6 915.9h-3.6" stroke="#000" stroke-width="1.0" fill="none"/>
<path d="M419.6 925.9v-2.1M419.6 805.9v2.1M429.6 925.9v-2.1M429.6 805.9v2.1M439.6 925.9v-2.1M439.6 805.9v2.1M449.6 925.9v-2.1M449.6 805.9v2.1M469.6 925.9v-2.1M469.6 805.9v2.1M479.6 925.9v-2.1M479.6 805.9v2.1M489.6 925.9v-2.1M489.6 805.9v2.1M499.6 925.9v-2.1M499.6 805.9v2.1M399.6 825.9h2.1M519.6 825.9h-2.1M399.6 835.9h2.1M519.6 835.9h-2.1M399.6 845.9h2.1M519.6 845.9h-2.1M399.6 855.9h2.1M519.6 855.9h-2.1M399.6 875.9h2.1M519.6 875.9h-2.1M399.6 885.9h2.1M519.6 885.9h-2.1M399.6 895.9h2.1M519.6 895.9h-2.1M399.6 905.9h2.1M519.6 905.9h-2.1" stroke="#000" stroke-width="0.85" fill="none"/>
<text x="409.6" y="935.1" font-size="9.3" stroke="#000" stroke-width="0.22" text-anchor="middle" textLength="12.62" lengthAdjust="spacingAndGlyphs" >−1</text>
<text x="459.6" y="935.1" font-size="9.3" stroke="#000" stroke-width="0.22" text-anchor="middle" textLength="5.45" lengthAdjust="spacingAndGlyphs" >0</text>
<text x="509.6" y="935.1" font-size="9.3" stroke="#000" stroke-width="0.22" text-anchor="middle" textLength="5.45" lengthAdjust="spacingAndGlyphs" >1</text>
<text x="405.9" y="818.5" font-size="9.3" fill="#fff" stroke="#fff" stroke-width="0.22" font-weight="bold" textLength="41.88" lengthAdjust="spacingAndGlyphs" >Residual</text>
<text x="478.76" y="919.9" font-size="9.5" font-family="Liberation Sans" fill="#eceefa" stroke="#eceefa" stroke-width="0.15" textLength="23.52" lengthAdjust="spacingAndGlyphs">[-3,3]</text>
<text x="502.27" y="919.9" font-size="9.5" font-family="Liberation Sans" font-style="italic" fill="#eceefa" stroke="#eceefa" stroke-width="0.15">σ</text>
<rect x="522.5" y="0.4" width="120.0" height="120.0" fill="#fff"/>
<g clip-path="url(#cp0)">
<path d="M557.03 114.74L557.46 114.73L557.88 114.71L558.31 114.7L558.74 114.71L559.16 114.76L559.59 114.84L560.02 114.97L560.44 115.12L560.87 115.29L561.3 115.45L561.72 115.58L562.15 115.67L562.57 115.68L563 115.62L563.43 115.49L563.85 115.28L564.28 115.02L564.71 114.74L565.13 114.46L565.56 114.21L565.99 114.03L566.41 113.92L566.84 113.91L567.26 113.99L567.69 114.15L568.12 114.38L568.54 114.65L568.97 114.93L569.4 115.19L569.82 115.4L570.25 115.55L570.68 115.63L571.1 115.63L571.53 115.57L571.95 115.46L572.38 115.31L572.81 115.16L573.23 115.02L573.66 114.91L574.09 114.83L574.51 114.78L574.94 114.77L575.37 114.78L575.79 114.79L576.22 114.79L576.64 114.78L577.07 114.74L577.5 114.67L577.92 114.59L578.35 114.5L578.78 114.42L579.2 114.37L579.63 114.36L580.06 114.41L580.48 114.52L580.91 114.69L581.33 114.9L581.76 115.14L582.19 115.38L582.61 115.59L583.04 115.76L583.47 115.85L583.89 115.85L584.32 115.76L584.74 115.58L585.17 115.34L585.6 115.05L586.02 114.75L586.45 114.47L586.88 114.24L587.3 114.07L587.73 113.99L588.16 114L588.58 114.09L589.01 114.24L589.43 114.44L589.86 114.67L590.29 114.88L590.71 115.07L591.14 115.21L591.57 115.3L591.99 115.34L592.42 115.33L592.85 115.29L593.27 115.23L593.7 115.16L594.12 115.11L594.55 115.08L594.98 115.08L595.4 115.09L595.83 115.12L596.26 115.14L596.68 115.14L597.11 115.12L597.54 115.05L597.96 114.94L598.39 114.8L598.81 114.62L599.24 114.45L599.67 114.28L600.09 114.16L600.52 114.09L600.95 114.1L601.37 114.19L601.8 114.35L602.23 114.58L602.65 114.86L603.08 115.15L603.5 115.42L603.93 115.65L604.36 115.82L604.78 115.89L605.21 115.87L605.64 115.76L606.06 115.58L606.49 115.34L606.92 115.06L607.34 114.8L607.77 114.55" stroke="#c4c4c4" stroke-width="0.8" fill="none" stroke-linejoin="round" stroke-linecap="round" />
<path d="M527.13 113.06L527.5 112.94L527.87 112.84L528.24 112.76L528.61 112.69L528.98 112.65L529.35 112.63L529.72 112.63L530.09 112.66L530.46 112.71L530.83 112.79L531.2 112.88L531.57 113L531.94 113.13L532.31 113.28L532.68 113.43L533.05 113.59L533.42 113.74L533.79 113.89L534.16 114.03L534.53 114.15L534.9 114.26L535.27 114.34L535.64 114.4L536.01 114.43L536.38 114.44L536.75 114.43L537.12 114.39L537.48 114.34L537.85 114.27L538.22 114.19L538.59 114.1L538.96 114.01L539.33 113.93L539.7 113.84L540.07 113.76L540.44 113.7L540.81 113.64L541.18 113.59L541.55 113.55L541.92 113.51L542.29 113.48L542.66 113.46L543.03 113.43L543.4 113.39L543.77 113.35L544.14 113.3L544.51 113.25L544.88 113.18L545.25 113.11L545.62 113.03L545.99 112.95L546.36 112.88L546.73 112.82L547.1 112.77L547.47 112.74L547.84 112.74L548.21 112.76L548.57 112.82L548.94 112.91L549.31 113.03L549.68 113.18L550.05 113.35L550.42 113.55L550.79 113.76L551.16 113.98L551.53 114.19L551.9 114.38L552.27 114.56L552.64 114.7L553.01 114.8L553.38 114.86L553.75 114.87L554.12 114.84L554.49 114.75L554.86 114.63L555.23 114.46L555.6 114.26L555.97 114.03L556.34 113.79L556.71 113.54L557.08 113.29L557.45 113.04L557.82 112.81L558.19 112.6L558.56 112.4L558.93 112.22L559.3 112.04L559.67 111.87L560.03 111.68L560.4 111.47L560.77 111.23L561.14 110.94L561.51 110.58L561.88 110.14L562.25 109.6L562.62 108.95L562.99 108.18L563.36 107.28L563.73 106.24L564.1 105.06L564.47 103.74L564.84 102.3L565.21 100.72L565.58 99.01L565.95 97.17L566.32 95.2L566.69 93.1L567.06 90.87L567.43 88.5L567.8 86L568.17 83.36L568.54 80.59L568.91 77.7L569.28 74.67L569.65 71.54L570.02 68.3L570.39 64.99L570.76 61.61L571.12 58.21L571.49 54.86L571.86 51.53L572.23 48.23L572.6 44.98L572.97 41.8L573.34 38.7L573.71 35.7L574.08 32.82L574.45 30.06L574.82 27.44L575.19 24.97L575.56 22.66L575.93 20.5L576.3 18.52L576.67 16.7L577.04 15.06L577.41 13.58L577.78 12.27L578.15 11.12L578.52 10.13L578.89 9.28L579.26 8.58L579.63 8.01L580 7.55L580.37 7.21L580.74 6.96L581.11 6.79L581.48 6.69L581.85 6.64L582.22 6.63L582.58 6.63L582.95 6.64L583.32 6.69L583.69 6.79L584.06 6.96L584.43 7.21L584.8 7.55L585.17 8.01L585.54 8.58L585.91 9.28L586.28 10.13L586.65 11.12L587.02 12.27L587.39 13.58L587.76 15.06L588.13 16.7L588.5 18.52L588.87 20.5L589.24 22.66L589.61 24.97L589.98 27.44L590.35 30.06L590.72 32.82L591.09 35.7L591.46 38.7L591.83 41.8L592.2 44.98L592.57 48.23L592.94 51.53L593.31 54.86L593.68 58.21L594.04 61.48L594.41 64.71L594.78 67.9L595.15 71.04L595.52 74.13L595.89 77.16L596.26 80.13L596.63 83.02L597 85.83L597.37 88.53L597.74 91.12L598.11 93.59L598.48 95.91L598.85 98.07L599.22 100.07L599.59 101.88L599.96 103.51L600.33 104.95L600.7 106.18L601.07 107.22L601.44 108.11L601.81 108.87L602.18 109.52L602.55 110.08L602.92 110.57L603.29 111.01L603.66 111.4L604.03 111.76L604.4 112.1L604.77 112.42L605.13 112.72L605.5 113L605.87 113.26L606.24 113.48L606.61 113.67L606.98 113.81L607.35 113.91L607.72 113.95L608.09 113.94L608.46 113.88L608.83 113.77L609.2 113.62L609.57 113.43L609.94 113.22L610.31 112.99L610.68 112.78L611.05 112.57L611.42 112.4L611.79 112.27L612.16 112.19L612.53 112.17L612.9 112.2L613.27 112.3L613.64 112.45L614.01 112.66L614.38 112.91L614.75 113.18L615.12 113.48L615.49 113.77L615.86 114.06L616.23 114.32L616.59 114.54L616.96 114.72L617.33 114.84L617.7 114.91L618.07 114.93L618.44 114.88L618.81 114.79L619.18 114.66L619.55 114.5L619.92 114.31L620.29 114.12L620.66 113.93L621.03 113.75L621.4 113.59L621.77 113.46L622.14 113.36L622.51 113.3L622.88 113.27L623.25 113.26L623.62 113.29L623.99 113.33L624.36 113.38L624.73 113.44L625.1 113.48L625.47 113.52L625.84 113.53L626.21 113.52L626.58 113.49L626.95 113.43L627.32 113.35L627.68 113.25L628.05 113.14L628.42 113.03L628.79 112.92L629.16 112.82L629.53 112.75L629.9 112.71L630.27 112.7L630.64 112.73L631.01 112.8L631.38 112.92L631.75 113.07L632.12 113.25L632.49 113.46L632.86 113.69L633.23 113.92L633.6 114.15L633.97 114.36L634.34 114.55L634.71 114.7L635.08 114.82L635.45 114.88L635.82 114.9L636.19 114.88L636.56 114.8L636.93 114.69L637.3 114.54L637.67 114.36" stroke="#000" stroke-width="1.5" fill="none" stroke-linejoin="round" stroke-linecap="round" />
<path d="M527.13 113.6L527.5 113.6L527.87 113.6L528.24 113.6L528.61 113.6L528.98 113.6L529.35 113.6L529.72 113.6L530.09 113.6L530.46 113.6L530.83 113.6L531.2 113.6L531.57 113.6L531.94 113.6L532.31 113.6L532.68 113.6L533.05 113.6L533.42 113.6L533.79 113.6L534.16 113.6L534.53 113.6L534.9 113.6L535.27 113.6L535.64 113.6L536.01 113.6L536.38 113.6L536.75 113.6L537.12 113.6L537.48 113.6L537.85 113.6L538.22 113.6L538.59 113.6L538.96 113.6L539.33 113.6L539.7 113.6L540.07 113.6L540.44 113.6L540.81 113.6L541.18 113.6L541.55 113.6L541.92 113.6L542.29 113.6L542.66 113.6L543.03 113.6L543.4 113.6L543.77 113.6L544.14 113.6L544.51 113.6L544.88 113.6L545.25 113.6L545.62 113.6L545.99 113.6L546.36 113.6L546.73 113.6L547.1 113.6L547.47 113.6L547.84 113.6L548.21 113.6L548.57 113.6L548.94 113.6L549.31 113.6L549.68 113.6L550.05 113.6L550.42 113.6L550.79 113.6L551.16 113.6L551.53 113.6L551.9 113.6L552.27 113.6L552.64 113.59L553.01 113.59L553.38 113.59L553.75 113.59L554.12 113.58L554.49 113.57L554.86 113.56L555.23 113.55L555.6 113.54L555.97 113.52L556.34 113.49L556.71 113.46L557.08 113.41L557.45 113.36L557.82 113.29L558.19 113.2L558.56 113.1L558.93 112.97L559.3 112.81L559.67 112.62L560.03 112.39L560.4 112.11L560.77 111.79L561.14 111.4L561.51 110.95L561.88 110.43L562.25 109.82L562.62 109.13L562.99 108.33L563.36 107.43L563.73 106.42L564.1 105.28L564.47 104.01L564.84 102.61L565.21 101.06L565.58 99.37L565.95 97.53L566.32 95.53L566.69 93.39L567.06 91.1L567.43 88.66L567.8 86.08L568.17 83.36L568.54 80.52L568.91 77.57L569.28 74.51L569.65 71.37L570.02 68.15L570.39 64.87L570.76 61.55L571.12 58.21L571.49 54.86L571.86 51.53L572.23 48.23L572.6 44.98L572.97 41.8L573.34 38.7L573.71 35.7L574.08 32.82L574.45 30.06L574.82 27.44L575.19 24.97L575.56 22.66L575.93 20.5L576.3 18.52L576.67 16.7L577.04 15.06L577.41 13.58L577.78 12.27L578.15 11.12L578.52 10.13L578.89 9.28L579.26 8.58L579.63 8.01L580 7.55L580.37 7.21L580.74 6.96L581.11 6.79L581.48 6.69L581.85 6.64L582.22 6.63L582.58 6.63L582.95 6.64L583.32 6.69L583.69 6.79L584.06 6.96L584.43 7.21L584.8 7.55L585.17 8.01L585.54 8.58L585.91 9.28L586.28 10.13L586.65 11.12L587.02 12.27L587.39 13.58L587.76 15.06L588.13 16.7L588.5 18.52L588.87 20.5L589.24 22.66L589.61 24.97L589.98 27.44L590.35 30.06L590.72 32.82L591.09 35.7L591.46 38.7L591.83 41.8L592.2 44.98L592.57 48.23L592.94 51.53L593.31 54.86L593.68 58.21L594.04 61.55L594.41 64.87L594.78 68.15L595.15 71.37L595.52 74.51L595.89 77.57L596.26 80.52L596.63 83.36L597 86.08L597.37 88.66L597.74 91.1L598.11 93.39L598.48 95.53L598.85 97.53L599.22 99.37L599.59 101.06L599.96 102.61L600.33 104.01L600.7 105.28L601.07 106.42L601.44 107.43L601.81 108.33L602.18 109.13L602.55 109.82L602.92 110.43L603.29 110.95L603.66 111.4L604.03 111.79L604.4 112.11L604.77 112.39L605.13 112.62L605.5 112.81L605.87 112.97L606.24 113.1L606.61 113.2L606.98 113.29L607.35 113.36L607.72 113.41L608.09 113.46L608.46 113.49L608.83 113.52L609.2 113.54L609.57 113.55L609.94 113.56L610.31 113.57L610.68 113.58L611.05 113.59L611.42 113.59L611.79 113.59L612.16 113.59L612.53 113.6L612.9 113.6L613.27 113.6L613.64 113.6L614.01 113.6L614.38 113.6L614.75 113.6L615.12 113.6L615.49 113.6L615.86 113.6L616.23 113.6L616.59 113.6L616.96 113.6L617.33 113.6L617.7 113.6L618.07 113.6L618.44 113.6L618.81 113.6L619.18 113.6L619.55 113.6L619.92 113.6L620.29 113.6L620.66 113.6L621.03 113.6L621.4 113.6L621.77 113.6L622.14 113.6L622.51 113.6L622.88 113.6L623.25 113.6L623.62 113.6L623.99 113.6L624.36 113.6L624.73 113.6L625.1 113.6L625.47 113.6L625.84 113.6L626.21 113.6L626.58 113.6L626.95 113.6L627.32 113.6L627.68 113.6L628.05 113.6L628.42 113.6L628.79 113.6L629.16 113.6L629.53 113.6L629.9 113.6L630.27 113.6L630.64 113.6L631.01 113.6L631.38 113.6L631.75 113.6L632.12 113.6L632.49 113.6L632.86 113.6L633.23 113.6L633.6 113.6L633.97 113.6L634.34 113.6L634.71 113.6L635.08 113.6L635.45 113.6L635.82 113.6L636.19 113.6L636.56 113.6L636.93 113.6L637.3 113.6L637.67 113.6" stroke="#0000ff" stroke-width="1.45" fill="none" stroke-linejoin="round" stroke-linecap="round" />
</g>
<rect x="522.5" y="0.4" width="120" height="120" fill="none" stroke="#000" stroke-width="1.1"/>
<path d="M537.1 120.4v-3.6M537.1 0.4v3.6M582.4 120.4v-3.6M582.4 0.4v3.6M627.7 120.4v-3.6M627.7 0.4v3.6M522.5 113.6h3.6M642.5 113.6h-3.6M522.5 93.9h3.6M642.5 93.9h-3.6M522.5 74.2h3.6M642.5 74.2h-3.6M522.5 54.5h3.6M642.5 54.5h-3.6M522.5 34.8h3.6M642.5 34.8h-3.6M522.5 15.1h3.6M642.5 15.1h-3.6" stroke="#000" stroke-width="1.0" fill="none"/>
<path d="M528.04 120.4v-2.1M528.04 0.4v2.1M546.16 120.4v-2.1M546.16 0.4v2.1M555.22 120.4v-2.1M555.22 0.4v2.1M564.28 120.4v-2.1M564.28 0.4v2.1M573.34 120.4v-2.1M573.34 0.4v2.1M591.46 120.4v-2.1M591.46 0.4v2.1M600.52 120.4v-2.1M600.52 0.4v2.1M609.58 120.4v-2.1M609.58 0.4v2.1M618.64 120.4v-2.1M618.64 0.4v2.1M636.76 120.4v-2.1M636.76 0.4v2.1M522.5 117.54h2.1M642.5 117.54h-2.1M522.5 109.66h2.1M642.5 109.66h-2.1M522.5 105.72h2.1M642.5 105.72h-2.1M522.5 101.78h2.1M642.5 101.78h-2.1M522.5 97.84h2.1M642.5 97.84h-2.1M522.5 89.96h2.1M642.5 89.96h-2.1M522.5 86.02h2.1M642.5 86.02h-2.1M522.5 82.08h2.1M642.5 82.08h-2.1M522.5 78.14h2.1M642.5 78.14h-2.1M522.5 70.26h2.1M642.5 70.26h-2.1M522.5 66.32h2.1M642.5 66.32h-2.1M522.5 62.38h2.1M642.5 62.38h-2.1M522.5 58.44h2.1M642.5 58.44h-2.1M522.5 50.56h2.1M642.5 50.56h-2.1M522.5 46.62h2.1M642.5 46.62h-2.1M522.5 42.68h2.1M642.5 42.68h-2.1M522.5 38.74h2.1M642.5 38.74h-2.1M522.5 30.86h2.1M642.5 30.86h-2.1M522.5 26.92h2.1M642.5 26.92h-2.1M522.5 22.98h2.1M642.5 22.98h-2.1M522.5 19.04h2.1M642.5 19.04h-2.1M522.5 11.16h2.1M642.5 11.16h-2.1M522.5 7.22h2.1M642.5 7.22h-2.1M522.5 3.28h2.1M642.5 3.28h-2.1" stroke="#000" stroke-width="0.85" fill="none"/>
<text x="537.1" y="129.6" font-size="9.3" stroke="#000" stroke-width="0.22" text-anchor="middle" textLength="12.62" lengthAdjust="spacingAndGlyphs" >−1</text>
<text x="582.4" y="129.6" font-size="9.3" stroke="#000" stroke-width="0.22" text-anchor="middle" textLength="5.45" lengthAdjust="spacingAndGlyphs" >0</text>
<text x="627.7" y="129.6" font-size="9.3" stroke="#000" stroke-width="0.22" text-anchor="middle" textLength="5.45" lengthAdjust="spacingAndGlyphs" >1</text>
<text x="645.3" y="116.7" font-size="9.3" stroke="#000" stroke-width="0.22" textLength="5.45" lengthAdjust="spacingAndGlyphs" >0</text>
<text x="645.3" y="97" font-size="9.3" stroke="#000" stroke-width="0.22" textLength="5.45" lengthAdjust="spacingAndGlyphs" >1</text>
<text x="645.3" y="77.3" font-size="9.3" stroke="#000" stroke-width="0.22" textLength="5.45" lengthAdjust="spacingAndGlyphs" >2</text>
<text x="645.3" y="57.6" font-size="9.3" stroke="#000" stroke-width="0.22" textLength="5.45" lengthAdjust="spacingAndGlyphs" >3</text>
<text x="645.3" y="37.9" font-size="9.3" stroke="#000" stroke-width="0.22" textLength="5.45" lengthAdjust="spacingAndGlyphs" >4</text>
<text x="645.3" y="18.2" font-size="9.3" stroke="#000" stroke-width="0.22" textLength="5.45" lengthAdjust="spacingAndGlyphs" >5</text>
<text x="582.4" y="140" font-size="9.3" stroke="#000" stroke-width="0.22" text-anchor="middle" textLength="41.65" lengthAdjust="spacingAndGlyphs" >radius [&quot;]</text>
<text x="0" y="0" font-size="9.3" stroke="#000" stroke-width="0.22" text-anchor="middle" textLength="90.74" lengthAdjust="spacingAndGlyphs" transform="translate(659 60.9) rotate(-90)">Intensity [mJy/beam]</text>
<text x="528.6" y="15.7" font-size="9.3" fill="#404040" stroke="#404040" stroke-width="0.22" textLength="21.61" lengthAdjust="spacingAndGlyphs" >Data</text>
<text x="528.6" y="27.3" font-size="9.3" fill="#0000ff" stroke="#0000ff" stroke-width="0.22" textLength="28.4" lengthAdjust="spacingAndGlyphs" style="stroke-width:0.24px">Model</text>
<text x="528.6" y="39.5" font-size="9.3" fill="#a0a0a0" stroke="#a0a0a0" stroke-width="0.22" textLength="39.49" lengthAdjust="spacingAndGlyphs" >Residual</text>
<rect x="522.5" y="161.5" width="120.0" height="120.0" fill="#fff"/>
<g clip-path="url(#cp1)">
<path d="M557.03 276.01L557.46 276.07L557.88 276.12L558.31 276.17L558.74 276.2L559.16 276.21L559.59 276.21L560.02 276.2L560.44 276.19L560.87 276.17L561.3 276.16L561.72 276.16L562.15 276.16L562.57 276.17L563 276.18L563.43 276.19L563.85 276.19L564.28 276.19L564.71 276.17L565.13 276.14L565.56 276.09L565.99 276.04L566.41 275.98L566.84 275.92L567.26 275.88L567.69 275.85L568.12 275.84L568.54 275.86L568.97 275.91L569.4 275.97L569.82 276.05L570.25 276.13L570.68 276.22L571.1 276.29L571.53 276.34L571.95 276.37L572.38 276.36L572.81 276.33L573.23 276.26L573.66 276.18L574.09 276.08L574.51 275.98L574.94 275.88L575.37 275.78L575.79 275.7L576.22 275.63L576.64 275.58L577.07 275.54L577.5 275.51L577.92 275.48L578.35 275.45L578.78 275.41L579.2 275.37L579.63 275.33L580.06 275.27L580.48 275.22L580.91 275.17L581.33 275.14L581.76 275.12L582.19 275.12L582.61 275.14L583.04 275.18L583.47 275.24L583.89 275.31L584.32 275.39L584.74 275.46L585.17 275.52L585.6 275.57L586.02 275.6L586.45 275.61L586.88 275.6L587.3 275.59L587.73 275.57L588.16 275.56L588.58 275.56L589.01 275.58L589.43 275.62L589.86 275.68L590.29 275.77L590.71 275.86L591.14 275.97L591.57 276.08L591.99 276.17L592.42 276.25L592.85 276.31L593.27 276.34L593.7 276.34L594.12 276.32L594.55 276.28L594.98 276.23L595.4 276.17L595.83 276.11L596.26 276.07L596.68 276.03L597.11 276.01L597.54 276L597.96 276L598.39 276.01L598.81 276.03L599.24 276.04L599.67 276.04L600.09 276.04L600.52 276.03L600.95 276.02L601.37 276L601.8 275.99L602.23 275.99L602.65 276L603.08 276.03L603.5 276.07L603.93 276.12L604.36 276.18L604.78 276.24L605.21 276.3L605.64 276.34L606.06 276.36L606.49 276.36L606.92 276.33L607.34 276.28L607.77 276.21" stroke="#c4c4c4" stroke-width="0.8" fill="none" stroke-linejoin="round" stroke-linecap="round" />
<path d="M527.13 275.73L527.5 275.71L527.87 275.67L528.24 275.63L528.61 275.57L528.98 275.53L529.35 275.49L529.72 275.47L530.09 275.47L530.46 275.5L530.83 275.56L531.2 275.65L531.57 275.75L531.94 275.86L532.31 275.97L532.68 276.07L533.05 276.15L533.42 276.2L533.79 276.22L534.16 276.21L534.53 276.17L534.9 276.12L535.27 276.05L535.64 275.98L536.01 275.92L536.38 275.87L536.75 275.84L537.12 275.84L537.48 275.85L537.85 275.88L538.22 275.92L538.59 275.96L538.96 275.99L539.33 276.02L539.7 276.03L540.07 276.02L540.44 276L540.81 275.96L541.18 275.92L541.55 275.86L541.92 275.81L542.29 275.76L542.66 275.71L543.03 275.67L543.4 275.64L543.77 275.61L544.14 275.59L544.51 275.57L544.88 275.54L545.25 275.52L545.62 275.5L545.99 275.47L546.36 275.46L546.73 275.45L547.1 275.46L547.47 275.48L547.84 275.52L548.21 275.57L548.57 275.64L548.94 275.71L549.31 275.77L549.68 275.83L550.05 275.88L550.42 275.91L550.79 275.91L551.16 275.9L551.53 275.87L551.9 275.82L552.27 275.78L552.64 275.74L553.01 275.71L553.38 275.7L553.75 275.72L554.12 275.76L554.49 275.83L554.86 275.91L555.23 276.01L555.6 276.1L555.97 276.18L556.34 276.24L556.71 276.28L557.08 276.28L557.45 276.25L557.82 276.19L558.19 276.11L558.56 276.01L558.93 275.9L559.3 275.79L559.67 275.7L560.03 275.61L560.4 275.54L560.77 275.48L561.14 275.43L561.51 275.38L561.88 275.32L562.25 275.24L562.62 275.13L562.99 274.99L563.36 274.8L563.73 274.56L564.1 274.27L564.47 273.92L564.84 273.52L565.21 273.06L565.58 272.53L565.95 271.92L566.32 271.22L566.69 270.43L567.06 269.53L567.43 268.5L567.8 267.34L568.17 266.03L568.54 264.56L568.91 262.94L569.28 261.14L569.65 259.17L570.02 257.01L570.39 254.68L570.76 252.15L571.12 249.44L571.49 246.53L571.86 243.46L572.23 240.21L572.6 236.82L572.97 233.29L573.34 229.64L573.71 225.88L574.08 222.05L574.45 218.16L574.82 214.25L575.19 210.33L575.56 206.45L575.93 202.61L576.3 198.87L576.67 195.23L577.04 191.74L577.41 188.42L577.78 185.28L578.15 182.36L578.52 179.68L578.89 177.24L579.26 175.06L579.63 173.16L580 171.53L580.37 170.17L580.74 169.09L581.11 168.28L581.48 167.71L581.85 167.37L582.22 167.24L582.58 167.24L582.95 167.37L583.32 167.71L583.69 168.28L584.06 169.09L584.43 170.17L584.8 171.53L585.17 173.16L585.54 175.06L585.91 177.24L586.28 179.68L586.65 182.36L587.02 185.28L587.39 188.42L587.76 191.74L588.13 195.23L588.5 198.87L588.87 202.61L589.24 206.45L589.61 210.33L589.98 214.25L590.35 218.16L590.72 222.05L591.09 225.88L591.46 229.64L591.83 233.29L592.2 236.82L592.57 240.21L592.94 243.46L593.31 246.53L593.68 249.44L594.04 252.16L594.41 254.71L594.78 257.07L595.15 259.26L595.52 261.28L595.89 263.13L596.26 264.81L596.63 266.32L597 267.68L597.37 268.87L597.74 269.92L598.11 270.82L598.48 271.58L598.85 272.22L599.22 272.75L599.59 273.2L599.96 273.58L600.33 273.9L600.7 274.19L601.07 274.46L601.44 274.71L601.81 274.94L602.18 275.15L602.55 275.33L602.92 275.47L603.29 275.58L603.66 275.65L604.03 275.68L604.4 275.68L604.77 275.65L605.13 275.6L605.5 275.54L605.87 275.47L606.24 275.42L606.61 275.38L606.98 275.37L607.35 275.37L607.72 275.39L608.09 275.43L608.46 275.48L608.83 275.54L609.2 275.6L609.57 275.65L609.94 275.7L610.31 275.74L610.68 275.77L611.05 275.8L611.42 275.82L611.79 275.84L612.16 275.86L612.53 275.89L612.9 275.92L613.27 275.95L613.64 275.97L614.01 275.99L614.38 276.01L614.75 276.01L615.12 276L615.49 275.98L615.86 275.96L616.23 275.93L616.59 275.91L616.96 275.9L617.33 275.9L617.7 275.91L618.07 275.94L618.44 275.98L618.81 276.03L619.18 276.08L619.55 276.12L619.92 276.14L620.29 276.15L620.66 276.13L621.03 276.08L621.4 276L621.77 275.91L622.14 275.8L622.51 275.69L622.88 275.59L623.25 275.5L623.62 275.44L623.99 275.41L624.36 275.41L624.73 275.43L625.1 275.48L625.47 275.54L625.84 275.61L626.21 275.68L626.58 275.73L626.95 275.76L627.32 275.77L627.68 275.76L628.05 275.73L628.42 275.69L628.79 275.64L629.16 275.59L629.53 275.55L629.9 275.53L630.27 275.52L630.64 275.54L631.01 275.57L631.38 275.62L631.75 275.68L632.12 275.74L632.49 275.8L632.86 275.86L633.23 275.91L633.6 275.95L633.97 275.98L634.34 276.01L634.71 276.03L635.08 276.05L635.45 276.06L635.82 276.08L636.19 276.1L636.56 276.11L636.93 276.12L637.3 276.12L637.67 276.11" stroke="#000" stroke-width="1.5" fill="none" stroke-linejoin="round" stroke-linecap="round" />
<path d="M527.13 275.8L527.5 275.8L527.87 275.8L528.24 275.8L528.61 275.8L528.98 275.8L529.35 275.8L529.72 275.8L530.09 275.8L530.46 275.8L530.83 275.8L531.2 275.8L531.57 275.8L531.94 275.8L532.31 275.8L532.68 275.8L533.05 275.8L533.42 275.8L533.79 275.8L534.16 275.8L534.53 275.8L534.9 275.8L535.27 275.8L535.64 275.8L536.01 275.8L536.38 275.8L536.75 275.8L537.12 275.8L537.48 275.8L537.85 275.8L538.22 275.8L538.59 275.8L538.96 275.8L539.33 275.8L539.7 275.8L540.07 275.8L540.44 275.8L540.81 275.8L541.18 275.8L541.55 275.8L541.92 275.8L542.29 275.8L542.66 275.8L543.03 275.8L543.4 275.8L543.77 275.8L544.14 275.8L544.51 275.8L544.88 275.8L545.25 275.8L545.62 275.8L545.99 275.8L546.36 275.8L546.73 275.8L547.1 275.8L547.47 275.8L547.84 275.8L548.21 275.8L548.57 275.8L548.94 275.8L549.31 275.8L549.68 275.8L550.05 275.8L550.42 275.8L550.79 275.8L551.16 275.8L551.53 275.8L551.9 275.8L552.27 275.8L552.64 275.8L553.01 275.8L553.38 275.8L553.75 275.8L554.12 275.8L554.49 275.8L554.86 275.8L555.23 275.8L555.6 275.8L555.97 275.8L556.34 275.79L556.71 275.79L557.08 275.79L557.45 275.78L557.82 275.78L558.19 275.77L558.56 275.76L558.93 275.75L559.3 275.73L559.67 275.71L560.03 275.68L560.4 275.65L560.77 275.61L561.14 275.55L561.51 275.49L561.88 275.4L562.25 275.3L562.62 275.17L562.99 275.02L563.36 274.83L563.73 274.61L564.1 274.34L564.47 274.02L564.84 273.65L565.21 273.2L565.58 272.69L565.95 272.08L566.32 271.39L566.69 270.59L567.06 269.67L567.43 268.63L567.8 267.45L568.17 266.13L568.54 264.66L568.91 263.02L569.28 261.21L569.65 259.22L570.02 257.05L570.39 254.7L570.76 252.16L571.12 249.44L571.49 246.53L571.86 243.46L572.23 240.21L572.6 236.82L572.97 233.29L573.34 229.64L573.71 225.88L574.08 222.05L574.45 218.16L574.82 214.25L575.19 210.33L575.56 206.45L575.93 202.61L576.3 198.87L576.67 195.23L577.04 191.74L577.41 188.42L577.78 185.28L578.15 182.36L578.52 179.68L578.89 177.24L579.26 175.06L579.63 173.16L580 171.53L580.37 170.17L580.74 169.09L581.11 168.28L581.48 167.71L581.85 167.37L582.22 167.24L582.58 167.24L582.95 167.37L583.32 167.71L583.69 168.28L584.06 169.09L584.43 170.17L584.8 171.53L585.17 173.16L585.54 175.06L585.91 177.24L586.28 179.68L586.65 182.36L587.02 185.28L587.39 188.42L587.76 191.74L588.13 195.23L588.5 198.87L588.87 202.61L589.24 206.45L589.61 210.33L589.98 214.25L590.35 218.16L590.72 222.05L591.09 225.88L591.46 229.64L591.83 233.29L592.2 236.82L592.57 240.21L592.94 243.46L593.31 246.53L593.68 249.44L594.04 252.16L594.41 254.7L594.78 257.05L595.15 259.22L595.52 261.21L595.89 263.02L596.26 264.66L596.63 266.13L597 267.45L597.37 268.63L597.74 269.67L598.11 270.59L598.48 271.39L598.85 272.08L599.22 272.69L599.59 273.2L599.96 273.65L600.33 274.02L600.7 274.34L601.07 274.61L601.44 274.83L601.81 275.02L602.18 275.17L602.55 275.3L602.92 275.4L603.29 275.49L603.66 275.55L604.03 275.61L604.4 275.65L604.77 275.68L605.13 275.71L605.5 275.73L605.87 275.75L606.24 275.76L606.61 275.77L606.98 275.78L607.35 275.78L607.72 275.79L608.09 275.79L608.46 275.79L608.83 275.8L609.2 275.8L609.57 275.8L609.94 275.8L610.31 275.8L610.68 275.8L611.05 275.8L611.42 275.8L611.79 275.8L612.16 275.8L612.53 275.8L612.9 275.8L613.27 275.8L613.64 275.8L614.01 275.8L614.38 275.8L614.75 275.8L615.12 275.8L615.49 275.8L615.86 275.8L616.23 275.8L616.59 275.8L616.96 275.8L617.33 275.8L617.7 275.8L618.07 275.8L618.44 275.8L618.81 275.8L619.18 275.8L619.55 275.8L619.92 275.8L620.29 275.8L620.66 275.8L621.03 275.8L621.4 275.8L621.77 275.8L622.14 275.8L622.51 275.8L622.88 275.8L623.25 275.8L623.62 275.8L623.99 275.8L624.36 275.8L624.73 275.8L625.1 275.8L625.47 275.8L625.84 275.8L626.21 275.8L626.58 275.8L626.95 275.8L627.32 275.8L627.68 275.8L628.05 275.8L628.42 275.8L628.79 275.8L629.16 275.8L629.53 275.8L629.9 275.8L630.27 275.8L630.64 275.8L631.01 275.8L631.38 275.8L631.75 275.8L632.12 275.8L632.49 275.8L632.86 275.8L633.23 275.8L633.6 275.8L633.97 275.8L634.34 275.8L634.71 275.8L635.08 275.8L635.45 275.8L635.82 275.8L636.19 275.8L636.56 275.8L636.93 275.8L637.3 275.8L637.67 275.8" stroke="#0000ff" stroke-width="1.45" fill="none" stroke-linejoin="round" stroke-linecap="round" />
</g>
<rect x="522.5" y="161.5" width="120" height="120" fill="none" stroke="#000" stroke-width="1.1"/>
<path d="M537.1 281.5v-3.6M537.1 161.5v3.6M582.4 281.5v-3.6M582.4 161.5v3.6M627.7 281.5v-3.6M627.7 161.5v3.6M522.5 275.8h3.6M642.5 275.8h-3.6M522.5 252.6h3.6M642.5 252.6h-3.6M522.5 229.4h3.6M642.5 229.4h-3.6M522.5 206.2h3.6M642.5 206.2h-3.6M522.5 183h3.6M642.5 183h-3.6" stroke="#000" stroke-width="1.0" fill="none"/>
<path d="M528.04 281.5v-2.1M528.04 161.5v2.1M546.16 281.5v-2.1M546.16 161.5v2.1M555.22 281.5v-2.1M555.22 161.5v2.1M564.28 281.5v-2.1M564.28 161.5v2.1M573.34 281.5v-2.1M573.34 161.5v2.1M591.46 281.5v-2.1M591.46 161.5v2.1M600.52 281.5v-2.1M600.52 161.5v2.1M609.58 281.5v-2.1M609.58 161.5v2.1M618.64 281.5v-2.1M618.64 161.5v2.1M636.76 281.5v-2.1M636.76 161.5v2.1M522.5 280.44h2.1M642.5 280.44h-2.1M522.5 271.16h2.1M642.5 271.16h-2.1M522.5 266.52h2.1M642.5 266.52h-2.1M522.5 261.88h2.1M642.5 261.88h-2.1M522.5 257.24h2.1M642.5 257.24h-2.1M522.5 247.96h2.1M642.5 247.96h-2.1M522.5 243.32h2.1M642.5 243.32h-2.1M522.5 238.68h2.1M642.5 238.68h-2.1M522.5 234.04h2.1M642.5 234.04h-2.1M522.5 224.76h2.1M642.5 224.76h-2.1M522.5 220.12h2.1M642.5 220.12h-2.1M522.5 215.48h2.1M642.5 215.48h-2.1M522.5 210.84h2.1M642.5 210.84h-2.1M522.5 201.56h2.1M642.5 201.56h-2.1M522.5 196.92h2.1M642.5 196.92h-2.1M522.5 192.28h2.1M642.5 192.28h-2.1M522.5 187.64h2.1M642.5 187.64h-2.1M522.5 178.36h2.1M642.5 178.36h-2.1M522.5 173.72h2.1M642.5 173.72h-2.1M522.5 169.08h2.1M642.5 169.08h-2.1M522.5 164.44h2.1M642.5 164.44h-2.1" stroke="#000" stroke-width="0.85" fill="none"/>
<text x="537.1" y="290.7" font-size="9.3" stroke="#000" stroke-width="0.22" text-anchor="middle" textLength="12.62" lengthAdjust="spacingAndGlyphs" >−1</text>
<text x="582.4" y="290.7" font-size="9.3" stroke="#000" stroke-width="0.22" text-anchor="middle" textLength="5.45" lengthAdjust="spacingAndGlyphs" >0</text>
<text x="627.7" y="290.7" font-size="9.3" stroke="#000" stroke-width="0.22" text-anchor="middle" textLength="5.45" lengthAdjust="spacingAndGlyphs" >1</text>
<text x="645.3" y="278.9" font-size="9.3" stroke="#000" stroke-width="0.22" textLength="5.45" lengthAdjust="spacingAndGlyphs" >0</text>
<text x="645.3" y="255.7" font-size="9.3" stroke="#000" stroke-width="0.22" textLength="5.45" lengthAdjust="spacingAndGlyphs" >5</text>
<text x="645.3" y="232.5" font-size="9.3" stroke="#000" stroke-width="0.22" textLength="10.89" lengthAdjust="spacingAndGlyphs" >10</text>
<text x="645.3" y="209.3" font-size="9.3" stroke="#000" stroke-width="0.22" textLength="10.89" lengthAdjust="spacingAndGlyphs" >15</text>
<text x="645.3" y="186.1" font-size="9.3" stroke="#000" stroke-width="0.22" textLength="10.89" lengthAdjust="spacingAndGlyphs" >20</text>
<text x="582.4" y="301.1" font-size="9.3" stroke="#000" stroke-width="0.22" text-anchor="middle" textLength="41.65" lengthAdjust="spacingAndGlyphs" >radius [&quot;]</text>
<text x="0" y="0" font-size="9.3" stroke="#000" stroke-width="0.22" text-anchor="middle" textLength="90.74" lengthAdjust="spacingAndGlyphs" transform="translate(664.7 222) rotate(-90)">Intensity [mJy/beam]</text>
<text x="528.6" y="176.8" font-size="9.3" fill="#404040" stroke="#404040" stroke-width="0.22" textLength="21.61" lengthAdjust="spacingAndGlyphs" >Data</text>
<text x="528.6" y="188.4" font-size="9.3" fill="#0000ff" stroke="#0000ff" stroke-width="0.22" textLength="28.4" lengthAdjust="spacingAndGlyphs" style="stroke-width:0.24px">Model</text>
<text x="528.6" y="200.6" font-size="9.3" fill="#a0a0a0" stroke="#a0a0a0" stroke-width="0.22" textLength="39.49" lengthAdjust="spacingAndGlyphs" >Residual</text>
<rect x="522.5" y="322.6" width="120.0" height="120.0" fill="#fff"/>
<g clip-path="url(#cp2)">
<path d="M557.03 436.98L557.46 436.88L557.88 436.79L558.31 436.73L558.74 436.7L559.16 436.7L559.59 436.73L560.02 436.77L560.44 436.83L560.87 436.9L561.3 436.96L561.72 437L562.15 437.04L562.57 437.06L563 437.06L563.43 437.06L563.85 437.06L564.28 437.05L564.71 437.06L565.13 437.07L565.56 437.09L565.99 437.12L566.41 437.15L566.84 437.18L567.26 437.2L567.69 437.2L568.12 437.18L568.54 437.14L568.97 437.07L569.4 436.99L569.82 436.89L570.25 436.79L570.68 436.71L571.1 436.64L571.53 436.6L571.95 436.59L572.38 436.61L572.81 436.66L573.23 436.74L573.66 436.83L574.09 436.91L574.51 436.98L574.94 437.03L575.37 437.04L575.79 437L576.22 436.93L576.64 436.81L577.07 436.65L577.5 436.47L577.92 436.28L578.35 436.08L578.78 435.9L579.2 435.73L579.63 435.59L580.06 435.48L580.48 435.41L580.91 435.35L581.33 435.32L581.76 435.31L582.19 435.32L582.61 435.33L583.04 435.36L583.47 435.39L583.89 435.44L584.32 435.5L584.74 435.59L585.17 435.69L585.6 435.82L586.02 435.97L586.45 436.13L586.88 436.3L587.3 436.47L587.73 436.63L588.16 436.77L588.58 436.88L589.01 436.95L589.43 436.98L589.86 436.97L590.29 436.92L590.71 436.85L591.14 436.77L591.57 436.69L591.99 436.62L592.42 436.58L592.85 436.56L593.27 436.58L593.7 436.64L594.12 436.72L594.55 436.82L594.98 436.93L595.4 437.05L595.83 437.14L596.26 437.22L596.68 437.27L597.11 437.29L597.54 437.28L597.96 437.25L598.39 437.2L598.81 437.14L599.24 437.08L599.67 437.03L600.09 436.99L600.52 436.97L600.95 436.96L601.37 436.95L601.8 436.96L602.23 436.96L602.65 436.96L603.08 436.95L603.5 436.93L603.93 436.9L604.36 436.86L604.78 436.82L605.21 436.79L605.64 436.78L606.06 436.78L606.49 436.81L606.92 436.87L607.34 436.94L607.77 437.03" stroke="#c4c4c4" stroke-width="0.8" fill="none" stroke-linejoin="round" stroke-linecap="round" />
<path d="M527.13 436.98L527.5 437.03L527.87 437.09L528.24 437.14L528.61 437.19L528.98 437.22L529.35 437.23L529.72 437.21L530.09 437.18L530.46 437.12L530.83 437.04L531.2 436.96L531.57 436.86L531.94 436.77L532.31 436.69L532.68 436.62L533.05 436.57L533.42 436.55L533.79 436.55L534.16 436.57L534.53 436.61L534.9 436.65L535.27 436.7L535.64 436.74L536.01 436.77L536.38 436.78L536.75 436.77L537.12 436.75L537.48 436.7L537.85 436.64L538.22 436.58L538.59 436.53L538.96 436.49L539.33 436.47L539.7 436.47L540.07 436.51L540.44 436.58L540.81 436.67L541.18 436.79L541.55 436.91L541.92 437.04L542.29 437.16L542.66 437.27L543.03 437.35L543.4 437.4L543.77 437.41L544.14 437.39L544.51 437.33L544.88 437.25L545.25 437.15L545.62 437.03L545.99 436.91L546.36 436.8L546.73 436.69L547.1 436.59L547.47 436.52L547.84 436.45L548.21 436.41L548.57 436.37L548.94 436.35L549.31 436.34L549.68 436.33L550.05 436.33L550.42 436.34L550.79 436.35L551.16 436.38L551.53 436.42L551.9 436.47L552.27 436.55L552.64 436.65L553.01 436.76L553.38 436.89L553.75 437.02L554.12 437.15L554.49 437.28L554.86 437.38L555.23 437.46L555.6 437.5L555.97 437.5L556.34 437.46L556.71 437.37L557.08 437.25L557.45 437.1L557.82 436.93L558.19 436.76L558.56 436.59L558.93 436.44L559.3 436.31L559.67 436.21L560.03 436.15L560.4 436.13L560.77 436.14L561.14 436.18L561.51 436.24L561.88 436.31L562.25 436.38L562.62 436.44L562.99 436.49L563.36 436.53L563.73 436.54L564.1 436.54L564.47 436.51L564.84 436.48L565.21 436.44L565.58 436.39L565.95 436.34L566.32 436.29L566.69 436.23L567.06 436.16L567.43 436.07L567.8 435.96L568.17 435.8L568.54 435.6L568.91 435.35L569.28 435.03L569.65 434.63L570.02 434.15L570.39 433.57L570.76 432.88L571.12 432.06L571.49 431.09L571.86 429.94L572.23 428.6L572.6 427.02L572.97 425.2L573.34 423.1L573.71 420.71L574.08 418.02L574.45 414.99L574.82 411.64L575.19 407.95L575.56 403.92L575.93 399.58L576.3 394.94L576.67 390.04L577.04 384.91L577.41 379.6L577.78 374.18L578.15 368.72L578.52 363.29L578.89 357.97L579.26 352.85L579.63 348.02L580 343.56L580.37 339.56L580.74 336.09L581.11 333.23L581.48 331.03L581.85 329.54L582.22 328.78L582.58 328.78L582.95 329.54L583.32 331.03L583.69 333.23L584.06 336.09L584.43 339.56L584.8 343.56L585.17 348.02L585.54 352.85L585.91 357.97L586.28 363.29L586.65 368.72L587.02 374.18L587.39 379.6L587.76 384.91L588.13 390.04L588.5 394.94L588.87 399.58L589.24 403.92L589.61 407.95L589.98 411.64L590.35 414.99L590.72 418.02L591.09 420.71L591.46 423.1L591.83 425.2L592.2 427.02L592.57 428.6L592.94 429.94L593.31 431.09L593.68 432.06L594.04 432.9L594.41 433.6L594.78 434.2L595.15 434.69L595.52 435.08L595.89 435.39L596.26 435.63L596.63 435.8L597 435.91L597.37 435.98L597.74 436.01L598.11 436.02L598.48 436.02L598.85 436.02L599.22 436.03L599.59 436.06L599.96 436.11L600.33 436.18L600.7 436.27L601.07 436.37L601.44 436.47L601.81 436.55L602.18 436.61L602.55 436.65L602.92 436.66L603.29 436.65L603.66 436.63L604.03 436.6L604.4 436.57L604.77 436.55L605.13 436.54L605.5 436.55L605.87 436.58L606.24 436.64L606.61 436.71L606.98 436.8L607.35 436.9L607.72 436.99L608.09 437.08L608.46 437.15L608.83 437.2L609.2 437.22L609.57 437.21L609.94 437.18L610.31 437.13L610.68 437.06L611.05 436.98L611.42 436.89L611.79 436.81L612.16 436.73L612.53 436.67L612.9 436.61L613.27 436.57L613.64 436.53L614.01 436.51L614.38 436.48L614.75 436.46L615.12 436.43L615.49 436.41L615.86 436.39L616.23 436.37L616.59 436.37L616.96 436.38L617.33 436.4L617.7 436.45L618.07 436.53L618.44 436.63L618.81 436.75L619.18 436.89L619.55 437.04L619.92 437.19L620.29 437.33L620.66 437.45L621.03 437.53L621.4 437.58L621.77 437.58L622.14 437.54L622.51 437.45L622.88 437.32L623.25 437.17L623.62 436.99L623.99 436.81L624.36 436.64L624.73 436.48L625.1 436.35L625.47 436.26L625.84 436.2L626.21 436.18L626.58 436.2L626.95 436.24L627.32 436.31L627.68 436.39L628.05 436.47L628.42 436.56L628.79 436.64L629.16 436.7L629.53 436.76L629.9 436.81L630.27 436.85L630.64 436.88L631.01 436.91L631.38 436.94L631.75 436.97L632.12 437.01L632.49 437.05L632.86 437.09L633.23 437.13L633.6 437.16L633.97 437.17L634.34 437.17L634.71 437.15L635.08 437.11L635.45 437.06L635.82 436.98L636.19 436.9L636.56 436.81L636.93 436.73L637.3 436.66L637.67 436.6" stroke="#000" stroke-width="1.5" fill="none" stroke-linejoin="round" stroke-linecap="round" />
<path d="M527.13 436.8L527.5 436.8L527.87 436.8L528.24 436.8L528.61 436.8L528.98 436.8L529.35 436.8L529.72 436.8L530.09 436.8L530.46 436.8L530.83 436.8L531.2 436.8L531.57 436.8L531.94 436.8L532.31 436.8L532.68 436.8L533.05 436.8L533.42 436.8L533.79 436.8L534.16 436.8L534.53 436.8L534.9 436.8L535.27 436.8L535.64 436.8L536.01 436.8L536.38 436.8L536.75 436.8L537.12 436.8L537.48 436.8L537.85 436.8L538.22 436.8L538.59 436.8L538.96 436.8L539.33 436.8L539.7 436.8L540.07 436.8L540.44 436.8L540.81 436.8L541.18 436.8L541.55 436.8L541.92 436.8L542.29 436.8L542.66 436.8L543.03 436.8L543.4 436.8L543.77 436.8L544.14 436.8L544.51 436.8L544.88 436.8L545.25 436.8L545.62 436.8L545.99 436.8L546.36 436.8L546.73 436.8L547.1 436.8L547.47 436.8L547.84 436.8L548.21 436.8L548.57 436.8L548.94 436.8L549.31 436.8L549.68 436.8L550.05 436.79L550.42 436.79L550.79 436.79L551.16 436.79L551.53 436.79L551.9 436.79L552.27 436.79L552.64 436.79L553.01 436.78L553.38 436.78L553.75 436.78L554.12 436.78L554.49 436.78L554.86 436.77L555.23 436.77L555.6 436.77L555.97 436.76L556.34 436.76L556.71 436.75L557.08 436.75L557.45 436.74L557.82 436.74L558.19 436.73L558.56 436.73L558.93 436.72L559.3 436.71L559.67 436.7L560.03 436.69L560.4 436.68L560.77 436.67L561.14 436.66L561.51 436.65L561.88 436.63L562.25 436.62L562.62 436.6L562.99 436.58L563.36 436.56L563.73 436.54L564.1 436.52L564.47 436.49L564.84 436.46L565.21 436.42L565.58 436.38L565.95 436.33L566.32 436.27L566.69 436.2L567.06 436.11L567.43 436L567.8 435.87L568.17 435.7L568.54 435.5L568.91 435.25L569.28 434.94L569.65 434.57L570.02 434.11L570.39 433.55L570.76 432.87L571.12 432.06L571.49 431.09L571.86 429.94L572.23 428.6L572.6 427.02L572.97 425.2L573.34 423.1L573.71 420.71L574.08 418.02L574.45 414.99L574.82 411.64L575.19 407.95L575.56 403.92L575.93 399.58L576.3 394.94L576.67 390.04L577.04 384.91L577.41 379.6L577.78 374.18L578.15 368.72L578.52 363.29L578.89 357.97L579.26 352.85L579.63 348.02L580 343.56L580.37 339.56L580.74 336.09L581.11 333.23L581.48 331.03L581.85 329.54L582.22 328.78L582.58 328.78L582.95 329.54L583.32 331.03L583.69 333.23L584.06 336.09L584.43 339.56L584.8 343.56L585.17 348.02L585.54 352.85L585.91 357.97L586.28 363.29L586.65 368.72L587.02 374.18L587.39 379.6L587.76 384.91L588.13 390.04L588.5 394.94L588.87 399.58L589.24 403.92L589.61 407.95L589.98 411.64L590.35 414.99L590.72 418.02L591.09 420.71L591.46 423.1L591.83 425.2L592.2 427.02L592.57 428.6L592.94 429.94L593.31 431.09L593.68 432.06L594.04 432.87L594.41 433.55L594.78 434.11L595.15 434.57L595.52 434.94L595.89 435.25L596.26 435.5L596.63 435.7L597 435.87L597.37 436L597.74 436.11L598.11 436.2L598.48 436.27L598.85 436.33L599.22 436.38L599.59 436.42L599.96 436.46L600.33 436.49L600.7 436.52L601.07 436.54L601.44 436.56L601.81 436.58L602.18 436.6L602.55 436.62L602.92 436.63L603.29 436.65L603.66 436.66L604.03 436.67L604.4 436.68L604.77 436.69L605.13 436.7L605.5 436.71L605.87 436.72L606.24 436.73L606.61 436.73L606.98 436.74L607.35 436.74L607.72 436.75L608.09 436.75L608.46 436.76L608.83 436.76L609.2 436.77L609.57 436.77L609.94 436.77L610.31 436.78L610.68 436.78L611.05 436.78L611.42 436.78L611.79 436.78L612.16 436.79L612.53 436.79L612.9 436.79L613.27 436.79L613.64 436.79L614.01 436.79L614.38 436.79L614.75 436.79L615.12 436.8L615.49 436.8L615.86 436.8L616.23 436.8L616.59 436.8L616.96 436.8L617.33 436.8L617.7 436.8L618.07 436.8L618.44 436.8L618.81 436.8L619.18 436.8L619.55 436.8L619.92 436.8L620.29 436.8L620.66 436.8L621.03 436.8L621.4 436.8L621.77 436.8L622.14 436.8L622.51 436.8L622.88 436.8L623.25 436.8L623.62 436.8L623.99 436.8L624.36 436.8L624.73 436.8L625.1 436.8L625.47 436.8L625.84 436.8L626.21 436.8L626.58 436.8L626.95 436.8L627.32 436.8L627.68 436.8L628.05 436.8L628.42 436.8L628.79 436.8L629.16 436.8L629.53 436.8L629.9 436.8L630.27 436.8L630.64 436.8L631.01 436.8L631.38 436.8L631.75 436.8L632.12 436.8L632.49 436.8L632.86 436.8L633.23 436.8L633.6 436.8L633.97 436.8L634.34 436.8L634.71 436.8L635.08 436.8L635.45 436.8L635.82 436.8L636.19 436.8L636.56 436.8L636.93 436.8L637.3 436.8L637.67 436.8" stroke="#0000ff" stroke-width="1.45" fill="none" stroke-linejoin="round" stroke-linecap="round" />
</g>
<rect x="522.5" y="322.6" width="120" height="120" fill="none" stroke="#000" stroke-width="1.1"/>
<path d="M537.1 442.6v-3.6M537.1 322.6v3.6M582.4 442.6v-3.6M582.4 322.6v3.6M627.7 442.6v-3.6M627.7 322.6v3.6M522.5 436.8h3.6M642.5 436.8h-3.6M522.5 413.6h3.6M642.5 413.6h-3.6M522.5 390.4h3.6M642.5 390.4h-3.6M522.5 367.2h3.6M642.5 367.2h-3.6M522.5 344h3.6M642.5 344h-3.6" stroke="#000" stroke-width="1.0" fill="none"/>
<path d="M528.04 442.6v-2.1M528.04 322.6v2.1M546.16 442.6v-2.1M546.16 322.6v2.1M555.22 442.6v-2.1M555.22 322.6v2.1M564.28 442.6v-2.1M564.28 322.6v2.1M573.34 442.6v-2.1M573.34 322.6v2.1M591.46 442.6v-2.1M591.46 322.6v2.1M600.52 442.6v-2.1M600.52 322.6v2.1M609.58 442.6v-2.1M609.58 322.6v2.1M618.64 442.6v-2.1M618.64 322.6v2.1M636.76 442.6v-2.1M636.76 322.6v2.1M522.5 441.44h2.1M642.5 441.44h-2.1M522.5 432.16h2.1M642.5 432.16h-2.1M522.5 427.52h2.1M642.5 427.52h-2.1M522.5 422.88h2.1M642.5 422.88h-2.1M522.5 418.24h2.1M642.5 418.24h-2.1M522.5 408.96h2.1M642.5 408.96h-2.1M522.5 404.32h2.1M642.5 404.32h-2.1M522.5 399.68h2.1M642.5 399.68h-2.1M522.5 395.04h2.1M642.5 395.04h-2.1M522.5 385.76h2.1M642.5 385.76h-2.1M522.5 381.12h2.1M642.5 381.12h-2.1M522.5 376.48h2.1M642.5 376.48h-2.1M522.5 371.84h2.1M642.5 371.84h-2.1M522.5 362.56h2.1M642.5 362.56h-2.1M522.5 357.92h2.1M642.5 357.92h-2.1M522.5 353.28h2.1M642.5 353.28h-2.1M522.5 348.64h2.1M642.5 348.64h-2.1M522.5 339.36h2.1M642.5 339.36h-2.1M522.5 334.72h2.1M642.5 334.72h-2.1M522.5 330.08h2.1M642.5 330.08h-2.1M522.5 325.44h2.1M642.5 325.44h-2.1" stroke="#000" stroke-width="0.85" fill="none"/>
<text x="537.1" y="451.8" font-size="9.3" stroke="#000" stroke-width="0.22" text-anchor="middle" textLength="12.62" lengthAdjust="spacingAndGlyphs" >−1</text>
<text x="582.4" y="451.8" font-size="9.3" stroke="#000" stroke-width="0.22" text-anchor="middle" textLength="5.45" lengthAdjust="spacingAndGlyphs" >0</text>
<text x="627.7" y="451.8" font-size="9.3" stroke="#000" stroke-width="0.22" text-anchor="middle" textLength="5.45" lengthAdjust="spacingAndGlyphs" >1</text>
<text x="645.3" y="439.9" font-size="9.3" stroke="#000" stroke-width="0.22" textLength="5.45" lengthAdjust="spacingAndGlyphs" >0</text>
<text x="645.3" y="416.7" font-size="9.3" stroke="#000" stroke-width="0.22" textLength="5.45" lengthAdjust="spacingAndGlyphs" >5</text>
<text x="645.3" y="393.5" font-size="9.3" stroke="#000" stroke-width="0.22" textLength="10.89" lengthAdjust="spacingAndGlyphs" >10</text>
<text x="645.3" y="370.3" font-size="9.3" stroke="#000" stroke-width="0.22" textLength="10.89" lengthAdjust="spacingAndGlyphs" >15</text>
<text x="645.3" y="347.1" font-size="9.3" stroke="#000" stroke-width="0.22" textLength="10.89" lengthAdjust="spacingAndGlyphs" >20</text>
<text x="582.4" y="462.2" font-size="9.3" stroke="#000" stroke-width="0.22" text-anchor="middle" textLength="41.65" lengthAdjust="spacingAndGlyphs" >radius [&quot;]</text>
<text x="0" y="0" font-size="9.3" stroke="#000" stroke-width="0.22" text-anchor="middle" textLength="90.74" lengthAdjust="spacingAndGlyphs" transform="translate(664.7 383.1) rotate(-90)">Intensity [mJy/beam]</text>
<text x="528.6" y="337.9" font-size="9.3" fill="#404040" stroke="#404040" stroke-width="0.22" textLength="21.61" lengthAdjust="spacingAndGlyphs" >Data</text>
<text x="528.6" y="349.5" font-size="9.3" fill="#0000ff" stroke="#0000ff" stroke-width="0.22" textLength="28.4" lengthAdjust="spacingAndGlyphs" style="stroke-width:0.24px">Model</text>
<text x="528.6" y="361.7" font-size="9.3" fill="#a0a0a0" stroke="#a0a0a0" stroke-width="0.22" textLength="39.49" lengthAdjust="spacingAndGlyphs" >Residual</text>
<rect x="522.5" y="483.7" width="120.0" height="120.0" fill="#fff"/>
<g clip-path="url(#cp3)">
<path d="M557.03 598.9L557.46 598.98L557.88 599L558.31 598.96L558.74 598.87L559.16 598.74L559.59 598.57L560.02 598.4L560.44 598.23L560.87 598.08L561.3 597.98L561.72 597.91L562.15 597.9L562.57 597.94L563 598.01L563.43 598.11L563.85 598.22L564.28 598.33L564.71 598.42L565.13 598.49L565.56 598.54L565.99 598.56L566.41 598.56L566.84 598.55L567.26 598.53L567.69 598.52L568.12 598.51L568.54 598.52L568.97 598.54L569.4 598.58L569.82 598.61L570.25 598.63L570.68 598.64L571.1 598.62L571.53 598.57L571.95 598.49L572.38 598.38L572.81 598.25L573.23 598.11L573.66 597.98L574.09 597.87L574.51 597.8L574.94 597.77L575.37 597.79L575.79 597.85L576.22 597.96L576.64 598.09L577.07 598.24L577.5 598.38L577.92 598.49L578.35 598.56L578.78 598.58L579.2 598.55L579.63 598.47L580.06 598.34L580.48 598.18L580.91 598.01L581.33 597.84L581.76 597.69L582.19 597.57L582.61 597.5L583.04 597.47L583.47 597.48L583.89 597.53L584.32 597.61L584.74 597.7L585.17 597.79L585.6 597.88L586.02 597.95L586.45 598L586.88 598.05L587.3 598.08L587.73 598.11L588.16 598.15L588.58 598.2L589.01 598.27L589.43 598.35L589.86 598.45L590.29 598.56L590.71 598.65L591.14 598.74L591.57 598.79L591.99 598.8L592.42 598.77L592.85 598.69L593.27 598.58L593.7 598.43L594.12 598.27L594.55 598.11L594.98 597.97L595.4 597.86L595.83 597.81L596.26 597.81L596.68 597.86L597.11 597.97L597.54 598.11L597.96 598.28L598.39 598.45L598.81 598.61L599.24 598.74L599.67 598.83L600.09 598.88L600.52 598.88L600.95 598.83L601.37 598.75L601.8 598.65L602.23 598.55L602.65 598.45L603.08 598.37L603.5 598.31L603.93 598.27L604.36 598.26L604.78 598.27L605.21 598.28L605.64 598.29L606.06 598.3L606.49 598.29L606.92 598.27L607.34 598.23L607.77 598.19" stroke="#c4c4c4" stroke-width="0.8" fill="none" stroke-linejoin="round" stroke-linecap="round" />
<path d="M527.13 597.46L527.5 597.46L527.87 597.47L528.24 597.51L528.61 597.55L528.98 597.61L529.35 597.66L529.72 597.71L530.09 597.75L530.46 597.77L530.83 597.78L531.2 597.78L531.57 597.76L531.94 597.72L532.31 597.69L532.68 597.65L533.05 597.62L533.42 597.6L533.79 597.59L534.16 597.61L534.53 597.65L534.9 597.71L535.27 597.79L535.64 597.88L536.01 597.98L536.38 598.07L536.75 598.16L537.12 598.23L537.48 598.27L537.85 598.29L538.22 598.28L538.59 598.25L538.96 598.18L539.33 598.1L539.7 598.01L540.07 597.91L540.44 597.81L540.81 597.73L541.18 597.67L541.55 597.62L541.92 597.6L542.29 597.6L542.66 597.63L543.03 597.67L543.4 597.71L543.77 597.76L544.14 597.8L544.51 597.83L544.88 597.84L545.25 597.83L545.62 597.8L545.99 597.75L546.36 597.69L546.73 597.62L547.1 597.54L547.47 597.48L547.84 597.42L548.21 597.39L548.57 597.38L548.94 597.4L549.31 597.44L549.68 597.5L550.05 597.59L550.42 597.69L550.79 597.79L551.16 597.89L551.53 597.98L551.9 598.06L552.27 598.12L552.64 598.15L553.01 598.16L553.38 598.14L553.75 598.11L554.12 598.07L554.49 598.01L554.86 597.96L555.23 597.9L555.6 597.86L555.97 597.82L556.34 597.8L556.71 597.79L557.08 597.79L557.45 597.8L557.82 597.81L558.19 597.81L558.56 597.8L558.93 597.78L559.3 597.74L559.67 597.68L560.03 597.6L560.4 597.5L560.77 597.37L561.14 597.22L561.51 597.06L561.88 596.88L562.25 596.68L562.62 596.48L562.99 596.26L563.36 596.03L563.73 595.79L564.1 595.52L564.47 595.24L564.84 594.94L565.21 594.58L565.58 594.18L565.95 593.71L566.32 593.18L566.69 592.56L567.06 591.87L567.43 591.08L567.8 590.19L568.17 589.2L568.54 588.1L568.91 586.89L569.28 585.56L569.65 584.09L570.02 582.5L570.39 580.76L570.76 578.88L571.12 576.85L571.49 574.68L571.86 572.36L572.23 569.88L572.6 567.25L572.97 564.46L573.34 561.53L573.71 558.45L574.08 555.23L574.45 551.88L574.82 548.41L575.19 544.84L575.56 541.18L575.93 537.45L576.3 533.66L576.67 529.85L577.04 526.03L577.41 522.23L577.78 518.48L578.15 514.81L578.52 511.25L578.89 507.83L579.26 504.59L579.63 501.55L580 498.76L580.37 496.24L580.74 494.04L581.11 492.18L581.48 490.7L581.85 489.64L582.22 489.05L582.58 489.05L582.95 489.64L583.32 490.7L583.69 492.18L584.06 494.04L584.43 496.24L584.8 498.76L585.17 501.55L585.54 504.59L585.91 507.83L586.28 511.25L586.65 514.81L587.02 518.48L587.39 522.23L587.76 526.03L588.13 529.85L588.5 533.66L588.87 537.45L589.24 541.18L589.61 544.84L589.98 548.41L590.35 551.88L590.72 555.23L591.09 558.45L591.46 561.53L591.83 564.46L592.2 567.25L592.57 569.88L592.94 572.36L593.31 574.68L593.68 576.85L594.04 578.87L594.41 580.73L594.78 582.44L595.15 584.01L595.52 585.43L595.89 586.74L596.26 587.92L596.63 589.01L597 590.01L597.37 590.92L597.74 591.75L598.11 592.51L598.48 593.19L598.85 593.81L599.22 594.35L599.59 594.83L599.96 595.23L600.33 595.57L600.7 595.85L601.07 596.07L601.44 596.26L601.81 596.42L602.18 596.56L602.55 596.69L602.92 596.83L603.29 596.97L603.66 597.11L604.03 597.27L604.4 597.43L604.77 597.58L605.13 597.74L605.5 597.88L605.87 597.99L606.24 598.09L606.61 598.15L606.98 598.19L607.35 598.19L607.72 598.16L608.09 598.1L608.46 598.03L608.83 597.95L609.2 597.87L609.57 597.79L609.94 597.72L610.31 597.67L610.68 597.64L611.05 597.62L611.42 597.63L611.79 597.65L612.16 597.68L612.53 597.71L612.9 597.75L613.27 597.77L613.64 597.79L614.01 597.79L614.38 597.77L614.75 597.74L615.12 597.7L615.49 597.65L615.86 597.59L616.23 597.54L616.59 597.5L616.96 597.46L617.33 597.45L617.7 597.45L618.07 597.47L618.44 597.51L618.81 597.57L619.18 597.64L619.55 597.71L619.92 597.79L620.29 597.86L620.66 597.93L621.03 597.99L621.4 598.04L621.77 598.07L622.14 598.08L622.51 598.09L622.88 598.08L623.25 598.07L623.62 598.05L623.99 598.03L624.36 598L624.73 597.98L625.1 597.96L625.47 597.95L625.84 597.94L626.21 597.93L626.58 597.92L626.95 597.91L627.32 597.9L627.68 597.88L628.05 597.87L628.42 597.85L628.79 597.83L629.16 597.8L629.53 597.77L629.9 597.75L630.27 597.72L630.64 597.69L631.01 597.66L631.38 597.63L631.75 597.61L632.12 597.59L632.49 597.57L632.86 597.55L633.23 597.54L633.6 597.52L633.97 597.52L634.34 597.52L634.71 597.52L635.08 597.54L635.45 597.56L635.82 597.6L636.19 597.64L636.56 597.69L636.93 597.75L637.3 597.81L637.67 597.87" stroke="#000" stroke-width="1.5" fill="none" stroke-linejoin="round" stroke-linecap="round" />
<path d="M527.13 597.8L527.5 597.8L527.87 597.8L528.24 597.8L528.61 597.8L528.98 597.8L529.35 597.8L529.72 597.8L530.09 597.8L530.46 597.8L530.83 597.8L531.2 597.8L531.57 597.8L531.94 597.8L532.31 597.8L532.68 597.8L533.05 597.8L533.42 597.8L533.79 597.8L534.16 597.8L534.53 597.8L534.9 597.8L535.27 597.8L535.64 597.8L536.01 597.8L536.38 597.8L536.75 597.8L537.12 597.8L537.48 597.8L537.85 597.8L538.22 597.8L538.59 597.8L538.96 597.8L539.33 597.8L539.7 597.8L540.07 597.8L540.44 597.8L540.81 597.8L541.18 597.8L541.55 597.8L541.92 597.8L542.29 597.8L542.66 597.8L543.03 597.8L543.4 597.8L543.77 597.8L544.14 597.8L544.51 597.8L544.88 597.8L545.25 597.8L545.62 597.8L545.99 597.8L546.36 597.8L546.73 597.8L547.1 597.8L547.47 597.8L547.84 597.8L548.21 597.8L548.57 597.8L548.94 597.8L549.31 597.8L549.68 597.8L550.05 597.8L550.42 597.8L550.79 597.8L551.16 597.8L551.53 597.8L551.9 597.8L552.27 597.8L552.64 597.79L553.01 597.79L553.38 597.79L553.75 597.79L554.12 597.79L554.49 597.78L554.86 597.78L555.23 597.78L555.6 597.77L555.97 597.76L556.34 597.75L556.71 597.74L557.08 597.73L557.45 597.72L557.82 597.7L558.19 597.68L558.56 597.65L558.93 597.62L559.3 597.58L559.67 597.54L560.03 597.49L560.4 597.43L560.77 597.35L561.14 597.27L561.51 597.17L561.88 597.06L562.25 596.92L562.62 596.77L562.99 596.59L563.36 596.39L563.73 596.15L564.1 595.88L564.47 595.57L564.84 595.21L565.21 594.81L565.58 594.36L565.95 593.84L566.32 593.27L566.69 592.62L567.06 591.89L567.43 591.08L567.8 590.18L568.17 589.18L568.54 588.07L568.91 586.86L569.28 585.52L569.65 584.06L570.02 582.47L570.39 580.74L570.76 578.87L571.12 576.85L571.49 574.68L571.86 572.36L572.23 569.88L572.6 567.25L572.97 564.46L573.34 561.53L573.71 558.45L574.08 555.23L574.45 551.88L574.82 548.41L575.19 544.84L575.56 541.18L575.93 537.45L576.3 533.66L576.67 529.85L577.04 526.03L577.41 522.23L577.78 518.48L578.15 514.81L578.52 511.25L578.89 507.83L579.26 504.59L579.63 501.55L580 498.76L580.37 496.24L580.74 494.04L581.11 492.18L581.48 490.7L581.85 489.64L582.22 489.05L582.58 489.05L582.95 489.64L583.32 490.7L583.69 492.18L584.06 494.04L584.43 496.24L584.8 498.76L585.17 501.55L585.54 504.59L585.91 507.83L586.28 511.25L586.65 514.81L587.02 518.48L587.39 522.23L587.76 526.03L588.13 529.85L588.5 533.66L588.87 537.45L589.24 541.18L589.61 544.84L589.98 548.41L590.35 551.88L590.72 555.23L591.09 558.45L591.46 561.53L591.83 564.46L592.2 567.25L592.57 569.88L592.94 572.36L593.31 574.68L593.68 576.85L594.04 578.87L594.41 580.74L594.78 582.47L595.15 584.06L595.52 585.52L595.89 586.86L596.26 588.07L596.63 589.18L597 590.18L597.37 591.08L597.74 591.89L598.11 592.62L598.48 593.27L598.85 593.84L599.22 594.36L599.59 594.81L599.96 595.21L600.33 595.57L600.7 595.88L601.07 596.15L601.44 596.39L601.81 596.59L602.18 596.77L602.55 596.92L602.92 597.06L603.29 597.17L603.66 597.27L604.03 597.35L604.4 597.43L604.77 597.49L605.13 597.54L605.5 597.58L605.87 597.62L606.24 597.65L606.61 597.68L606.98 597.7L607.35 597.72L607.72 597.73L608.09 597.74L608.46 597.75L608.83 597.76L609.2 597.77L609.57 597.78L609.94 597.78L610.31 597.78L610.68 597.79L611.05 597.79L611.42 597.79L611.79 597.79L612.16 597.79L612.53 597.8L612.9 597.8L613.27 597.8L613.64 597.8L614.01 597.8L614.38 597.8L614.75 597.8L615.12 597.8L615.49 597.8L615.86 597.8L616.23 597.8L616.59 597.8L616.96 597.8L617.33 597.8L617.7 597.8L618.07 597.8L618.44 597.8L618.81 597.8L619.18 597.8L619.55 597.8L619.92 597.8L620.29 597.8L620.66 597.8L621.03 597.8L621.4 597.8L621.77 597.8L622.14 597.8L622.51 597.8L622.88 597.8L623.25 597.8L623.62 597.8L623.99 597.8L624.36 597.8L624.73 597.8L625.1 597.8L625.47 597.8L625.84 597.8L626.21 597.8L626.58 597.8L626.95 597.8L627.32 597.8L627.68 597.8L628.05 597.8L628.42 597.8L628.79 597.8L629.16 597.8L629.53 597.8L629.9 597.8L630.27 597.8L630.64 597.8L631.01 597.8L631.38 597.8L631.75 597.8L632.12 597.8L632.49 597.8L632.86 597.8L633.23 597.8L633.6 597.8L633.97 597.8L634.34 597.8L634.71 597.8L635.08 597.8L635.45 597.8L635.82 597.8L636.19 597.8L636.56 597.8L636.93 597.8L637.3 597.8L637.67 597.8" stroke="#0000ff" stroke-width="1.45" fill="none" stroke-linejoin="round" stroke-linecap="round" />
</g>
<rect x="522.5" y="483.7" width="120" height="120" fill="none" stroke="#000" stroke-width="1.1"/>
<path d="M537.1 603.7v-3.6M537.1 483.7v3.6M582.4 603.7v-3.6M582.4 483.7v3.6M627.7 603.7v-3.6M627.7 483.7v3.6M522.5 597.8h3.6M642.5 597.8h-3.6M522.5 572.95h3.6M642.5 572.95h-3.6M522.5 548.1h3.6M642.5 548.1h-3.6M522.5 523.25h3.6M642.5 523.25h-3.6M522.5 498.4h3.6M642.5 498.4h-3.6" stroke="#000" stroke-width="1.0" fill="none"/>
<path d="M528.04 603.7v-2.1M528.04 483.7v2.1M546.16 603.7v-2.1M546.16 483.7v2.1M555.22 603.7v-2.1M555.22 483.7v2.1M564.28 603.7v-2.1M564.28 483.7v2.1M573.34 603.7v-2.1M573.34 483.7v2.1M591.46 603.7v-2.1M591.46 483.7v2.1M600.52 603.7v-2.1M600.52 483.7v2.1M609.58 603.7v-2.1M609.58 483.7v2.1M618.64 603.7v-2.1M618.64 483.7v2.1M636.76 603.7v-2.1M636.76 483.7v2.1M522.5 602.77h2.1M642.5 602.77h-2.1M522.5 592.83h2.1M642.5 592.83h-2.1M522.5 587.86h2.1M642.5 587.86h-2.1M522.5 582.89h2.1M642.5 582.89h-2.1M522.5 577.92h2.1M642.5 577.92h-2.1M522.5 567.98h2.1M642.5 567.98h-2.1M522.5 563.01h2.1M642.5 563.01h-2.1M522.5 558.04h2.1M642.5 558.04h-2.1M522.5 553.07h2.1M642.5 553.07h-2.1M522.5 543.13h2.1M642.5 543.13h-2.1M522.5 538.16h2.1M642.5 538.16h-2.1M522.5 533.19h2.1M642.5 533.19h-2.1M522.5 528.22h2.1M642.5 528.22h-2.1M522.5 518.28h2.1M642.5 518.28h-2.1M522.5 513.31h2.1M642.5 513.31h-2.1M522.5 508.34h2.1M642.5 508.34h-2.1M522.5 503.37h2.1M642.5 503.37h-2.1M522.5 493.43h2.1M642.5 493.43h-2.1M522.5 488.46h2.1M642.5 488.46h-2.1" stroke="#000" stroke-width="0.85" fill="none"/>
<text x="537.1" y="612.9" font-size="9.3" stroke="#000" stroke-width="0.22" text-anchor="middle" textLength="12.62" lengthAdjust="spacingAndGlyphs" >−1</text>
<text x="582.4" y="612.9" font-size="9.3" stroke="#000" stroke-width="0.22" text-anchor="middle" textLength="5.45" lengthAdjust="spacingAndGlyphs" >0</text>
<text x="627.7" y="612.9" font-size="9.3" stroke="#000" stroke-width="0.22" text-anchor="middle" textLength="5.45" lengthAdjust="spacingAndGlyphs" >1</text>
<text x="645.3" y="600.9" font-size="9.3" stroke="#000" stroke-width="0.22" textLength="5.45" lengthAdjust="spacingAndGlyphs" >0</text>
<text x="645.3" y="576.05" font-size="9.3" stroke="#000" stroke-width="0.22" textLength="5.45" lengthAdjust="spacingAndGlyphs" >5</text>
<text x="645.3" y="551.2" font-size="9.3" stroke="#000" stroke-width="0.22" textLength="10.89" lengthAdjust="spacingAndGlyphs" >10</text>
<text x="645.3" y="526.35" font-size="9.3" stroke="#000" stroke-width="0.22" textLength="10.89" lengthAdjust="spacingAndGlyphs" >15</text>
<text x="645.3" y="501.5" font-size="9.3" stroke="#000" stroke-width="0.22" textLength="10.89" lengthAdjust="spacingAndGlyphs" >20</text>
<text x="582.4" y="623.3" font-size="9.3" stroke="#000" stroke-width="0.22" text-anchor="middle" textLength="41.65" lengthAdjust="spacingAndGlyphs" >radius [&quot;]</text>
<text x="0" y="0" font-size="9.3" stroke="#000" stroke-width="0.22" text-anchor="middle" textLength="90.74" lengthAdjust="spacingAndGlyphs" transform="translate(664.7 544.2) rotate(-90)">Intensity [mJy/beam]</text>
<text x="528.6" y="499" font-size="9.3" fill="#404040" stroke="#404040" stroke-width="0.22" textLength="21.61" lengthAdjust="spacingAndGlyphs" >Data</text>
<text x="528.6" y="510.6" font-size="9.3" fill="#0000ff" stroke="#0000ff" stroke-width="0.22" textLength="28.4" lengthAdjust="spacingAndGlyphs" style="stroke-width:0.24px">Model</text>
<text x="528.6" y="522.8" font-size="9.3" fill="#a0a0a0" stroke="#a0a0a0" stroke-width="0.22" textLength="39.49" lengthAdjust="spacingAndGlyphs" >Residual</text>
<rect x="522.5" y="644.8" width="120.0" height="120.0" fill="#fff"/>
<g clip-path="url(#cp4)">
<path d="M557.03 756.79L557.46 756.62L557.88 756.48L558.31 756.38L558.74 756.33L559.16 756.34L559.59 756.39L560.02 756.49L560.44 756.62L560.87 756.77L561.3 756.91L561.72 757.04L562.15 757.14L562.57 757.2L563 757.23L563.43 757.22L563.85 757.19L564.28 757.14L564.71 757.08L565.13 757.03L565.56 756.99L565.99 756.97L566.41 756.96L566.84 756.97L567.26 756.97L567.69 756.98L568.12 756.97L568.54 756.94L568.97 756.89L569.4 756.82L569.82 756.73L570.25 756.64L570.68 756.55L571.1 756.48L571.53 756.44L571.95 756.43L572.38 756.47L572.81 756.55L573.23 756.67L573.66 756.8L574.09 756.95L574.51 757.08L574.94 757.18L575.37 757.23L575.79 757.22L576.22 757.16L576.64 757.03L577.07 756.84L577.5 756.62L577.92 756.37L578.35 756.12L578.78 755.89L579.2 755.69L579.63 755.54L580.06 755.43L580.48 755.38L580.91 755.38L581.33 755.42L581.76 755.49L582.19 755.58L582.61 755.67L583.04 755.76L583.47 755.83L583.89 755.9L584.32 755.96L584.74 756.02L585.17 756.08L585.6 756.14L586.02 756.23L586.45 756.32L586.88 756.44L587.3 756.55L587.73 756.67L588.16 756.78L588.58 756.86L589.01 756.91L589.43 756.92L589.86 756.89L590.29 756.82L590.71 756.73L591.14 756.61L591.57 756.5L591.99 756.4L592.42 756.33L592.85 756.31L593.27 756.34L593.7 756.41L594.12 756.54L594.55 756.7L594.98 756.87L595.4 757.05L595.83 757.22L596.26 757.35L596.68 757.43L597.11 757.46L597.54 757.44L597.96 757.37L598.39 757.26L598.81 757.13L599.24 756.99L599.67 756.85L600.09 756.74L600.52 756.66L600.95 756.61L601.37 756.6L601.8 756.61L602.23 756.65L602.65 756.69L603.08 756.74L603.5 756.78L603.93 756.81L604.36 756.82L604.78 756.81L605.21 756.8L605.64 756.8L606.06 756.8L606.49 756.82L606.92 756.86L607.34 756.92L607.77 757" stroke="#c4c4c4" stroke-width="0.8" fill="none" stroke-linejoin="round" stroke-linecap="round" />
<path d="M527.13 755.57L527.5 755.25L527.87 754.96L528.24 754.74L528.61 754.58L528.98 754.51L529.35 754.53L529.72 754.65L530.09 754.86L530.46 755.15L530.83 755.5L531.2 755.89L531.57 756.3L531.94 756.7L532.31 757.06L532.68 757.38L533.05 757.63L533.42 757.8L533.79 757.88L534.16 757.89L534.53 757.81L534.9 757.67L535.27 757.49L535.64 757.29L536.01 757.09L536.38 756.9L536.75 756.75L537.12 756.66L537.48 756.62L537.85 756.65L538.22 756.73L538.59 756.87L538.96 757.04L539.33 757.23L539.7 757.42L540.07 757.59L540.44 757.71L540.81 757.78L541.18 757.78L541.55 757.7L541.92 757.55L542.29 757.33L542.66 757.05L543.03 756.72L543.4 756.37L543.77 756.01L544.14 755.67L544.51 755.36L544.88 755.1L545.25 754.91L545.62 754.79L545.99 754.75L546.36 754.78L546.73 754.88L547.1 755.04L547.47 755.25L547.84 755.48L548.21 755.73L548.57 755.99L548.94 756.23L549.31 756.46L549.68 756.66L550.05 756.83L550.42 756.97L550.79 757.08L551.16 757.16L551.53 757.23L551.9 757.28L552.27 757.32L552.64 757.36L553.01 757.4L553.38 757.43L553.75 757.46L554.12 757.48L554.49 757.5L554.86 757.51L555.23 757.5L555.6 757.47L555.97 757.43L556.34 757.37L556.71 757.29L557.08 757.2L557.45 757.1L557.82 757L558.19 756.9L558.56 756.8L558.93 756.72L559.3 756.65L559.67 756.59L560.03 756.54L560.4 756.5L560.77 756.46L561.14 756.42L561.51 756.36L561.88 756.29L562.25 756.2L562.62 756.09L562.99 755.95L563.36 755.79L563.73 755.62L564.1 755.44L564.47 755.31L564.84 755.25L565.21 755.22L565.58 755.24L565.95 755.3L566.32 755.39L566.69 755.49L567.06 755.6L567.43 755.68L567.8 755.71L568.17 755.65L568.54 755.49L568.91 755.19L569.28 754.73L569.65 754.08L570.02 753.22L570.39 752.14L570.76 750.82L571.12 749.26L571.49 747.51L571.86 745.46L572.23 743.09L572.6 740.39L572.97 737.34L573.34 733.94L573.71 730.2L574.08 726.13L574.45 721.75L574.82 717.11L575.19 712.24L575.56 707.2L575.93 702.04L576.3 696.83L576.67 691.65L577.04 686.55L577.41 681.61L577.78 676.9L578.15 672.48L578.52 668.39L578.89 664.69L579.26 661.4L579.63 658.56L580 656.17L580.37 654.23L580.74 652.73L581.11 651.64L581.48 650.92L581.85 650.53L582.22 650.39L582.58 650.39L582.95 650.53L583.32 650.92L583.69 651.64L584.06 652.73L584.43 654.23L584.8 656.17L585.17 658.56L585.54 661.4L585.91 664.69L586.28 668.39L586.65 672.48L587.02 676.9L587.39 681.61L587.76 686.55L588.13 691.65L588.5 696.83L588.87 702.04L589.24 707.2L589.61 712.24L589.98 717.11L590.35 721.75L590.72 726.13L591.09 730.2L591.46 733.94L591.83 737.34L592.2 740.39L592.57 743.09L592.94 745.46L593.31 747.51L593.68 749.26L594.04 750.74L594.41 751.98L594.78 752.98L595.15 753.79L595.52 754.42L595.89 754.9L596.26 755.25L596.63 755.49L597 755.66L597.37 755.76L597.74 755.81L598.11 755.83L598.48 755.83L598.85 755.81L599.22 755.79L599.59 755.76L599.96 755.72L600.33 755.69L600.7 755.68L601.07 755.69L601.44 755.71L601.81 755.74L602.18 755.78L602.55 755.84L602.92 755.93L603.29 756.05L603.66 756.21L604.03 756.4L604.4 756.63L604.77 756.88L605.13 757.15L605.5 757.43L605.87 757.71L606.24 757.96L606.61 758.18L606.98 758.34L607.35 758.44L607.72 758.47L608.09 758.42L608.46 758.3L608.83 758.1L609.2 757.84L609.57 757.54L609.94 757.2L610.31 756.86L610.68 756.52L611.05 756.22L611.42 755.97L611.79 755.78L612.16 755.66L612.53 755.62L612.9 755.64L613.27 755.73L613.64 755.86L614.01 756.02L614.38 756.19L614.75 756.36L615.12 756.49L615.49 756.58L615.86 756.61L616.23 756.58L616.59 756.49L616.96 756.34L617.33 756.14L617.7 755.92L618.07 755.69L618.44 755.47L618.81 755.29L619.18 755.16L619.55 755.1L619.92 755.13L620.29 755.25L620.66 755.45L621.03 755.73L621.4 756.08L621.77 756.48L622.14 756.89L622.51 757.31L622.88 757.7L623.25 758.05L623.62 758.32L623.99 758.52L624.36 758.62L624.73 758.63L625.1 758.55L625.47 758.39L625.84 758.17L626.21 757.9L626.58 757.6L626.95 757.29L627.32 756.99L627.68 756.72L628.05 756.49L628.42 756.31L628.79 756.18L629.16 756.1L629.53 756.07L629.9 756.07L630.27 756.1L630.64 756.14L631.01 756.19L631.38 756.22L631.75 756.24L632.12 756.24L632.49 756.21L632.86 756.15L633.23 756.08L633.6 755.99L633.97 755.89L634.34 755.8L634.71 755.72L635.08 755.65L635.45 755.62L635.82 755.61L636.19 755.64L636.56 755.69L636.93 755.78L637.3 755.89L637.67 756.02" stroke="#000" stroke-width="1.5" fill="none" stroke-linejoin="round" stroke-linecap="round" />
<path d="M527.13 756.6L527.5 756.6L527.87 756.6L528.24 756.6L528.61 756.6L528.98 756.6L529.35 756.6L529.72 756.6L530.09 756.6L530.46 756.6L530.83 756.6L531.2 756.6L531.57 756.6L531.94 756.6L532.31 756.6L532.68 756.6L533.05 756.6L533.42 756.6L533.79 756.6L534.16 756.6L534.53 756.6L534.9 756.6L535.27 756.6L535.64 756.6L536.01 756.6L536.38 756.6L536.75 756.6L537.12 756.6L537.48 756.6L537.85 756.6L538.22 756.6L538.59 756.6L538.96 756.6L539.33 756.6L539.7 756.6L540.07 756.6L540.44 756.6L540.81 756.6L541.18 756.6L541.55 756.6L541.92 756.6L542.29 756.6L542.66 756.6L543.03 756.6L543.4 756.6L543.77 756.6L544.14 756.6L544.51 756.6L544.88 756.6L545.25 756.6L545.62 756.6L545.99 756.6L546.36 756.6L546.73 756.6L547.1 756.6L547.47 756.6L547.84 756.6L548.21 756.6L548.57 756.6L548.94 756.6L549.31 756.6L549.68 756.6L550.05 756.6L550.42 756.6L550.79 756.6L551.16 756.6L551.53 756.6L551.9 756.6L552.27 756.6L552.64 756.6L553.01 756.6L553.38 756.6L553.75 756.6L554.12 756.6L554.49 756.6L554.86 756.6L555.23 756.6L555.6 756.6L555.97 756.6L556.34 756.6L556.71 756.6L557.08 756.6L557.45 756.6L557.82 756.6L558.19 756.6L558.56 756.6L558.93 756.6L559.3 756.6L559.67 756.6L560.03 756.6L560.4 756.6L560.77 756.6L561.14 756.6L561.51 756.6L561.88 756.6L562.25 756.6L562.62 756.6L562.99 756.6L563.36 756.59L563.73 756.59L564.1 756.59L564.47 756.58L564.84 756.57L565.21 756.55L565.58 756.53L565.95 756.49L566.32 756.44L566.69 756.37L567.06 756.27L567.43 756.13L567.8 755.95L568.17 755.71L568.54 755.39L568.91 754.98L569.28 754.46L569.65 753.8L570.02 752.98L570.39 751.96L570.76 750.73L571.12 749.26L571.49 747.51L571.86 745.46L572.23 743.09L572.6 740.39L572.97 737.34L573.34 733.94L573.71 730.2L574.08 726.13L574.45 721.75L574.82 717.11L575.19 712.24L575.56 707.2L575.93 702.04L576.3 696.83L576.67 691.65L577.04 686.55L577.41 681.61L577.78 676.9L578.15 672.48L578.52 668.39L578.89 664.69L579.26 661.4L579.63 658.56L580 656.17L580.37 654.23L580.74 652.73L581.11 651.64L581.48 650.92L581.85 650.53L582.22 650.39L582.58 650.39L582.95 650.53L583.32 650.92L583.69 651.64L584.06 652.73L584.43 654.23L584.8 656.17L585.17 658.56L585.54 661.4L585.91 664.69L586.28 668.39L586.65 672.48L587.02 676.9L587.39 681.61L587.76 686.55L588.13 691.65L588.5 696.83L588.87 702.04L589.24 707.2L589.61 712.24L589.98 717.11L590.35 721.75L590.72 726.13L591.09 730.2L591.46 733.94L591.83 737.34L592.2 740.39L592.57 743.09L592.94 745.46L593.31 747.51L593.68 749.26L594.04 750.73L594.41 751.96L594.78 752.98L595.15 753.8L595.52 754.46L595.89 754.98L596.26 755.39L596.63 755.71L597 755.95L597.37 756.13L597.74 756.27L598.11 756.37L598.48 756.44L598.85 756.49L599.22 756.53L599.59 756.55L599.96 756.57L600.33 756.58L600.7 756.59L601.07 756.59L601.44 756.59L601.81 756.6L602.18 756.6L602.55 756.6L602.92 756.6L603.29 756.6L603.66 756.6L604.03 756.6L604.4 756.6L604.77 756.6L605.13 756.6L605.5 756.6L605.87 756.6L606.24 756.6L606.61 756.6L606.98 756.6L607.35 756.6L607.72 756.6L608.09 756.6L608.46 756.6L608.83 756.6L609.2 756.6L609.57 756.6L609.94 756.6L610.31 756.6L610.68 756.6L611.05 756.6L611.42 756.6L611.79 756.6L612.16 756.6L612.53 756.6L612.9 756.6L613.27 756.6L613.64 756.6L614.01 756.6L614.38 756.6L614.75 756.6L615.12 756.6L615.49 756.6L615.86 756.6L616.23 756.6L616.59 756.6L616.96 756.6L617.33 756.6L617.7 756.6L618.07 756.6L618.44 756.6L618.81 756.6L619.18 756.6L619.55 756.6L619.92 756.6L620.29 756.6L620.66 756.6L621.03 756.6L621.4 756.6L621.77 756.6L622.14 756.6L622.51 756.6L622.88 756.6L623.25 756.6L623.62 756.6L623.99 756.6L624.36 756.6L624.73 756.6L625.1 756.6L625.47 756.6L625.84 756.6L626.21 756.6L626.58 756.6L626.95 756.6L627.32 756.6L627.68 756.6L628.05 756.6L628.42 756.6L628.79 756.6L629.16 756.6L629.53 756.6L629.9 756.6L630.27 756.6L630.64 756.6L631.01 756.6L631.38 756.6L631.75 756.6L632.12 756.6L632.49 756.6L632.86 756.6L633.23 756.6L633.6 756.6L633.97 756.6L634.34 756.6L634.71 756.6L635.08 756.6L635.45 756.6L635.82 756.6L636.19 756.6L636.56 756.6L636.93 756.6L637.3 756.6L637.67 756.6" stroke="#0000ff" stroke-width="1.45" fill="none" stroke-linejoin="round" stroke-linecap="round" />
</g>
<rect x="522.5" y="644.8" width="120" height="120" fill="none" stroke="#000" stroke-width="1.1"/>
<path d="M537.1 764.8v-3.6M537.1 644.8v3.6M582.4 764.8v-3.6M582.4 644.8v3.6M627.7 764.8v-3.6M627.7 644.8v3.6M522.5 756.6h3.6M642.5 756.6h-3.6M522.5 733.1h3.6M642.5 733.1h-3.6M522.5 709.6h3.6M642.5 709.6h-3.6M522.5 686.1h3.6M642.5 686.1h-3.6M522.5 662.6h3.6M642.5 662.6h-3.6" stroke="#000" stroke-width="1.0" fill="none"/>
<path d="M528.04 764.8v-2.1M528.04 644.8v2.1M546.16 764.8v-2.1M546.16 644.8v2.1M555.22 764.8v-2.1M555.22 644.8v2.1M564.28 764.8v-2.1M564.28 644.8v2.1M573.34 764.8v-2.1M573.34 644.8v2.1M591.46 764.8v-2.1M591.46 644.8v2.1M600.52 764.8v-2.1M600.52 644.8v2.1M609.58 764.8v-2.1M609.58 644.8v2.1M618.64 764.8v-2.1M618.64 644.8v2.1M636.76 764.8v-2.1M636.76 644.8v2.1M522.5 761.3h2.1M642.5 761.3h-2.1M522.5 751.9h2.1M642.5 751.9h-2.1M522.5 747.2h2.1M642.5 747.2h-2.1M522.5 742.5h2.1M642.5 742.5h-2.1M522.5 737.8h2.1M642.5 737.8h-2.1M522.5 728.4h2.1M642.5 728.4h-2.1M522.5 723.7h2.1M642.5 723.7h-2.1M522.5 719h2.1M642.5 719h-2.1M522.5 714.3h2.1M642.5 714.3h-2.1M522.5 704.9h2.1M642.5 704.9h-2.1M522.5 700.2h2.1M642.5 700.2h-2.1M522.5 695.5h2.1M642.5 695.5h-2.1M522.5 690.8h2.1M642.5 690.8h-2.1M522.5 681.4h2.1M642.5 681.4h-2.1M522.5 676.7h2.1M642.5 676.7h-2.1M522.5 672h2.1M642.5 672h-2.1M522.5 667.3h2.1M642.5 667.3h-2.1M522.5 657.9h2.1M642.5 657.9h-2.1M522.5 653.2h2.1M642.5 653.2h-2.1M522.5 648.5h2.1M642.5 648.5h-2.1" stroke="#000" stroke-width="0.85" fill="none"/>
<text x="537.1" y="774" font-size="9.3" stroke="#000" stroke-width="0.22" text-anchor="middle" textLength="12.62" lengthAdjust="spacingAndGlyphs" >−1</text>
<text x="582.4" y="774" font-size="9.3" stroke="#000" stroke-width="0.22" text-anchor="middle" textLength="5.45" lengthAdjust="spacingAndGlyphs" >0</text>
<text x="627.7" y="774" font-size="9.3" stroke="#000" stroke-width="0.22" text-anchor="middle" textLength="5.45" lengthAdjust="spacingAndGlyphs" >1</text>
<text x="645.3" y="759.7" font-size="9.3" stroke="#000" stroke-width="0.22" textLength="5.45" lengthAdjust="spacingAndGlyphs" >0</text>
<text x="645.3" y="736.2" font-size="9.3" stroke="#000" stroke-width="0.22" textLength="5.45" lengthAdjust="spacingAndGlyphs" >1</text>
<text x="645.3" y="712.7" font-size="9.3" stroke="#000" stroke-width="0.22" textLength="5.45" lengthAdjust="spacingAndGlyphs" >2</text>
<text x="645.3" y="689.2" font-size="9.3" stroke="#000" stroke-width="0.22" textLength="5.45" lengthAdjust="spacingAndGlyphs" >3</text>
<text x="645.3" y="665.7" font-size="9.3" stroke="#000" stroke-width="0.22" textLength="5.45" lengthAdjust="spacingAndGlyphs" >4</text>
<text x="582.4" y="784.4" font-size="9.3" stroke="#000" stroke-width="0.22" text-anchor="middle" textLength="41.65" lengthAdjust="spacingAndGlyphs" >radius [&quot;]</text>
<text x="0" y="0" font-size="9.3" stroke="#000" stroke-width="0.22" text-anchor="middle" textLength="90.74" lengthAdjust="spacingAndGlyphs" transform="translate(659 705.3) rotate(-90)">Intensity [mJy/beam]</text>
<text x="528.6" y="660.1" font-size="9.3" fill="#404040" stroke="#404040" stroke-width="0.22" textLength="21.61" lengthAdjust="spacingAndGlyphs" >Data</text>
<text x="528.6" y="671.7" font-size="9.3" fill="#0000ff" stroke="#0000ff" stroke-width="0.22" textLength="28.4" lengthAdjust="spacingAndGlyphs" style="stroke-width:0.24px">Model</text>
<text x="528.6" y="683.9" font-size="9.3" fill="#a0a0a0" stroke="#a0a0a0" stroke-width="0.22" textLength="39.49" lengthAdjust="spacingAndGlyphs" >Residual</text>
<rect x="522.5" y="805.9" width="120.0" height="120.0" fill="#fff"/>
<g clip-path="url(#cp5)">
<path d="M557.03 916.75L557.46 916.85L557.88 916.97L558.31 917.09L558.74 917.2L559.16 917.28L559.59 917.34L560.02 917.37L560.44 917.36L560.87 917.32L561.3 917.25L561.72 917.16L562.15 917.07L562.57 916.99L563 916.91L563.43 916.86L563.85 916.83L564.28 916.82L564.71 916.82L565.13 916.85L565.56 916.87L565.99 916.9L566.41 916.92L566.84 916.93L567.26 916.93L567.69 916.93L568.12 916.92L568.54 916.91L568.97 916.91L569.4 916.92L569.82 916.95L570.25 916.99L570.68 917.05L571.1 917.12L571.53 917.18L571.95 917.24L572.38 917.27L572.81 917.29L573.23 917.26L573.66 917.21L574.09 917.12L574.51 917L574.94 916.87L575.37 916.72L575.79 916.58L576.22 916.46L576.64 916.36L577.07 916.3L577.5 916.26L577.92 916.26L578.35 916.29L578.78 916.34L579.2 916.39L579.63 916.45L580.06 916.5L580.48 916.52L580.91 916.53L581.33 916.52L581.76 916.48L582.19 916.44L582.61 916.39L583.04 916.34L583.47 916.3L583.89 916.28L584.32 916.28L584.74 916.31L585.17 916.34L585.6 916.39L586.02 916.45L586.45 916.51L586.88 916.56L587.3 916.59L587.73 916.62L588.16 916.63L588.58 916.63L589.01 916.63L589.43 916.63L589.86 916.65L590.29 916.68L590.71 916.74L591.14 916.82L591.57 916.91L591.99 917.01L592.42 917.12L592.85 917.22L593.27 917.3L593.7 917.36L594.12 917.38L594.55 917.36L594.98 917.31L595.4 917.22L595.83 917.11L596.26 917L596.68 916.88L597.11 916.78L597.54 916.7L597.96 916.65L598.39 916.64L598.81 916.66L599.24 916.71L599.67 916.78L600.09 916.87L600.52 916.95L600.95 917.03L601.37 917.09L601.8 917.14L602.23 917.16L602.65 917.17L603.08 917.15L603.5 917.13L603.93 917.11L604.36 917.09L604.78 917.08L605.21 917.08L605.64 917.08L606.06 917.09L606.49 917.1L606.92 917.11L607.34 917.1L607.77 917.08" stroke="#c4c4c4" stroke-width="0.8" fill="none" stroke-linejoin="round" stroke-linecap="round" />
<path d="M527.13 918.09L527.5 917.8L527.87 917.54L528.24 917.31L528.61 917.11L528.98 916.93L529.35 916.75L529.72 916.55L530.09 916.32L530.46 916.06L530.83 915.77L531.2 915.47L531.57 915.18L531.94 914.91L532.31 914.7L532.68 914.58L533.05 914.55L533.42 914.65L533.79 914.86L534.16 915.19L534.53 915.6L534.9 916.07L535.27 916.57L535.64 917.05L536.01 917.48L536.38 917.83L536.75 918.08L537.12 918.21L537.48 918.23L537.85 918.15L538.22 917.99L538.59 917.79L538.96 917.59L539.33 917.4L539.7 917.27L540.07 917.2L540.44 917.21L540.81 917.29L541.18 917.43L541.55 917.62L541.92 917.81L542.29 918L542.66 918.14L543.03 918.22L543.4 918.23L543.77 918.17L544.14 918.05L544.51 917.87L544.88 917.66L545.25 917.45L545.62 917.25L545.99 917.08L546.36 916.96L546.73 916.88L547.1 916.84L547.47 916.83L547.84 916.82L548.21 916.8L548.57 916.74L548.94 916.62L549.31 916.44L549.68 916.19L550.05 915.89L550.42 915.55L550.79 915.22L551.16 914.91L551.53 914.67L551.9 914.52L552.27 914.5L552.64 914.61L553.01 914.86L553.38 915.24L553.75 915.73L554.12 916.29L554.49 916.89L554.86 917.48L555.23 918.03L555.6 918.5L555.97 918.87L556.34 919.12L556.71 919.26L557.08 919.29L557.45 919.23L557.82 919.1L558.19 918.94L558.56 918.76L558.93 918.59L559.3 918.44L559.67 918.3L560.03 918.19L560.4 918.08L560.77 917.96L561.14 917.82L561.51 917.63L561.88 917.39L562.25 917.1L562.62 916.76L562.99 916.39L563.36 916.02L563.73 915.66L564.1 915.34L564.47 915.16L564.84 915.14L565.21 915.23L565.58 915.41L565.95 915.67L566.32 915.96L566.69 916.26L567.06 916.54L567.43 916.77L567.8 916.94L568.17 917.04L568.54 917.09L568.91 917.09L569.28 917.06L569.65 917.02L570.02 916.98L570.39 916.96L570.76 916.95L571.12 916.94L571.49 916.9L571.86 916.81L572.23 916.68L572.6 916.47L572.97 916.13L573.34 915.63L573.71 914.89L574.08 913.84L574.45 912.39L574.82 910.45L575.19 907.91L575.56 904.68L575.93 900.7L576.3 895.93L576.67 890.36L577.04 884.05L577.41 877.07L577.78 869.59L578.15 861.79L578.52 853.89L578.89 846.14L579.26 838.76L579.63 832L580 826.03L580.37 820.99L580.74 816.97L581.11 813.99L581.48 812L581.85 810.9L582.22 810.5L582.58 810.5L582.95 810.9L583.32 812L583.69 813.99L584.06 816.97L584.43 820.99L584.8 826.03L585.17 832L585.54 838.76L585.91 846.14L586.28 853.89L586.65 861.79L587.02 869.59L587.39 877.07L587.76 884.05L588.13 890.36L588.5 895.93L588.87 900.7L589.24 904.68L589.61 907.91L589.98 910.45L590.35 912.39L590.72 913.84L591.09 914.89L591.46 915.63L591.83 916.13L592.2 916.47L592.57 916.68L592.94 916.81L593.31 916.9L593.68 916.94L594.04 917.02L594.41 917.06L594.78 917.05L595.15 917L595.52 916.91L595.89 916.79L596.26 916.65L596.63 916.53L597 916.43L597.37 916.38L597.74 916.38L598.11 916.44L598.48 916.55L598.85 916.69L599.22 916.84L599.59 916.96L599.96 917.03L600.33 917.01L600.7 916.9L601.07 916.7L601.44 916.44L601.81 916.15L602.18 915.86L602.55 915.61L602.92 915.42L603.29 915.32L603.66 915.33L604.03 915.45L604.4 915.67L604.77 915.97L605.13 916.33L605.5 916.72L605.87 917.1L606.24 917.46L606.61 917.76L606.98 918.01L607.35 918.19L607.72 918.3L608.09 918.38L608.46 918.42L608.83 918.46L609.2 918.5L609.57 918.55L609.94 918.63L610.31 918.71L610.68 918.8L611.05 918.87L611.42 918.89L611.79 918.85L612.16 918.72L612.53 918.49L612.9 918.16L613.27 917.72L613.64 917.21L614.01 916.64L614.38 916.05L614.75 915.49L615.12 914.99L615.49 914.59L615.86 914.32L616.23 914.19L616.59 914.21L616.96 914.36L617.33 914.63L617.7 914.99L618.07 915.4L618.44 915.82L618.81 916.22L619.18 916.58L619.55 916.86L619.92 917.08L620.29 917.22L620.66 917.3L621.03 917.35L621.4 917.37L621.77 917.4L622.14 917.44L622.51 917.53L622.88 917.65L623.25 917.8L623.62 917.97L623.99 918.14L624.36 918.29L624.73 918.39L625.1 918.44L625.47 918.41L625.84 918.3L626.21 918.13L626.58 917.91L626.95 917.65L627.32 917.39L627.68 917.16L628.05 916.98L628.42 916.87L628.79 916.85L629.16 916.9L629.53 917.02L629.9 917.19L630.27 917.37L630.64 917.54L631.01 917.66L631.38 917.71L631.75 917.66L632.12 917.51L632.49 917.25L632.86 916.91L633.23 916.5L633.6 916.07L633.97 915.64L634.34 915.25L634.71 914.94L635.08 914.74L635.45 914.65L635.82 914.68L636.19 914.83L636.56 915.06L636.93 915.37L637.3 915.72L637.67 916.08" stroke="#000" stroke-width="1.5" fill="none" stroke-linejoin="round" stroke-linecap="round" />
<path d="M527.13 917L527.5 917L527.87 917L528.24 917L528.61 917L528.98 917L529.35 917L529.72 917L530.09 917L530.46 917L530.83 917L531.2 917L531.57 917L531.94 917L532.31 917L532.68 917L533.05 917L533.42 917L533.79 917L534.16 917L534.53 917L534.9 917L535.27 917L535.64 917L536.01 917L536.38 917L536.75 917L537.12 917L537.48 917L537.85 917L538.22 917L538.59 917L538.96 917L539.33 917L539.7 917L540.07 917L540.44 917L540.81 917L541.18 917L541.55 917L541.92 917L542.29 917L542.66 917L543.03 917L543.4 917L543.77 917L544.14 917L544.51 917L544.88 917L545.25 917L545.62 917L545.99 917L546.36 917L546.73 917L547.1 917L547.47 917L547.84 917L548.21 917L548.57 917L548.94 917L549.31 917L549.68 917L550.05 917L550.42 917L550.79 917L551.16 917L551.53 917L551.9 917L552.27 917L552.64 917L553.01 917L553.38 917L553.75 917L554.12 917L554.49 917L554.86 917L555.23 917L555.6 917L555.97 917L556.34 917L556.71 917L557.08 917L557.45 917L557.82 917L558.19 917L558.56 917L558.93 917L559.3 917L559.67 917L560.03 917L560.4 917L560.77 917L561.14 917L561.51 917L561.88 917L562.25 917L562.62 917L562.99 917L563.36 917L563.73 917L564.1 917L564.47 917L564.84 917L565.21 917L565.58 917L565.95 917L566.32 917L566.69 917L567.06 917L567.43 917L567.8 917L568.17 917L568.54 917L568.91 917L569.28 917L569.65 917L570.02 916.99L570.39 916.98L570.76 916.97L571.12 916.94L571.49 916.9L571.86 916.81L572.23 916.68L572.6 916.47L572.97 916.13L573.34 915.63L573.71 914.89L574.08 913.84L574.45 912.39L574.82 910.45L575.19 907.91L575.56 904.68L575.93 900.7L576.3 895.93L576.67 890.36L577.04 884.05L577.41 877.07L577.78 869.59L578.15 861.79L578.52 853.89L578.89 846.14L579.26 838.76L579.63 832L580 826.03L580.37 820.99L580.74 816.97L581.11 813.99L581.48 812L581.85 810.9L582.22 810.5L582.58 810.5L582.95 810.9L583.32 812L583.69 813.99L584.06 816.97L584.43 820.99L584.8 826.03L585.17 832L585.54 838.76L585.91 846.14L586.28 853.89L586.65 861.79L587.02 869.59L587.39 877.07L587.76 884.05L588.13 890.36L588.5 895.93L588.87 900.7L589.24 904.68L589.61 907.91L589.98 910.45L590.35 912.39L590.72 913.84L591.09 914.89L591.46 915.63L591.83 916.13L592.2 916.47L592.57 916.68L592.94 916.81L593.31 916.9L593.68 916.94L594.04 916.97L594.41 916.98L594.78 916.99L595.15 917L595.52 917L595.89 917L596.26 917L596.63 917L597 917L597.37 917L597.74 917L598.11 917L598.48 917L598.85 917L599.22 917L599.59 917L599.96 917L600.33 917L600.7 917L601.07 917L601.44 917L601.81 917L602.18 917L602.55 917L602.92 917L603.29 917L603.66 917L604.03 917L604.4 917L604.77 917L605.13 917L605.5 917L605.87 917L606.24 917L606.61 917L606.98 917L607.35 917L607.72 917L608.09 917L608.46 917L608.83 917L609.2 917L609.57 917L609.94 917L610.31 917L610.68 917L611.05 917L611.42 917L611.79 917L612.16 917L612.53 917L612.9 917L613.27 917L613.64 917L614.01 917L614.38 917L614.75 917L615.12 917L615.49 917L615.86 917L616.23 917L616.59 917L616.96 917L617.33 917L617.7 917L618.07 917L618.44 917L618.81 917L619.18 917L619.55 917L619.92 917L620.29 917L620.66 917L621.03 917L621.4 917L621.77 917L622.14 917L622.51 917L622.88 917L623.25 917L623.62 917L623.99 917L624.36 917L624.73 917L625.1 917L625.47 917L625.84 917L626.21 917L626.58 917L626.95 917L627.32 917L627.68 917L628.05 917L628.42 917L628.79 917L629.16 917L629.53 917L629.9 917L630.27 917L630.64 917L631.01 917L631.38 917L631.75 917L632.12 917L632.49 917L632.86 917L633.23 917L633.6 917L633.97 917L634.34 917L634.71 917L635.08 917L635.45 917L635.82 917L636.19 917L636.56 917L636.93 917L637.3 917L637.67 917" stroke="#0000ff" stroke-width="1.45" fill="none" stroke-linejoin="round" stroke-linecap="round" />
</g>
<rect x="522.5" y="805.9" width="120" height="120" fill="none" stroke="#000" stroke-width="1.1"/>
<path d="M537.1 925.9v-3.6M537.1 805.9v3.6M582.4 925.9v-3.6M582.4 805.9v3.6M627.7 925.9v-3.6M627.7 805.9v3.6M522.5 917h3.6M642.5 917h-3.6M522.5 885.2h3.6M642.5 885.2h-3.6M522.5 853.4h3.6M642.5 853.4h-3.6M522.5 821.6h3.6M642.5 821.6h-3.6" stroke="#000" stroke-width="1.0" fill="none"/>
<path d="M528.04 925.9v-2.1M528.04 805.9v2.1M546.16 925.9v-2.1M546.16 805.9v2.1M555.22 925.9v-2.1M555.22 805.9v2.1M564.28 925.9v-2.1M564.28 805.9v2.1M573.34 925.9v-2.1M573.34 805.9v2.1M591.46 925.9v-2.1M591.46 805.9v2.1M600.52 925.9v-2.1M600.52 805.9v2.1M609.58 925.9v-2.1M609.58 805.9v2.1M618.64 925.9v-2.1M618.64 805.9v2.1M636.76 925.9v-2.1M636.76 805.9v2.1M522.5 923.36h2.1M642.5 923.36h-2.1M522.5 910.64h2.1M642.5 910.64h-2.1M522.5 904.28h2.1M642.5 904.28h-2.1M522.5 897.92h2.1M642.5 897.92h-2.1M522.5 891.56h2.1M642.5 891.56h-2.1M522.5 878.84h2.1M642.5 878.84h-2.1M522.5 872.48h2.1M642.5 872.48h-2.1M522.5 866.12h2.1M642.5 866.12h-2.1M522.5 859.76h2.1M642.5 859.76h-2.1M522.5 847.04h2.1M642.5 847.04h-2.1M522.5 840.68h2.1M642.5 840.68h-2.1M522.5 834.32h2.1M642.5 834.32h-2.1M522.5 827.96h2.1M642.5 827.96h-2.1M522.5 815.24h2.1M642.5 815.24h-2.1M522.5 808.88h2.1M642.5 808.88h-2.1" stroke="#000" stroke-width="0.85" fill="none"/>
<text x="537.1" y="935.1" font-size="9.3" stroke="#000" stroke-width="0.22" text-anchor="middle" textLength="12.62" lengthAdjust="spacingAndGlyphs" >−1</text>
<text x="582.4" y="935.1" font-size="9.3" stroke="#000" stroke-width="0.22" text-anchor="middle" textLength="5.45" lengthAdjust="spacingAndGlyphs" >0</text>
<text x="627.7" y="935.1" font-size="9.3" stroke="#000" stroke-width="0.22" text-anchor="middle" textLength="5.45" lengthAdjust="spacingAndGlyphs" >1</text>
<text x="645.3" y="920.1" font-size="9.3" stroke="#000" stroke-width="0.22" textLength="5.45" lengthAdjust="spacingAndGlyphs" >0</text>
<text x="645.3" y="888.3" font-size="9.3" stroke="#000" stroke-width="0.22" textLength="5.45" lengthAdjust="spacingAndGlyphs" >1</text>
<text x="645.3" y="856.5" font-size="9.3" stroke="#000" stroke-width="0.22" textLength="5.45" lengthAdjust="spacingAndGlyphs" >2</text>
<text x="645.3" y="824.7" font-size="9.3" stroke="#000" stroke-width="0.22" textLength="5.45" lengthAdjust="spacingAndGlyphs" >3</text>
<text x="582.4" y="945.5" font-size="9.3" stroke="#000" stroke-width="0.22" text-anchor="middle" textLength="41.65" lengthAdjust="spacingAndGlyphs" >radius [&quot;]</text>
<text x="0" y="0" font-size="9.3" stroke="#000" stroke-width="0.22" text-anchor="middle" textLength="90.74" lengthAdjust="spacingAndGlyphs" transform="translate(659 866.4) rotate(-90)">Intensity [mJy/beam]</text>
<text x="528.6" y="821.2" font-size="9.3" fill="#404040" stroke="#404040" stroke-width="0.22" textLength="21.61" lengthAdjust="spacingAndGlyphs" >Data</text>
<text x="528.6" y="832.8" font-size="9.3" fill="#0000ff" stroke="#0000ff" stroke-width="0.22" textLength="28.4" lengthAdjust="spacingAndGlyphs" style="stroke-width:0.24px">Model</text>
<text x="528.6" y="845" font-size="9.3" fill="#a0a0a0" stroke="#a0a0a0" stroke-width="0.22" textLength="39.49" lengthAdjust="spacingAndGlyphs" >Residual</text>
</svg></body></html>
